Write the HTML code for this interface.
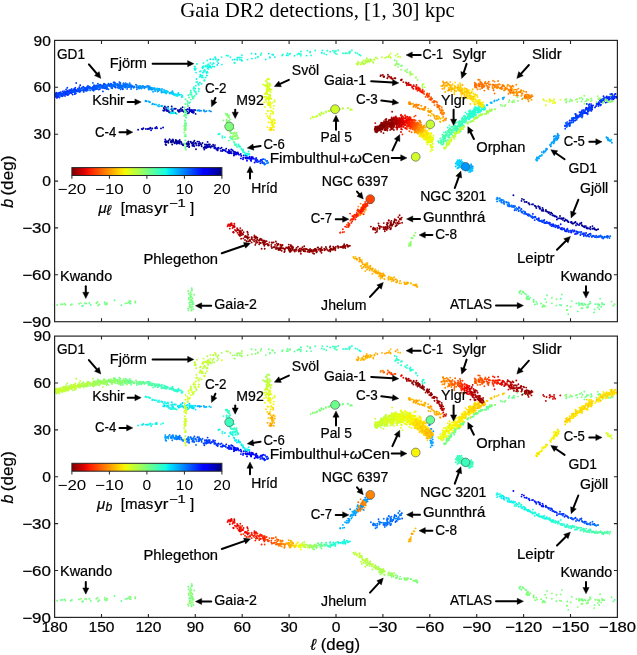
<!DOCTYPE html><html><head><meta charset="utf-8"><style>html,body{margin:0;padding:0;background:#fff}svg{display:block;will-change:transform}</style></head><body><svg width="637" height="655" viewBox="0 0 637 655">
<rect width="637" height="655" fill="#fff"/>
<g fill="none" stroke-linecap="round">
<path stroke="#000080" stroke-width="1.90" d="M172.2 110.9h0M177.8 110.3h0M166.8 141.6h0M196.0 143.5h0M180.8 141.8h0M209.3 144.8h0M193.6 144.7h0M188.5 141.6h0M172.2 144.5h0M173.1 141.0h0M174.6 143.2h0M174.1 142.4h0M190.8 142.1h0M170.8 141.8h0M188.7 145.0h0M168.7 140.6h0M172.9 139.5h0M166.1 145.0h0M165.7 141.3h0M187.0 143.8h0M205.0 146.4h0M524.6 201.9h0M526.7 202.0h0M529.6 204.5h0M532.0 204.4h0M535.3 206.3h0M535.9 206.5h0M542.5 207.9h0M546.1 211.2h0M545.8 211.1h0M551.1 212.8h0M552.1 213.6h0M554.9 216.2h0M556.0 216.4h0M560.0 216.0h0M561.1 218.2h0M568.4 222.1h0M573.0 223.8h0M574.2 222.9h0M575.1 222.5h0M581.9 225.3h0M583.8 226.7h0M585.8 226.1h0"/>
<path stroke="#00008c" stroke-width="1.90" d="M168.0 106.8h0M167.1 110.2h0M182.6 107.3h0M163.2 110.4h0M163.8 108.1h0M178.3 111.0h0M174.6 108.8h0M181.1 110.9h0M150.7 128.2h0M178.7 142.2h0M212.2 146.4h0M166.2 142.3h0M188.5 144.6h0M189.1 147.1h0M188.4 141.6h0M198.4 145.5h0M166.5 141.4h0M179.6 142.0h0M202.5 143.0h0M168.4 142.8h0M208.3 144.4h0M179.3 141.3h0M183.2 145.2h0M197.4 141.6h0M201.0 144.4h0M188.4 143.2h0M172.0 142.0h0M171.8 142.0h0M176.5 141.7h0M173.4 141.0h0M522.0 198.9h0M523.9 199.8h0M528.5 203.4h0M538.8 206.8h0M543.5 210.9h0M545.9 209.9h0M547.3 211.7h0M549.7 212.5h0M550.3 214.4h0M553.1 215.5h0M561.3 218.9h0M562.9 218.3h0M564.5 221.0h0M565.5 219.5h0M576.0 225.3h0M579.1 225.0h0M592.5 226.1h0M593.2 228.5h0M595.5 229.6h0M596.3 230.0h0M597.7 229.4h0M598.1 229.3h0"/>
<path stroke="#000098" stroke-width="1.90" d="M179.9 109.7h0M182.3 110.4h0M184.0 111.7h0M167.9 110.8h0M172.8 111.0h0M189.8 111.3h0M171.7 106.5h0M166.1 107.9h0M172.9 109.1h0M182.1 109.7h0M164.9 106.4h0M179.7 111.6h0M156.5 126.9h0M176.1 140.1h0M192.1 143.0h0M205.0 147.7h0M176.7 143.5h0M189.2 146.7h0M192.8 144.9h0M188.8 144.2h0M186.3 143.7h0M171.6 141.8h0M193.2 143.1h0M203.6 147.8h0M169.6 139.2h0M193.5 142.2h0M201.4 144.6h0M213.4 145.9h0M171.2 142.4h0M176.2 142.6h0M194.4 140.8h0M188.1 144.4h0M171.2 140.4h0M187.1 146.2h0M206.3 147.7h0M175.7 141.5h0M201.7 146.2h0M177.2 141.1h0M181.4 142.4h0M179.7 139.9h0M175.8 139.9h0M183.1 144.1h0M187.1 143.2h0M206.6 144.8h0M215.0 148.0h0M167.4 141.5h0M168.0 141.7h0M526.2 202.0h0M528.9 203.1h0M534.7 205.6h0M539.9 207.1h0M540.2 208.8h0M542.1 210.7h0M543.1 209.5h0M548.6 213.0h0M548.5 212.3h0M554.8 216.3h0M566.0 220.2h0M571.5 222.0h0M572.0 223.3h0M575.5 221.9h0M581.0 223.8h0M581.4 222.7h0M582.5 226.0h0M586.6 228.3h0M587.8 228.5h0M590.4 227.0h0M592.4 228.7h0M594.4 228.2h0"/>
<path stroke="#0000a4" stroke-width="1.90" d="M166.6 110.7h0M189.0 112.7h0M178.8 111.8h0M185.0 111.3h0M184.4 112.0h0M192.6 112.2h0M168.5 110.4h0M189.4 107.9h0M185.0 110.8h0M173.4 112.4h0M193.0 112.7h0M195.6 113.9h0M149.1 128.9h0M152.3 128.5h0M199.3 145.2h0M209.5 146.5h0M206.3 144.6h0M199.0 145.1h0M204.9 144.5h0M191.6 143.6h0M182.6 144.8h0M218.1 148.0h0M215.0 145.1h0M196.0 149.2h0M208.1 146.7h0M178.2 142.4h0M177.5 143.3h0M172.8 140.1h0M165.5 144.2h0M205.7 146.9h0M213.1 144.6h0M174.7 142.6h0M176.8 142.7h0M206.5 147.6h0M165.3 139.4h0M205.5 147.3h0M229.3 153.1h0M211.3 146.3h0M206.9 147.0h0M207.5 147.2h0M199.9 143.1h0M198.5 143.5h0M187.9 144.2h0M207.8 146.8h0M179.3 143.5h0M177.5 141.6h0M181.3 143.9h0M513.4 195.3h0M521.5 200.9h0M533.0 204.3h0M556.9 219.5h0M558.2 218.4h0M559.7 218.2h0M562.9 219.9h0M567.8 221.3h0M568.4 221.8h0M570.7 222.4h0M580.0 223.4h0M586.9 227.4h0M589.0 228.3h0M590.4 229.2h0M594.6 229.2h0"/>
<path stroke="#0000b0" stroke-width="1.90" d="M175.4 113.1h0M186.1 110.1h0M191.5 110.6h0M166.2 109.9h0M171.3 109.2h0M184.6 109.8h0M169.9 112.3h0M169.1 112.2h0M180.9 108.5h0M193.6 111.8h0M192.6 110.3h0M190.9 110.8h0M187.4 109.2h0M195.3 110.1h0M191.5 111.3h0M187.9 113.4h0M184.5 111.2h0M167.5 110.7h0M164.0 110.7h0M164.0 108.3h0M155.4 128.3h0M161.0 128.4h0M143.4 128.3h0M138.1 129.7h0M176.4 143.5h0M193.4 145.9h0M222.6 149.9h0M196.4 145.3h0M209.8 144.4h0M195.5 143.0h0M214.5 146.9h0M192.4 145.8h0M178.5 141.1h0M210.7 147.6h0M208.8 146.5h0M223.0 149.6h0M221.6 147.7h0M194.2 146.3h0M234.8 151.9h0M223.3 150.2h0M229.6 152.8h0M199.9 143.2h0M188.9 143.6h0M190.7 141.6h0M217.5 150.4h0M231.0 151.8h0M165.0 141.4h0M207.3 145.5h0M536.3 208.0h0M538.2 206.3h0M539.6 208.6h0M541.7 210.2h0M552.3 215.2h0M553.9 215.5h0M556.8 217.0h0M563.7 218.2h0M567.1 220.5h0M571.5 222.3h0M577.0 223.4h0M584.4 226.1h0M584.8 227.3h0"/>
<path stroke="#0000bc" stroke-width="1.90" d="M164.8 109.8h0M175.8 108.8h0M179.0 110.2h0M189.2 109.8h0M190.1 110.9h0M189.8 110.0h0M191.3 111.1h0M186.3 112.1h0M167.7 110.5h0M187.4 111.8h0M151.1 130.3h0M163.1 127.5h0M150.2 127.7h0M142.5 129.2h0M148.1 128.7h0M155.4 128.0h0M145.8 128.9h0M228.8 150.0h0M215.6 147.7h0M216.4 149.4h0M222.3 151.1h0M229.5 150.8h0M235.6 152.4h0M227.4 152.2h0M209.5 146.5h0M207.6 141.9h0M195.1 143.4h0M225.0 150.3h0M199.0 141.6h0M165.4 142.2h0M204.3 149.5h0M220.9 150.9h0"/>
<path stroke="#0000c8" stroke-width="1.90" d="M193.7 112.6h0M182.9 111.1h0M193.8 112.2h0M189.5 109.4h0M194.0 110.0h0M192.4 111.9h0M191.7 112.1h0M185.2 112.1h0M189.6 110.8h0M141.8 128.9h0M157.0 128.3h0M147.3 129.1h0M214.4 148.2h0M220.2 148.6h0M226.2 148.7h0M233.9 155.5h0M234.1 151.8h0M229.6 153.2h0M230.6 152.9h0M217.8 149.8h0M233.4 151.5h0M217.1 148.8h0M232.5 150.1h0M246.9 155.8h0M236.1 152.6h0M228.8 152.0h0M577.8 224.5h0"/>
<path stroke="#0000d4" stroke-width="1.90" d="M191.2 110.0h0M190.9 110.1h0M231.5 153.3h0M237.0 152.9h0M231.2 149.5h0M218.5 147.8h0M228.4 151.6h0M228.6 152.9h0M241.2 155.6h0M236.1 154.5h0M206.9 146.2h0M241.3 155.9h0M234.6 153.7h0M214.6 147.2h0"/>
<path stroke="#0000e0" stroke-width="1.90" d="M234.2 154.8h0M233.6 153.3h0M247.5 157.8h0M236.6 153.4h0M239.0 154.8h0M225.9 151.2h0M237.7 152.5h0M243.7 155.4h0M238.2 153.3h0M249.5 157.8h0M246.2 158.6h0M237.0 154.1h0M235.0 154.3h0M229.1 151.7h0M224.8 150.4h0"/>
<path stroke="#0000ec" stroke-width="1.90" d="M247.9 157.8h0M245.2 155.4h0M244.9 154.7h0M255.6 160.1h0M247.2 158.6h0M245.5 157.8h0M243.2 157.7h0M247.0 157.9h0M252.8 157.2h0M247.1 158.5h0M240.7 154.0h0M243.0 159.2h0M236.8 153.6h0M251.7 157.8h0"/>
<path stroke="#0000f8" stroke-width="1.90" d="M253.9 158.8h0"/>
<path stroke="#0000ff" stroke-width="1.90" d="M251.7 159.0h0M247.0 160.7h0M256.3 158.1h0M240.9 158.4h0M249.9 158.8h0M245.4 157.8h0M251.6 156.9h0M251.3 158.0h0M256.2 161.7h0M251.1 158.9h0"/>
<path stroke="#0000ff" stroke-width="1.90" d="M60.3 93.9h0M252.4 158.4h0M251.2 160.9h0M249.6 156.6h0M249.0 158.6h0M592.1 105.7h0M553.7 225.3h0M562.0 227.9h0M575.0 234.1h0"/>
<path stroke="#000bff" stroke-width="1.90" d="M60.7 94.5h0M58.2 95.6h0M55.4 93.5h0M55.9 94.7h0M250.8 160.2h0M254.6 162.5h0M589.5 104.1h0M584.5 113.1h0M616.1 96.8h0M605.8 102.6h0M606.8 96.4h0M591.1 107.1h0M596.7 104.0h0M611.9 94.0h0M613.4 98.6h0M616.3 97.8h0M609.0 96.9h0M614.3 96.8h0M602.2 101.6h0M561.2 228.6h0M571.2 232.5h0M574.0 231.6h0"/>
<path stroke="#0015ff" stroke-width="1.90" d="M69.9 90.8h0M61.8 94.1h0M57.5 96.9h0M58.0 94.0h0M56.8 96.1h0M56.0 96.8h0M257.1 160.1h0M261.4 159.9h0M255.9 160.3h0M604.5 99.0h0M586.7 113.3h0M612.5 98.6h0M613.0 96.8h0M591.3 108.8h0M610.1 98.6h0M609.4 99.6h0M592.1 109.5h0M611.7 96.5h0M614.6 96.8h0M608.2 97.8h0M603.5 96.3h0M586.3 107.7h0M571.2 120.8h0M582.7 113.7h0M588.2 110.3h0M588.5 110.1h0M582.5 115.9h0M576.0 115.7h0M612.4 96.4h0M616.4 96.6h0M601.6 100.6h0M610.9 96.1h0M600.9 104.8h0M538.8 218.2h0M538.2 220.2h0M549.5 222.6h0M551.8 224.5h0M552.4 225.5h0M558.0 228.1h0M560.7 224.2h0M559.1 227.2h0M561.6 229.2h0M566.9 231.4h0M571.4 231.9h0M576.3 231.4h0M586.1 232.9h0M587.6 235.0h0"/>
<path stroke="#0020ff" stroke-width="1.90" d="M68.7 91.9h0M57.3 94.3h0M65.0 95.9h0M66.1 93.2h0M65.4 94.1h0M60.4 94.9h0M69.3 90.4h0M66.0 93.3h0M55.6 96.6h0M55.6 95.9h0M61.3 95.9h0M77.3 90.0h0M59.3 92.8h0M56.5 94.0h0M71.6 93.3h0M59.7 93.9h0M79.5 91.7h0M58.3 96.7h0M71.9 90.4h0M75.6 90.5h0M80.2 85.2h0M256.9 160.5h0M260.7 160.2h0M258.8 161.5h0M257.4 160.1h0M613.7 96.4h0M613.6 99.1h0M591.5 105.7h0M575.9 117.3h0M576.1 117.5h0M582.6 112.5h0M595.0 107.4h0M606.0 97.5h0M576.8 115.8h0M592.0 107.8h0M614.5 97.8h0M579.7 114.7h0M601.0 100.6h0M599.9 100.4h0M601.8 100.6h0M615.6 94.0h0M588.1 111.2h0M585.3 113.0h0M601.3 101.9h0M580.8 114.8h0M602.5 100.8h0M577.9 117.5h0M609.5 97.4h0M606.4 100.2h0M586.8 103.9h0M608.3 99.7h0M612.8 97.1h0M604.5 98.8h0M591.1 104.1h0M613.4 99.2h0M598.9 103.0h0M597.5 104.3h0M596.1 106.0h0M607.3 98.7h0M602.7 101.0h0M611.9 94.4h0M588.2 107.9h0M584.9 112.7h0M591.3 110.9h0M589.5 107.3h0M613.1 96.6h0M575.6 114.0h0M570.0 123.5h0M591.1 105.6h0M598.7 104.2h0M581.2 114.2h0M537.0 219.1h0M539.2 220.8h0M543.8 220.6h0M545.4 222.8h0M547.9 223.0h0M549.8 222.9h0M550.2 224.9h0M553.1 224.3h0M557.7 227.0h0M560.5 228.5h0M564.0 228.9h0M564.8 230.4h0M565.3 231.3h0M566.6 229.7h0M571.1 230.8h0M574.5 230.5h0M575.9 233.5h0M580.0 232.1h0M580.4 235.0h0M585.1 235.0h0M585.7 235.5h0"/>
<path stroke="#002aff" stroke-width="1.90" d="M65.3 91.7h0M56.9 97.9h0M87.5 86.4h0M67.2 90.7h0M63.0 94.8h0M65.0 91.8h0M70.8 91.1h0M80.1 90.1h0M66.2 94.5h0M75.6 91.4h0M79.6 90.3h0M64.2 92.3h0M71.1 92.6h0M76.9 90.9h0M72.7 94.6h0M87.3 89.7h0M60.9 95.4h0M63.9 94.1h0M58.9 95.9h0M61.3 94.9h0M55.9 95.5h0M74.2 90.4h0M61.4 94.8h0M67.3 92.7h0M58.9 94.7h0M73.4 91.9h0M57.8 95.5h0M59.8 93.5h0M88.9 87.2h0M105.0 88.4h0M67.9 95.0h0M70.9 92.2h0M74.1 89.9h0M61.0 93.5h0M61.0 93.7h0M58.9 93.3h0M70.2 91.1h0M63.2 93.1h0M87.3 88.5h0M66.4 92.8h0M72.0 91.5h0M64.5 93.3h0M68.9 93.2h0M69.6 92.9h0M79.3 87.3h0M74.3 90.0h0M74.9 93.7h0M75.6 90.3h0M255.5 159.8h0M256.6 160.9h0M260.0 161.3h0M255.8 160.3h0M260.4 163.2h0M262.2 161.4h0M256.0 158.5h0M260.8 160.0h0M586.6 113.0h0M592.0 106.1h0M607.2 102.1h0M575.9 116.1h0M589.1 107.9h0M611.9 99.1h0M587.4 108.7h0M588.6 109.3h0M578.7 116.4h0M600.8 99.3h0M614.3 97.9h0M567.6 124.5h0M599.4 103.5h0M585.5 109.8h0M602.0 100.8h0M580.0 116.2h0M586.0 108.4h0M581.5 112.9h0M598.7 102.1h0M607.3 97.5h0M579.5 112.1h0M591.1 108.7h0M603.1 98.8h0M596.8 104.3h0M602.4 100.4h0M612.3 96.7h0M615.0 94.3h0M592.3 107.5h0M603.7 98.4h0M584.9 111.4h0M597.0 103.4h0M575.2 120.5h0M611.7 100.7h0M588.9 107.1h0M571.8 122.6h0M569.7 120.5h0M587.6 113.5h0M614.2 95.1h0M591.0 109.4h0M599.8 104.5h0M574.9 120.6h0M600.3 105.4h0M575.6 117.7h0M583.6 111.8h0M565.2 125.5h0M611.6 97.0h0M532.9 213.9h0M532.3 216.5h0M542.3 222.1h0M545.6 222.8h0M548.8 222.7h0M553.2 226.3h0M555.4 227.3h0M556.6 225.8h0M558.4 225.8h0M560.7 228.8h0M563.9 228.4h0M564.0 229.0h0M567.4 228.8h0M566.9 230.1h0M570.4 230.6h0M572.7 230.1h0M573.4 231.3h0M573.3 231.5h0M577.1 231.8h0M576.8 233.8h0M577.2 233.6h0M578.5 232.6h0M582.3 233.9h0M582.6 234.1h0M583.6 234.0h0M583.8 236.0h0M588.6 234.7h0M600.0 236.5h0"/>
<path stroke="#0035ff" stroke-width="1.90" d="M58.9 94.4h0M63.5 94.7h0M79.6 91.5h0M62.7 93.9h0M69.4 93.0h0M75.0 92.1h0M56.4 94.8h0M57.1 95.5h0M98.2 86.6h0M65.3 92.5h0M71.0 91.5h0M87.2 88.4h0M56.4 92.8h0M93.6 89.1h0M62.6 91.5h0M115.0 86.4h0M106.0 87.8h0M90.0 88.3h0M67.9 94.6h0M77.4 91.2h0M58.7 94.4h0M85.7 88.2h0M75.0 88.4h0M57.5 94.3h0M68.1 92.5h0M62.6 96.3h0M70.7 91.2h0M60.6 93.0h0M84.0 89.3h0M78.0 90.0h0M58.0 93.4h0M94.0 85.4h0M56.4 93.8h0M78.8 91.3h0M86.7 90.0h0M70.0 92.3h0M96.2 87.9h0M103.1 86.7h0M100.6 86.6h0M56.1 95.2h0M73.8 89.1h0M94.5 87.2h0M68.6 92.5h0M60.1 94.3h0M72.4 91.7h0M66.6 94.3h0M92.4 88.1h0M57.4 94.8h0M100.0 85.0h0M64.0 93.8h0M69.3 90.3h0M100.8 86.0h0M56.8 93.3h0M68.8 94.1h0M71.0 89.7h0M56.2 96.1h0M57.0 93.9h0M75.3 87.7h0M74.8 94.0h0M115.5 87.5h0M65.0 93.2h0M66.9 91.7h0M75.5 90.1h0M102.9 91.4h0M76.0 90.4h0M55.4 94.4h0M78.0 88.8h0M83.4 89.4h0M263.4 159.1h0M262.6 162.2h0M567.0 125.0h0M569.4 122.5h0M582.0 110.5h0M580.5 114.2h0M583.9 110.3h0M581.5 112.6h0M593.1 105.4h0M578.8 116.6h0M612.3 96.1h0M567.6 124.9h0M584.4 112.5h0M608.7 98.3h0M575.9 117.8h0M577.0 115.4h0M588.8 109.5h0M580.7 112.3h0M598.4 106.0h0M604.9 99.0h0M573.4 121.5h0M601.0 101.9h0M581.7 113.3h0M581.5 111.6h0M603.6 100.2h0M577.6 116.4h0M588.4 109.7h0M575.4 113.9h0M577.4 117.8h0M611.8 97.9h0M603.9 101.5h0M586.9 109.5h0M567.1 122.1h0M582.4 113.4h0M580.6 113.5h0M604.6 97.8h0M572.7 119.0h0M565.0 126.1h0M581.7 112.1h0M587.8 111.8h0M588.0 110.3h0M519.5 207.8h0M526.9 214.1h0M529.9 215.6h0M534.0 217.5h0M535.5 217.2h0M534.7 220.1h0M539.9 220.6h0M541.4 221.4h0M542.4 221.3h0M544.3 219.9h0M544.3 223.0h0M546.8 223.1h0M549.2 223.7h0M551.5 226.1h0M554.0 226.3h0M556.6 226.4h0M562.3 229.6h0M568.9 232.0h0M568.6 230.6h0M584.7 233.4h0M589.6 234.0h0M589.3 236.6h0M590.5 233.8h0M591.7 236.7h0M592.5 236.1h0M593.9 235.9h0M597.6 236.9h0"/>
<path stroke="#0040ff" stroke-width="1.90" d="M83.1 90.0h0M73.3 90.2h0M69.8 92.7h0M69.7 91.9h0M93.9 86.7h0M102.6 87.1h0M87.4 89.1h0M84.6 88.0h0M68.7 93.1h0M103.1 85.7h0M111.0 84.0h0M102.4 86.8h0M81.4 88.3h0M62.9 95.3h0M83.7 90.5h0M68.6 93.6h0M83.7 91.9h0M64.0 94.8h0M74.5 90.1h0M69.0 92.1h0M79.4 91.0h0M89.5 88.3h0M87.1 88.4h0M100.1 84.7h0M83.6 90.1h0M103.7 86.4h0M73.1 92.1h0M114.5 82.4h0M63.4 94.1h0M58.9 93.8h0M71.7 90.0h0M57.8 93.7h0M87.7 87.0h0M100.5 86.7h0M83.5 86.7h0M77.7 89.8h0M57.9 95.3h0M87.6 86.6h0M73.0 91.4h0M91.3 88.0h0M122.8 89.2h0M60.9 93.3h0M99.8 89.1h0M59.5 97.6h0M117.3 85.7h0M92.7 87.7h0M104.4 84.0h0M60.6 92.3h0M85.7 90.3h0M59.5 94.6h0M61.2 94.2h0M85.4 88.5h0M103.4 84.9h0M95.4 88.8h0M83.2 86.9h0M79.7 89.7h0M69.8 91.3h0M58.4 93.8h0M66.1 89.4h0M84.1 90.4h0M76.2 83.0h0M95.2 86.3h0M123.5 83.9h0M71.1 90.3h0M74.7 91.0h0M98.9 89.5h0M67.3 87.7h0M257.8 162.1h0M262.2 162.8h0M263.4 163.3h0M566.6 126.9h0M573.7 118.7h0M573.4 120.6h0M574.9 118.2h0M612.4 97.1h0M576.4 117.1h0M581.0 116.0h0M569.1 123.7h0M572.8 119.1h0M606.7 100.2h0M583.6 112.5h0M590.8 110.0h0M581.8 115.8h0M589.6 108.7h0M589.0 110.7h0M589.6 106.5h0M575.8 118.6h0M569.2 124.0h0M588.7 105.0h0M583.1 112.6h0M583.4 113.3h0M568.5 123.9h0M578.2 115.8h0M583.1 110.2h0M569.7 126.0h0M590.7 107.6h0M573.6 117.8h0M581.1 114.6h0M600.4 101.0h0M613.3 96.9h0M565.7 125.6h0M582.1 114.4h0M571.9 119.9h0M513.9 207.1h0M517.3 208.9h0M521.9 211.5h0M525.3 212.1h0M526.0 213.8h0M527.3 214.6h0M527.8 215.2h0M530.9 216.4h0M532.6 218.0h0M534.3 216.9h0M535.2 216.7h0M536.7 219.0h0M537.3 219.2h0M539.0 219.9h0M540.1 221.0h0M544.0 222.0h0M546.8 221.6h0M550.1 224.1h0M555.2 225.3h0M568.6 230.8h0M580.7 234.2h0M581.3 232.0h0M588.2 236.2h0M595.4 237.1h0M596.1 235.6h0M598.6 237.0h0M599.4 236.5h0"/>
<path stroke="#004aff" stroke-width="1.90" d="M84.7 88.7h0M67.6 92.4h0M87.3 87.4h0M82.3 87.4h0M97.7 87.7h0M108.5 83.8h0M115.8 85.1h0M106.0 86.2h0M105.2 85.9h0M71.3 91.7h0M113.6 82.4h0M64.1 91.1h0M68.4 93.1h0M85.3 90.5h0M93.3 87.8h0M81.8 90.6h0M100.4 87.4h0M72.9 91.8h0M77.4 90.3h0M64.2 94.2h0M68.5 93.5h0M64.4 91.5h0M78.0 91.1h0M96.3 87.9h0M67.6 93.0h0M119.4 82.1h0M120.0 85.5h0M94.3 86.8h0M81.8 90.3h0M94.9 89.6h0M118.3 84.5h0M84.6 89.7h0M68.1 92.9h0M107.2 85.1h0M115.7 85.1h0M90.2 87.8h0M94.8 89.4h0M73.9 91.0h0M93.8 87.2h0M97.6 85.9h0M119.9 84.2h0M111.4 84.2h0M126.2 85.0h0M96.2 85.4h0M86.8 87.8h0M97.0 87.2h0M112.9 86.1h0M79.7 90.4h0M59.4 94.5h0M111.5 87.9h0M114.8 85.3h0M95.4 88.7h0M92.4 89.8h0M118.8 86.6h0M61.3 94.0h0M110.4 86.2h0M96.7 89.1h0M89.1 88.0h0M262.3 159.5h0M610.3 94.3h0M587.6 114.2h0M575.2 117.7h0M573.1 118.0h0M575.8 115.4h0M566.6 123.4h0M579.8 116.5h0M576.7 119.7h0M568.6 124.2h0M570.0 125.0h0M571.8 118.2h0M582.0 117.5h0M518.8 207.3h0M518.6 211.0h0M521.3 208.9h0M521.9 212.0h0M524.8 212.2h0M524.1 213.8h0M528.6 214.3h0M528.7 215.7h0M578.6 232.3h0M583.3 233.1h0M592.1 236.5h0M593.2 235.8h0M593.2 236.3h0M602.1 237.7h0M601.8 237.4h0M604.7 236.6h0M607.3 236.1h0M608.7 236.4h0"/>
<path stroke="#0055ff" stroke-width="1.90" d="M106.9 86.7h0M123.4 85.7h0M108.4 85.6h0M93.6 90.8h0M103.0 86.0h0M111.6 85.4h0M84.1 89.1h0M88.0 90.1h0M79.0 89.4h0M90.1 87.6h0M120.2 86.8h0M91.9 88.8h0M86.9 87.7h0M92.6 90.0h0M94.0 85.5h0M110.5 85.6h0M121.0 87.4h0M101.2 86.0h0M63.4 95.1h0M90.0 88.8h0M113.9 85.6h0M103.0 87.4h0M104.0 83.6h0M97.9 83.8h0M96.8 88.5h0M97.5 87.7h0M103.0 88.2h0M115.8 84.6h0M79.7 88.7h0M120.4 83.0h0M109.4 85.6h0M97.3 88.8h0M115.4 83.3h0M105.2 84.8h0M110.6 83.8h0M80.2 91.6h0M74.7 91.9h0M99.9 86.9h0M82.1 88.1h0M93.2 86.7h0M94.2 89.5h0M96.5 87.4h0M101.1 85.2h0M71.7 88.9h0M88.0 85.9h0M78.1 89.5h0M92.7 86.9h0M104.0 87.2h0M109.7 85.1h0M126.8 86.3h0M98.3 85.1h0M108.8 84.7h0M94.3 86.0h0M122.2 85.8h0M76.0 93.2h0M91.2 88.4h0M130.2 86.0h0M105.6 84.8h0M106.8 88.4h0M114.6 86.8h0M100.2 88.0h0M96.4 86.8h0M86.7 90.9h0M89.7 86.8h0M267.2 160.9h0M263.9 163.3h0M602.4 102.5h0M581.6 115.4h0M565.2 128.8h0M570.5 122.6h0M573.2 120.0h0M509.1 205.8h0M513.1 205.7h0M514.8 206.2h0M514.6 210.2h0M518.1 208.9h0M521.4 209.4h0M522.4 212.7h0M525.2 213.5h0M526.6 214.1h0M529.6 214.9h0M530.8 216.3h0M532.0 217.3h0M541.9 220.5h0M586.6 236.2h0M594.8 237.1h0M596.7 237.2h0M598.5 236.2h0M603.2 238.5h0M604.6 237.4h0M607.2 236.1h0"/>
<path stroke="#0060ff" stroke-width="1.90" d="M96.7 87.0h0M131.5 86.4h0M94.5 88.2h0M120.6 86.2h0M99.8 85.5h0M131.2 86.5h0M106.7 89.1h0M80.5 88.9h0M113.5 84.4h0M105.3 85.4h0M112.2 88.2h0M117.4 87.5h0M127.6 84.3h0M119.9 84.2h0M122.8 88.2h0M130.4 85.7h0M117.3 84.4h0M107.2 87.9h0M119.0 85.3h0M110.3 85.5h0M111.6 85.8h0M125.9 85.2h0M121.3 85.4h0M111.0 85.8h0M126.3 84.5h0M109.4 86.1h0M107.0 85.7h0M99.1 85.8h0M131.1 87.7h0M139.0 86.5h0M104.1 87.3h0M127.4 87.1h0M121.0 86.3h0M122.1 85.8h0M60.1 95.7h0M118.4 86.0h0M128.4 85.9h0M119.0 88.3h0M123.7 83.5h0M92.9 82.9h0M120.7 89.3h0M121.3 86.8h0M124.4 87.0h0M108.4 89.2h0M267.0 163.2h0M265.1 164.3h0M566.9 126.3h0M573.2 122.4h0M566.8 124.8h0M504.0 201.3h0M509.1 206.4h0M510.0 206.1h0M515.2 208.9h0M521.4 212.0h0M590.7 235.0h0M597.1 237.1h0M600.6 235.4h0M601.6 236.8h0M602.7 236.7h0M602.9 237.5h0M606.2 237.1h0M606.1 236.7h0M607.5 237.7h0M610.3 236.1h0"/>
<path stroke="#006aff" stroke-width="1.90" d="M125.6 84.9h0M126.0 86.2h0M132.4 86.2h0M132.5 86.7h0M129.5 85.8h0M128.6 87.1h0M110.5 86.4h0M123.9 85.7h0M110.6 84.1h0M118.7 85.3h0M123.6 83.5h0M118.5 84.7h0M123.6 84.5h0M125.8 83.1h0M122.0 87.1h0M124.8 86.6h0M140.2 87.0h0M113.3 86.3h0M125.8 86.9h0M124.9 86.1h0M131.5 85.5h0M124.9 84.9h0M98.1 87.3h0M125.5 86.7h0M112.5 84.9h0M101.4 87.7h0M114.3 85.1h0M112.2 87.0h0M119.7 87.5h0M122.7 85.9h0M131.1 89.1h0M136.0 84.7h0M134.0 86.5h0M105.1 86.3h0M264.6 163.9h0M264.2 163.0h0M264.5 164.5h0M567.6 125.9h0M565.8 122.9h0M503.8 202.3h0M506.1 201.9h0M506.3 202.5h0M506.8 202.3h0M508.7 203.0h0M507.8 205.8h0M509.2 204.2h0M511.4 205.4h0M511.2 206.6h0M512.8 206.9h0M514.9 206.3h0M520.2 210.5h0M523.8 211.1h0"/>
<path stroke="#0075ff" stroke-width="1.90" d="M138.9 87.1h0M117.1 84.0h0M120.6 85.9h0M137.0 87.5h0M139.3 88.2h0M145.0 86.8h0M134.7 87.0h0M129.0 86.7h0M125.5 87.6h0M114.5 83.9h0M147.1 86.0h0M136.9 89.3h0M148.6 86.1h0M121.8 88.0h0M133.7 87.7h0M100.5 86.9h0M129.7 83.2h0M127.2 88.9h0M138.8 88.0h0M118.5 87.2h0M90.1 90.4h0M266.2 161.0h0M265.0 159.5h0M554.2 141.2h0M501.3 199.6h0M501.4 202.5h0M503.3 202.8h0M504.2 204.0h0M511.8 206.5h0M516.4 207.9h0M516.3 210.3h0M609.5 238.0h0"/>
<path stroke="#0080ff" stroke-width="1.90" d="M141.3 86.4h0M150.5 88.1h0M115.8 85.3h0M123.9 85.4h0M127.2 86.9h0M150.2 88.6h0M128.9 86.4h0M126.8 86.3h0M150.2 88.7h0M129.0 84.7h0M137.0 85.7h0M136.7 86.9h0M144.3 87.2h0M141.2 88.6h0M139.1 87.2h0M143.0 86.2h0M129.5 87.3h0M210.9 111.4h0M556.5 140.1h0M556.4 137.7h0M557.5 139.0h0M550.2 145.0h0M553.8 136.5h0M497.2 197.6h0M497.7 198.2h0M497.1 201.4h0M501.6 200.6h0M501.3 201.5h0M502.9 200.0h0M507.5 204.5h0"/>
<path stroke="#008aff" stroke-width="1.90" d="M139.6 86.0h0M151.7 89.1h0M145.2 87.0h0M142.7 87.3h0M142.6 87.7h0M150.6 88.9h0M156.1 89.6h0M150.0 88.3h0M140.1 86.3h0M142.8 86.6h0M130.5 84.6h0M151.0 87.8h0M201.0 110.7h0M199.5 110.5h0M198.7 110.3h0M203.9 110.3h0M197.4 110.5h0M268.2 162.5h0M540.2 156.1h0M555.0 136.0h0M556.4 138.4h0M546.1 148.7h0M557.9 134.8h0M541.9 152.1h0M554.4 138.6h0M553.2 142.1h0M544.2 151.7h0M609.7 140.7h0M496.6 199.2h0M497.9 198.7h0M499.9 198.2h0M500.2 200.3h0M499.4 200.9h0M508.3 202.4h0"/>
<path stroke="#0095ff" stroke-width="1.90" d="M154.8 88.3h0M149.1 87.1h0M148.4 88.3h0M150.5 87.7h0M146.0 87.2h0M151.9 89.8h0M152.8 89.4h0M158.8 88.7h0M144.4 88.3h0M159.5 89.0h0M151.6 88.6h0M139.0 88.6h0M149.7 86.4h0M149.6 88.2h0M148.1 87.5h0M152.9 103.8h0M205.1 111.6h0M204.3 111.2h0M267.6 163.1h0M469.3 170.3h0M472.8 166.6h0M464.8 169.8h0M470.5 168.4h0M469.3 167.1h0M550.9 146.4h0M551.8 142.4h0M554.2 139.8h0M546.8 149.5h0M538.9 158.6h0M547.2 149.1h0M543.8 151.2h0M556.0 139.5h0M553.7 141.0h0M550.7 144.9h0M557.1 135.9h0M558.5 137.7h0M558.2 136.3h0M558.2 137.5h0M607.3 138.0h0"/>
<path stroke="#009fff" stroke-width="1.90" d="M157.6 88.7h0M157.2 89.7h0M155.1 91.0h0M158.4 91.0h0M165.8 91.5h0M169.6 93.4h0M151.3 88.6h0M142.8 86.0h0M172.0 92.8h0M150.0 89.4h0M154.0 88.5h0M148.7 89.5h0M141.2 88.1h0M161.4 90.9h0M172.2 109.4h0M146.0 101.2h0M145.7 100.7h0M145.4 101.1h0M146.7 101.3h0M206.5 111.0h0M209.3 110.7h0M504.0 97.5h0M503.0 98.9h0M498.6 99.4h0M460.3 161.6h0M470.4 171.8h0M464.5 165.0h0M461.9 164.0h0M464.0 164.0h0M467.4 164.5h0M471.3 168.5h0M463.4 166.9h0M553.7 143.4h0M556.2 137.3h0M536.4 160.1h0M543.6 152.9h0M538.4 157.1h0M541.4 155.5h0M558.9 135.6h0M556.1 139.7h0M536.1 159.4h0M536.6 160.5h0M537.0 158.5h0M556.1 137.2h0M554.1 139.8h0M545.8 150.5h0M554.4 141.8h0M557.6 133.8h0M611.9 142.7h0M607.9 139.5h0M608.1 140.4h0M607.6 138.4h0M606.4 137.3h0M608.4 139.2h0"/>
<path stroke="#00aaff" stroke-width="1.90" d="M157.8 89.2h0M140.0 86.0h0M162.0 88.9h0M165.6 90.6h0M159.7 90.1h0M161.5 92.5h0M172.3 91.8h0M172.5 93.6h0M162.6 92.1h0M159.5 89.0h0M157.5 91.6h0M152.8 87.9h0M153.1 91.7h0M159.0 106.4h0M172.7 108.5h0M168.0 107.9h0M167.4 107.2h0M149.7 102.0h0M161.9 105.7h0M154.2 104.4h0M199.6 111.1h0M486.9 105.1h0M496.9 100.4h0M494.6 100.5h0M502.7 98.0h0M465.2 164.3h0M465.4 167.6h0M467.8 170.5h0M471.7 165.8h0M466.9 165.6h0M471.3 167.0h0M465.6 165.5h0M466.9 168.8h0M461.6 162.5h0M469.8 166.9h0M463.9 165.2h0M463.3 163.5h0M469.1 169.1h0M468.1 164.7h0M466.9 164.8h0M466.8 165.1h0M471.2 167.7h0M464.2 163.3h0M470.2 170.2h0M465.9 168.8h0M550.5 144.7h0M538.0 157.7h0M551.4 143.4h0M539.8 156.1h0M537.3 160.2h0M536.9 157.4h0M554.8 139.1h0M538.8 157.9h0M609.5 140.3h0"/>
<path stroke="#00b5ff" stroke-width="1.90" d="M167.7 91.5h0M161.9 90.9h0M154.8 89.8h0M159.0 89.5h0M164.9 92.4h0M173.5 93.6h0M172.0 92.7h0M165.6 91.8h0M170.6 92.8h0M161.2 89.9h0M158.0 90.1h0M164.3 91.3h0M158.8 89.9h0M149.9 102.3h0M161.1 106.0h0M148.6 101.5h0M156.0 104.5h0M162.5 106.3h0M152.2 104.3h0M502.9 98.5h0M494.3 101.4h0M491.5 102.5h0M461.9 168.4h0M462.8 163.7h0M462.3 166.1h0M463.3 168.3h0M457.0 162.1h0M465.5 170.5h0M462.7 165.0h0M470.3 170.5h0M460.6 167.0h0M472.8 168.2h0M472.2 168.3h0M466.9 166.5h0M460.1 164.2h0M457.0 163.4h0M461.1 163.8h0M457.7 164.0h0M469.8 167.8h0M469.1 168.6h0M471.1 168.8h0M536.6 159.9h0M536.7 160.3h0M552.7 142.3h0M545.4 151.5h0M611.3 139.6h0M610.7 141.0h0M608.1 138.3h0"/>
<path stroke="#00bfff" stroke-width="1.90" d="M170.0 92.6h0M157.2 88.8h0M172.8 92.8h0M166.1 93.4h0M164.0 89.7h0M161.7 91.8h0M172.5 91.1h0M166.3 91.2h0M165.5 92.2h0M159.0 104.8h0M490.7 102.6h0M490.6 102.7h0M491.7 103.1h0M459.7 163.1h0M466.0 168.4h0M465.8 168.2h0M467.5 165.4h0M459.3 161.1h0M467.6 167.2h0M470.4 165.6h0M459.2 165.2h0M462.7 163.0h0M468.2 168.7h0M455.7 163.6h0M469.1 166.6h0M466.6 169.4h0M465.8 168.8h0M459.5 166.7h0M459.0 165.6h0M468.2 166.1h0M462.0 166.6h0M471.9 168.7h0M463.4 166.2h0M465.7 167.3h0M467.0 170.3h0M464.1 165.0h0M471.4 170.7h0M471.2 164.3h0M541.8 155.4h0M556.5 140.1h0"/>
<path stroke="#00caff" stroke-width="1.90" d="M172.4 92.7h0M171.9 93.0h0M163.9 92.4h0M176.9 94.6h0M173.5 93.4h0M167.8 92.0h0M487.4 105.3h0M458.5 164.0h0M457.4 161.9h0M459.2 162.6h0M458.5 164.5h0M472.2 169.0h0M468.6 167.1h0M467.4 167.7h0M457.2 165.0h0M461.1 164.0h0M458.7 167.7h0M457.8 163.8h0M462.3 162.0h0M469.4 170.0h0M468.5 165.7h0M455.7 166.5h0M458.2 167.2h0M459.7 160.2h0M462.8 169.6h0M470.4 170.4h0M461.8 165.5h0M460.7 165.1h0M472.5 170.8h0M465.5 168.1h0M457.4 168.2h0M541.8 154.6h0"/>
<path stroke="#00d4ff" stroke-width="1.90" d="M166.6 92.4h0M174.1 95.0h0M165.0 90.9h0M175.5 94.2h0M171.5 93.6h0M172.6 93.9h0M167.0 91.5h0M156.5 88.7h0M178.7 94.8h0M179.0 94.9h0M218.3 63.1h0M157.6 105.8h0M168.5 109.4h0M458.0 165.1h0M460.8 164.3h0M460.2 167.1h0M459.1 164.3h0M457.2 163.1h0M458.9 160.5h0M458.9 160.7h0M468.0 169.2h0M459.1 161.7h0M460.6 166.0h0M457.8 163.1h0"/>
<path stroke="#00dffc" stroke-width="1.90" d="M177.4 95.7h0M181.0 94.8h0M179.1 94.4h0M178.4 92.9h0M176.9 95.2h0M176.2 95.2h0M268.7 53.6h0M217.3 64.9h0M210.3 59.2h0M173.5 112.0h0M171.9 113.2h0M483.6 109.3h0M470.6 115.7h0M481.9 106.9h0M475.0 112.6h0M461.4 160.1h0M457.4 162.4h0M461.3 164.6h0M456.4 162.8h0M457.6 160.3h0M458.7 163.6h0M469.0 172.1h0M464.4 165.0h0"/>
<path stroke="#03eaf3" stroke-width="1.90" d="M177.7 94.3h0M181.6 97.1h0M182.4 96.9h0M269.9 57.1h0M234.8 59.4h0M274.8 57.1h0M238.0 57.5h0M234.4 62.7h0M237.2 59.9h0M255.6 54.0h0M207.3 66.0h0M218.4 59.8h0M202.9 66.7h0M208.8 66.7h0M210.1 66.2h0M213.7 63.1h0M194.6 68.4h0M206.9 75.5h0M198.2 84.0h0M204.9 71.0h0M206.4 72.7h0M207.6 72.6h0M170.5 113.4h0M176.6 113.7h0M478.8 108.2h0M478.3 111.8h0M480.6 105.9h0M474.1 112.5h0M482.5 108.8h0M482.8 107.2h0M483.8 109.4h0M469.4 113.5h0"/>
<path stroke="#0cf4eb" stroke-width="1.90" d="M175.6 95.5h0M177.3 95.9h0M182.4 95.8h0M272.2 54.5h0M251.9 58.6h0M286.7 55.3h0M209.5 65.4h0M321.8 52.8h0M294.5 55.8h0M300.9 54.1h0M241.4 60.0h0M306.6 55.6h0M242.0 60.7h0M273.2 54.9h0M265.7 59.4h0M208.2 69.1h0M215.1 57.3h0M215.9 59.4h0M200.3 74.6h0M201.3 75.8h0M199.9 82.8h0M200.0 71.6h0M200.3 76.2h0M195.1 69.9h0M195.1 88.8h0M194.9 69.3h0M203.0 72.7h0M196.5 79.0h0M174.7 113.1h0M171.1 112.6h0M172.9 113.3h0M242.9 149.5h0M247.5 155.4h0M249.4 154.3h0M218.4 134.3h0M480.0 111.8h0M482.6 107.7h0M483.6 105.0h0M471.3 113.9h0M473.7 114.5h0M473.1 110.7h0M479.1 110.9h0M477.3 112.5h0M482.0 107.7h0M478.4 108.8h0M485.2 108.8h0M478.7 110.1h0"/>
<path stroke="#15ffe2" stroke-width="1.90" d="M239.9 59.5h0M209.8 67.3h0M300.9 51.5h0M239.9 57.5h0M258.0 56.8h0M215.6 58.2h0M207.3 60.5h0M206.0 66.7h0M212.6 66.4h0M247.6 59.6h0M211.4 67.7h0M322.4 50.4h0M226.4 55.6h0M287.9 55.4h0M241.9 55.2h0M214.3 66.7h0M203.0 67.8h0M212.4 64.3h0M207.6 65.1h0M203.5 62.9h0M208.2 66.7h0M196.1 72.6h0M208.2 64.2h0M197.0 64.0h0M207.7 68.1h0M203.8 66.6h0M203.7 66.3h0M221.9 64.6h0M195.7 92.0h0M200.7 71.1h0M202.6 75.8h0M202.8 68.2h0M204.4 80.1h0M195.9 68.8h0M194.0 87.2h0M201.6 77.3h0M205.6 77.6h0M174.2 112.9h0M248.6 151.5h0M247.5 153.7h0M242.9 150.4h0M244.6 152.4h0M219.7 133.7h0M460.1 125.2h0M483.7 106.8h0M481.7 106.5h0M479.8 106.9h0M478.7 111.2h0M468.5 113.9h0M472.2 115.2h0M469.6 115.1h0M480.6 106.8h0M475.1 107.1h0M482.9 108.9h0M480.8 110.9h0M484.0 107.0h0M477.9 109.9h0M475.6 112.5h0M472.2 113.1h0M474.2 108.9h0M481.6 107.8h0M484.0 109.8h0M478.2 112.6h0M468.5 117.9h0M473.5 115.1h0M473.5 111.4h0M471.5 113.1h0M472.4 112.4h0M480.4 110.4h0"/>
<path stroke="#1dffda" stroke-width="1.90" d="M287.5 53.2h0M349.4 51.6h0M217.3 61.0h0M228.0 55.8h0M205.8 65.7h0M282.1 55.5h0M260.7 55.0h0M357.5 53.4h0M343.1 53.3h0M232.6 59.7h0M210.3 62.9h0M299.3 54.0h0M290.2 53.6h0M315.2 50.5h0M326.3 54.6h0M324.1 53.5h0M298.7 53.4h0M255.6 58.1h0M307.4 50.6h0M270.0 57.8h0M230.4 57.3h0M338.1 50.2h0M204.5 69.9h0M195.0 66.8h0M202.3 67.8h0M213.2 59.5h0M207.2 71.7h0M204.4 71.5h0M201.7 83.9h0M196.3 93.5h0M198.8 85.1h0M203.9 70.9h0M246.8 153.8h0M240.2 146.6h0M248.7 154.3h0M243.3 151.7h0M244.8 154.7h0M245.8 153.7h0M473.7 112.7h0M477.3 110.5h0M468.8 119.4h0M472.1 112.2h0M459.6 126.9h0M474.7 112.0h0M481.2 110.7h0M470.8 113.3h0M456.9 127.0h0M474.9 112.4h0M478.7 108.7h0M456.8 130.9h0M465.8 119.1h0M475.7 108.8h0M456.7 132.8h0M474.1 110.0h0M479.6 112.2h0M471.0 121.4h0M479.8 110.1h0M466.8 113.9h0M474.5 114.4h0M483.6 106.3h0M473.6 111.9h0M471.5 112.0h0M459.7 121.0h0M473.7 110.5h0M455.8 127.6h0M468.7 115.2h0M473.8 112.0h0M484.7 107.2h0M475.8 110.1h0M469.0 111.8h0M472.6 111.5h0M464.7 120.2h0M474.3 111.2h0M482.0 108.8h0M481.8 106.3h0M477.2 108.6h0M473.6 117.0h0M483.4 107.9h0M455.8 126.4h0M457.6 129.0h0M473.3 113.1h0"/>
<path stroke="#26ffd1" stroke-width="1.90" d="M282.9 54.4h0M327.2 50.7h0M359.3 54.8h0M345.3 53.2h0M310.1 51.6h0M289.4 54.2h0M221.6 57.1h0M330.2 51.7h0M257.8 57.0h0M335.5 53.5h0M251.5 53.5h0M349.3 52.8h0M241.7 57.6h0M311.1 55.4h0M213.4 59.2h0M196.5 94.3h0M204.4 80.6h0M202.9 77.6h0M199.6 76.8h0M195.1 91.4h0M193.4 88.7h0M196.2 82.1h0M195.8 85.8h0M197.4 81.9h0M239.3 146.2h0M248.0 153.9h0M238.4 145.8h0M236.0 144.2h0M224.9 137.2h0M222.5 137.7h0M222.4 136.1h0M469.3 115.0h0M471.6 117.3h0M465.8 118.4h0M472.4 114.0h0M478.1 107.9h0M464.3 122.1h0M474.3 108.1h0M461.9 123.9h0M478.9 111.6h0M478.6 111.6h0M475.7 107.1h0M473.3 114.5h0M477.3 108.0h0M478.4 106.1h0M461.8 122.7h0M481.7 109.3h0M466.6 118.0h0M473.9 113.5h0M467.7 116.2h0M471.1 112.9h0M484.6 106.4h0M449.3 132.1h0M476.1 114.8h0M454.6 122.8h0M462.4 122.4h0M471.9 113.4h0M475.2 108.8h0M464.0 119.1h0M451.7 134.2h0M456.7 126.9h0M461.6 121.3h0M467.6 117.5h0M457.3 128.6h0M469.7 118.8h0M462.1 122.2h0M465.9 119.2h0M461.9 122.1h0M460.9 124.3h0M467.3 118.2h0M460.3 122.4h0M462.4 119.9h0M462.9 121.6h0M454.8 125.4h0M474.9 111.8h0M460.7 125.5h0M470.6 116.4h0M457.4 126.7h0M462.1 126.0h0M475.0 115.5h0M470.1 110.3h0M471.9 112.8h0M451.5 126.9h0M465.0 116.9h0M473.1 116.2h0M469.6 115.8h0M470.5 114.6h0M471.8 114.3h0"/>
<path stroke="#2effc9" stroke-width="1.90" d="M350.2 51.8h0M297.4 54.5h0M360.6 55.5h0M336.0 51.1h0M310.1 52.5h0M300.7 55.7h0M261.3 53.2h0M351.9 50.3h0M333.0 50.8h0M334.3 52.4h0M335.0 51.1h0M237.0 58.1h0M192.2 96.5h0M193.1 97.1h0M198.6 88.7h0M194.2 90.7h0M199.0 89.0h0M204.4 80.5h0M241.6 149.5h0M238.5 144.5h0M241.3 148.5h0M236.9 146.9h0M243.1 152.0h0M447.8 127.5h0M462.4 117.8h0M474.8 113.3h0M466.1 120.7h0M444.8 136.7h0M444.0 140.1h0M470.0 117.7h0M463.5 121.3h0M458.4 130.3h0M446.8 133.4h0M469.0 116.4h0M461.9 124.0h0M458.7 126.2h0M462.2 119.2h0M458.4 129.3h0M463.3 125.2h0M463.1 118.5h0M459.6 124.3h0M468.6 114.9h0M470.4 112.6h0M455.8 128.5h0M478.8 109.9h0M460.0 125.1h0M465.8 122.0h0M445.6 132.0h0M463.6 119.1h0M463.9 116.3h0M471.4 111.4h0M475.5 109.8h0M478.4 111.1h0M470.7 111.1h0M457.0 127.4h0M460.3 122.8h0M468.5 114.1h0M465.5 116.4h0M463.1 122.6h0M460.3 123.6h0M453.9 129.3h0M445.5 135.3h0M457.5 126.4h0M464.9 118.3h0M448.6 137.2h0M456.2 130.4h0M449.8 128.4h0M456.1 122.4h0M468.8 116.2h0M468.9 111.1h0M461.8 118.6h0M452.7 129.5h0M462.0 122.0h0M459.7 126.7h0"/>
<path stroke="#37ffc0" stroke-width="1.90" d="M347.0 53.3h0M234.8 62.9h0M355.5 52.8h0M198.7 91.3h0M189.2 103.0h0M191.5 92.9h0M194.7 95.9h0M192.9 98.5h0M190.7 92.3h0M191.4 94.9h0M188.3 95.3h0M239.5 146.8h0M231.4 138.7h0M235.9 145.3h0M448.3 137.0h0M473.2 116.5h0M452.6 126.4h0M455.5 126.0h0M464.9 122.5h0M474.5 113.1h0M457.2 129.4h0M450.0 133.7h0M451.6 132.2h0M460.1 122.7h0M461.5 123.5h0M460.7 131.2h0M465.5 120.0h0M456.1 130.5h0M465.5 112.4h0M443.2 142.0h0M443.8 138.8h0M444.5 137.6h0M468.4 115.3h0M441.6 140.1h0M453.7 132.4h0M458.1 129.0h0M451.4 130.0h0M467.8 118.2h0M452.4 130.5h0M467.7 117.8h0M452.8 129.8h0M456.9 131.4h0M458.9 131.1h0M462.1 120.7h0M464.5 115.7h0"/>
<path stroke="#3fffb7" stroke-width="1.90" d="M349.5 53.4h0M336.9 54.1h0M194.4 66.4h0M190.8 90.8h0M190.1 94.3h0M193.5 98.0h0M230.3 137.7h0M234.0 141.9h0M234.9 144.7h0M449.1 131.8h0M454.7 129.3h0M451.3 133.1h0M448.7 135.9h0M453.2 135.6h0M451.9 132.3h0M448.3 132.0h0M450.3 128.7h0M464.5 119.8h0M459.5 123.2h0M442.5 134.7h0M443.8 140.1h0M459.4 125.9h0M440.9 143.0h0M442.5 138.1h0M451.8 132.3h0M449.5 131.1h0M445.3 141.1h0M455.1 127.4h0M448.3 136.5h0M446.2 135.2h0M456.8 127.2h0M443.8 137.2h0M444.3 137.9h0M462.4 119.2h0M451.2 133.1h0M469.2 114.1h0M458.9 123.7h0M438.1 141.2h0M455.4 123.2h0M443.1 138.8h0M443.0 138.9h0M455.8 128.5h0M439.0 142.6h0"/>
<path stroke="#48ffaf" stroke-width="1.90" d="M190.1 102.2h0M185.5 99.3h0M187.5 104.0h0M185.1 136.0h0M234.3 142.8h0M448.0 139.9h0M445.6 137.7h0M449.1 134.8h0M460.4 129.7h0M443.8 135.4h0M460.3 122.8h0M440.2 140.7h0M449.7 137.6h0M459.5 121.1h0M443.6 143.7h0M445.0 135.6h0M450.6 129.4h0M458.3 125.3h0M445.5 136.0h0M443.9 132.6h0M458.2 121.9h0M441.1 143.7h0M447.3 130.9h0M449.3 137.5h0M453.1 129.5h0M441.3 142.2h0M444.9 136.8h0M455.3 130.4h0M451.3 133.7h0M454.7 128.7h0M443.5 141.6h0M455.0 126.4h0M461.4 124.6h0M458.3 130.4h0M458.5 123.7h0M449.8 135.1h0M448.7 130.4h0M449.3 132.7h0M446.9 135.5h0M453.1 126.9h0M442.9 136.4h0M443.6 142.2h0M442.5 144.8h0M441.0 142.7h0M448.2 134.9h0"/>
<path stroke="#51ffa6" stroke-width="1.90" d="M186.0 117.3h0M188.0 105.8h0M188.1 102.2h0M187.3 100.9h0M190.9 99.6h0M193.1 96.7h0M189.0 97.5h0M230.3 136.8h0M232.3 138.4h0M453.5 132.1h0M445.3 138.8h0M446.9 134.5h0M446.7 133.0h0M445.9 134.3h0M440.3 138.5h0M450.4 132.7h0M441.0 142.7h0M454.2 128.7h0M454.4 128.4h0M446.6 140.6h0M463.0 121.3h0M438.8 142.6h0M449.5 125.5h0M446.4 141.1h0M452.1 132.6h0M560.7 298.7h0M595.2 304.1h0M582.5 303.5h0"/>
<path stroke="#59ff9e" stroke-width="1.90" d="M184.5 143.5h0M184.8 114.9h0M185.0 123.2h0M185.3 140.5h0M184.7 112.6h0M457.9 125.7h0M442.3 141.6h0M444.8 140.8h0M446.5 141.5h0M450.2 130.3h0M454.9 130.3h0M448.9 129.6h0M114.6 300.3h0M82.2 306.0h0M561.2 305.3h0M599.3 305.6h0"/>
<path stroke="#62ff95" stroke-width="1.90" d="M185.0 126.9h0M186.5 112.5h0M184.2 116.0h0M185.1 125.5h0M185.3 111.2h0M185.6 124.3h0M186.2 123.2h0M185.3 147.0h0M184.4 125.9h0M184.4 110.0h0M185.1 111.6h0M185.1 123.8h0M186.5 115.1h0M185.4 104.0h0M187.8 106.3h0M186.2 117.6h0M186.0 113.6h0M185.9 117.6h0M185.0 120.5h0M184.8 107.5h0M237.0 135.4h0M228.9 140.6h0M441.7 144.1h0M105.7 303.9h0M129.8 303.3h0M90.7 305.0h0M85.0 303.2h0M83.0 305.6h0M104.7 302.1h0M191.6 290.6h0M534.9 304.5h0M528.3 296.2h0M527.6 296.5h0M527.2 296.8h0M523.0 292.2h0M519.7 293.0h0M530.3 297.6h0M526.8 299.1h0M597.9 307.4h0M559.9 304.9h0M594.1 312.4h0M578.8 302.9h0M613.3 305.7h0M590.5 303.1h0M577.7 311.4h0M601.3 306.9h0M545.1 299.1h0M583.1 305.1h0M579.6 304.3h0M579.0 305.1h0M597.4 304.2h0M603.3 304.2h0M587.9 306.8h0M599.1 304.5h0"/>
<path stroke="#6aff8d" stroke-width="1.90" d="M185.9 136.2h0M185.0 120.8h0M185.3 148.1h0M185.1 114.9h0M185.5 134.5h0M184.6 144.1h0M230.8 125.8h0M130.6 303.6h0M130.5 301.3h0M128.5 302.4h0M121.3 305.3h0M189.2 302.7h0M191.7 309.3h0M192.7 306.8h0M191.1 302.3h0M189.8 306.3h0M192.4 304.2h0M188.8 293.8h0M193.6 304.1h0M192.9 302.7h0M529.0 298.7h0M536.4 301.9h0M526.4 294.6h0M544.1 305.8h0M527.5 296.9h0M542.9 306.3h0M533.7 299.8h0M526.4 298.2h0M537.1 303.9h0M523.7 292.4h0M561.8 294.4h0M600.1 298.6h0M576.4 303.4h0M594.6 309.4h0M586.9 307.5h0M604.2 304.6h0M568.3 314.2h0M567.2 305.7h0M602.3 304.5h0M581.9 304.6h0M581.2 303.5h0M585.5 304.9h0M589.3 304.0h0"/>
<path stroke="#73ff84" stroke-width="1.90" d="M186.0 149.8h0M186.4 125.6h0M184.7 111.1h0M185.8 128.0h0M185.2 136.6h0M184.3 129.0h0M230.4 131.7h0M233.1 133.1h0M229.0 120.6h0M235.0 136.0h0M233.7 133.8h0M238.4 137.8h0M227.8 130.2h0M401.9 65.5h0M582.6 99.2h0M411.6 237.7h0M86.3 303.5h0M71.8 304.3h0M99.3 304.5h0M65.5 304.8h0M98.2 305.5h0M125.4 303.4h0M79.0 303.7h0M105.0 304.0h0M106.7 303.1h0M61.0 304.3h0M106.9 303.0h0M89.4 303.0h0M188.7 299.1h0M191.0 299.4h0M190.2 295.8h0M192.5 301.7h0M189.4 306.6h0M192.1 300.7h0M188.5 310.2h0M188.1 308.6h0M191.7 288.3h0M193.4 309.3h0M192.2 289.9h0M189.0 297.7h0M191.3 297.0h0M533.7 301.2h0M541.2 303.5h0M520.5 291.0h0M529.2 299.3h0M525.1 293.7h0M528.3 298.7h0M547.0 295.2h0M602.0 303.0h0M582.6 308.1h0M581.4 308.2h0M587.6 307.5h0M590.0 301.6h0M588.1 304.7h0M599.3 309.3h0M546.3 302.1h0M556.4 305.6h0M551.9 303.1h0M584.8 304.0h0M598.6 304.7h0"/>
<path stroke="#7bff7b" stroke-width="1.90" d="M184.7 130.4h0M185.8 129.8h0M184.1 132.6h0M184.4 125.9h0M223.4 120.4h0M227.1 114.0h0M230.2 119.6h0M233.0 137.3h0M230.8 132.8h0M226.1 114.6h0M231.8 127.3h0M230.3 124.1h0M225.8 114.0h0M227.1 114.4h0M229.4 122.1h0M236.6 132.6h0M227.1 122.4h0M228.0 115.4h0M229.1 115.4h0M232.9 139.8h0M235.5 139.2h0M396.7 61.1h0M398.8 64.3h0M502.5 105.9h0M518.0 100.9h0M500.7 105.0h0M512.7 101.5h0M576.0 99.6h0M570.6 99.4h0M569.6 101.4h0M591.7 100.3h0M608.3 102.0h0M412.7 238.1h0M57.1 305.0h0M135.2 301.5h0M97.5 302.0h0M106.8 304.5h0M96.3 303.0h0M190.5 292.4h0M189.9 302.3h0M190.7 304.5h0M191.5 300.6h0M191.6 306.7h0M190.6 297.3h0M192.5 298.3h0M194.3 294.8h0M190.2 307.5h0M522.6 291.5h0M521.4 294.1h0M533.7 301.9h0M542.5 306.9h0M519.3 291.5h0M566.8 310.0h0M611.5 301.6h0M570.7 306.8h0M571.7 301.1h0M551.9 297.7h0"/>
<path stroke="#84ff73" stroke-width="1.90" d="M184.9 127.9h0M231.2 123.8h0M231.4 133.2h0M235.3 138.4h0M229.6 124.1h0M227.4 115.9h0M226.6 114.5h0M238.1 137.8h0M235.3 135.7h0M228.5 117.1h0M235.2 133.4h0M230.4 131.0h0M237.6 138.8h0M228.6 115.6h0M229.3 117.8h0M232.2 128.2h0M226.8 121.6h0M401.0 66.0h0M394.7 60.2h0M397.4 64.1h0M395.1 65.2h0M407.0 72.2h0M487.3 111.6h0M517.4 97.2h0M523.2 98.3h0M566.2 102.6h0M571.2 100.5h0M586.7 100.7h0M585.3 101.4h0M565.2 99.8h0M581.6 101.4h0M612.9 101.4h0M581.5 97.6h0M410.8 244.1h0M410.6 245.7h0M409.0 245.6h0M410.9 241.6h0M409.6 245.2h0M409.3 243.7h0M70.7 305.1h0M62.7 304.2h0M81.0 303.1h0M135.3 302.6h0M64.6 303.7h0M127.1 303.1h0M129.3 300.9h0M191.4 310.5h0M191.5 294.2h0M189.8 304.7h0M190.5 294.8h0M190.2 299.9h0M527.3 299.0h0M556.5 299.3h0M614.6 304.2h0M567.1 309.9h0M545.2 306.5h0M543.3 305.1h0M582.1 304.8h0"/>
<path stroke="#8dff6a" stroke-width="1.90" d="M185.0 144.8h0M237.3 137.3h0M237.9 138.3h0M230.8 136.5h0M229.0 126.4h0M226.5 121.7h0M229.4 126.4h0M236.4 135.5h0M230.6 127.4h0M228.0 116.8h0M229.8 130.7h0M226.7 120.5h0M226.2 113.9h0M233.9 128.6h0M232.7 133.6h0M229.5 126.6h0M230.8 127.0h0M396.2 63.8h0M405.2 70.7h0M410.9 73.6h0M405.5 71.0h0M407.1 69.5h0M401.1 69.6h0M485.9 114.0h0M491.8 109.5h0M486.7 112.8h0M489.9 110.4h0M481.0 115.4h0M509.4 100.3h0M514.1 102.1h0M504.5 106.2h0M508.7 102.0h0M512.2 102.3h0M577.3 101.9h0M596.5 101.9h0M597.8 96.1h0M591.2 98.5h0M600.2 98.5h0M602.8 103.1h0M610.9 95.6h0M603.3 101.9h0M599.0 98.2h0M598.2 98.9h0M605.4 99.1h0M609.0 101.7h0M607.2 101.1h0M587.0 99.2h0M414.4 235.7h0M411.8 238.4h0M415.5 232.7h0M410.6 243.0h0M188.2 291.0h0"/>
<path stroke="#95ff62" stroke-width="1.90" d="M228.1 123.0h0M236.3 134.1h0M229.8 129.6h0M235.8 136.1h0M232.0 129.6h0M232.8 136.2h0M226.6 119.7h0M234.1 136.3h0M228.5 124.9h0M234.5 132.5h0M363.5 64.0h0M370.3 59.3h0M416.0 77.8h0M398.1 67.1h0M417.5 79.9h0M396.9 63.3h0M491.7 109.6h0M491.7 110.5h0M477.1 117.2h0M489.3 111.0h0M486.8 112.5h0M484.4 114.1h0M495.0 109.4h0M527.2 96.7h0M531.1 96.5h0M505.4 105.0h0M528.1 97.9h0M588.5 99.7h0M572.2 100.7h0M584.5 103.7h0M610.7 102.0h0M566.3 99.0h0M611.6 100.6h0M566.6 101.2h0M607.1 99.9h0M584.3 95.8h0M598.7 98.7h0M605.8 100.4h0M579.8 98.2h0M410.0 243.3h0M408.7 245.8h0"/>
<path stroke="#9eff59" stroke-width="1.90" d="M228.7 123.8h0M343.1 108.2h0M373.2 61.9h0M358.3 63.4h0M411.1 74.8h0M410.4 71.7h0M412.9 74.1h0M470.3 121.8h0M472.3 121.0h0M480.4 114.9h0M477.2 117.7h0M488.2 113.0h0M475.5 117.4h0M489.8 110.1h0M480.5 114.8h0M481.9 114.7h0M459.2 129.4h0M476.0 117.5h0M490.2 111.0h0M489.8 109.4h0M476.6 117.4h0M513.9 100.1h0M591.0 101.2h0M413.6 235.4h0"/>
<path stroke="#a6ff51" stroke-width="1.90" d="M233.2 124.9h0M317.3 115.7h0M366.7 58.3h0M365.3 61.3h0M366.5 61.9h0M363.3 63.3h0M422.5 84.5h0M395.9 64.7h0M422.2 86.1h0M409.7 73.1h0M424.6 87.1h0M463.0 127.6h0M445.8 147.3h0M467.3 123.2h0M474.6 118.4h0M488.0 111.5h0M478.9 116.1h0M477.8 117.6h0M476.3 118.6h0M495.2 109.2h0M486.5 111.0h0M481.1 114.1h0M468.3 122.3h0M576.9 99.3h0"/>
<path stroke="#afff48" stroke-width="1.90" d="M336.9 108.8h0M319.6 114.9h0M325.8 111.4h0M323.6 113.4h0M321.4 112.5h0M333.9 108.3h0M347.7 108.1h0M329.5 111.2h0M358.7 62.8h0M389.3 55.3h0M375.8 57.4h0M368.0 59.7h0M386.9 57.0h0M369.3 61.8h0M361.4 62.9h0M365.4 63.2h0M366.1 60.1h0M373.4 62.8h0M356.6 63.7h0M377.4 58.4h0M362.4 63.5h0M362.2 61.9h0M371.7 59.9h0M368.2 60.4h0M397.4 54.0h0M367.8 61.3h0M410.2 75.1h0M422.6 87.8h0M455.4 134.5h0M474.4 118.2h0M474.0 119.4h0M456.3 133.3h0M467.7 123.8h0M463.3 126.4h0M448.4 143.6h0M479.2 115.2h0M470.6 122.0h0M455.1 136.5h0M489.1 111.4h0M453.7 136.4h0M460.5 127.8h0M476.4 117.6h0M482.4 114.3h0M453.6 137.5h0"/>
<path stroke="#b7ff3f" stroke-width="1.90" d="M269.1 94.7h0M317.0 116.1h0M319.3 114.0h0M339.5 108.9h0M358.0 64.0h0M363.9 64.2h0M367.1 62.1h0M365.7 60.8h0M395.6 55.6h0M400.2 57.0h0M370.6 61.2h0M416.0 77.1h0M459.5 132.0h0M446.6 144.6h0M457.4 132.7h0M449.4 143.4h0M459.2 132.7h0M446.6 144.3h0M453.8 136.2h0M474.7 118.6h0M456.0 132.9h0M454.5 133.3h0M461.5 129.0h0M444.2 147.8h0M480.9 115.0h0M447.5 143.8h0M460.1 129.7h0M463.5 126.9h0M446.7 142.3h0M461.1 128.3h0M458.4 131.2h0M485.9 113.9h0M455.0 135.9h0"/>
<path stroke="#c0ff37" stroke-width="1.90" d="M268.5 86.8h0M267.5 94.1h0M269.8 83.4h0M266.6 93.4h0M267.7 83.7h0M269.4 84.9h0M264.3 85.3h0M266.9 85.1h0M268.2 78.7h0M320.4 115.2h0M348.2 108.2h0M342.6 108.8h0M313.0 117.4h0M350.7 109.3h0M351.9 109.8h0M328.4 111.0h0M340.0 109.1h0M326.1 112.2h0M310.7 118.5h0M329.9 110.4h0M350.4 110.1h0M390.4 56.9h0M363.6 60.5h0M374.5 59.1h0M363.8 63.4h0M390.7 57.9h0M367.3 61.3h0M385.1 57.8h0M423.7 84.1h0M449.1 141.6h0M446.7 145.2h0M460.6 129.7h0M444.1 147.6h0M447.0 145.7h0M449.0 140.7h0M464.2 126.8h0M461.6 128.7h0M444.2 148.0h0M444.5 148.7h0M464.3 126.2h0M452.0 137.2h0M463.2 129.1h0M453.7 136.5h0M447.3 144.1h0M455.7 133.7h0M473.5 121.0h0M461.6 128.2h0M448.8 144.5h0M431.3 138.3h0"/>
<path stroke="#c9ff2e" stroke-width="1.90" d="M266.6 86.2h0M268.7 100.0h0M269.8 88.8h0M266.7 81.6h0M267.3 97.9h0M265.8 93.0h0M274.8 101.6h0M270.3 95.3h0M267.5 85.8h0M312.5 116.8h0M315.1 117.0h0M321.4 113.6h0M323.4 113.4h0M335.5 108.7h0M357.2 64.6h0M382.0 57.2h0M388.7 57.0h0M360.8 64.4h0M358.1 61.6h0M390.7 53.4h0M374.4 59.8h0M370.2 60.7h0M357.8 64.7h0M454.6 132.6h0M451.4 139.5h0M449.8 141.0h0M448.6 144.5h0M454.6 135.1h0M451.4 140.5h0M455.5 135.9h0M427.2 142.4h0M430.6 145.1h0"/>
<path stroke="#d1ff26" stroke-width="1.90" d="M267.7 91.2h0M270.7 92.3h0M265.8 85.4h0M265.8 81.0h0M266.2 101.5h0M270.1 96.5h0M269.4 89.8h0M271.6 89.6h0M267.5 89.6h0M269.9 94.7h0M271.3 98.7h0M267.7 90.7h0M267.5 83.0h0M270.0 98.6h0M268.3 88.1h0M267.4 84.3h0M264.7 96.9h0M269.4 102.5h0M269.8 89.1h0M266.5 89.1h0M330.7 109.8h0M398.1 56.8h0M459.1 131.7h0M445.6 147.9h0M450.4 139.0h0M450.6 141.6h0M454.3 139.0h0M445.8 147.8h0M543.2 99.2h0M554.1 99.2h0M551.0 100.8h0M429.6 137.4h0M425.4 139.5h0M433.1 139.4h0M429.9 138.6h0M431.6 149.5h0M432.7 143.8h0M430.3 138.0h0"/>
<path stroke="#daff1d" stroke-width="1.90" d="M269.3 104.7h0M272.7 102.4h0M268.1 102.9h0M267.1 90.5h0M267.1 79.5h0M274.4 100.1h0M267.6 110.7h0M269.4 79.3h0M269.2 90.4h0M268.6 96.2h0M268.5 104.4h0M269.7 90.5h0M266.7 98.5h0M267.0 92.5h0M270.6 107.0h0M264.9 94.0h0M273.2 112.3h0M265.5 99.5h0M272.4 111.8h0M316.4 116.4h0M482.6 104.3h0M449.2 142.6h0M427.5 144.4h0M429.4 139.7h0M430.9 136.2h0M428.1 137.0h0M430.7 140.8h0M431.3 139.2h0M432.7 139.6h0M430.0 138.8h0M432.8 137.4h0M428.1 139.8h0M430.9 141.7h0M429.0 141.8h0M430.5 133.4h0M431.3 140.6h0M431.4 138.4h0M432.4 141.2h0M429.7 129.1h0M429.6 137.0h0M432.9 146.6h0M430.9 147.2h0M429.7 138.8h0M431.4 142.2h0M430.5 144.7h0M433.3 135.6h0M431.5 139.4h0M432.8 147.2h0"/>
<path stroke="#e2ff15" stroke-width="1.90" d="M271.1 128.1h0M269.2 86.8h0M273.8 119.5h0M271.8 120.7h0M273.2 113.8h0M273.9 105.9h0M271.4 110.6h0M263.9 97.1h0M270.0 97.5h0M272.0 123.3h0M270.4 104.0h0M268.4 111.2h0M269.7 90.3h0M267.3 87.5h0M270.7 103.3h0M267.3 97.8h0M266.6 93.7h0M267.5 98.7h0M272.0 123.3h0M274.5 122.9h0M270.8 85.4h0M262.7 84.4h0M266.0 96.4h0M458.4 131.7h0M545.8 105.2h0M553.0 103.2h0M546.5 101.3h0M549.6 99.9h0M560.3 99.7h0M544.1 100.5h0M424.2 139.5h0M427.1 139.4h0M428.1 136.6h0M426.3 138.9h0M428.6 138.2h0M431.6 139.3h0M428.4 140.7h0M430.2 138.0h0M431.2 136.6h0M429.9 138.1h0M426.7 136.7h0M432.0 138.3h0M428.4 141.2h0M426.4 142.4h0M428.9 141.2h0M430.4 134.8h0M426.2 137.3h0M430.0 135.7h0M430.2 138.7h0M432.5 149.7h0M431.2 147.1h0M429.1 142.2h0M431.1 147.3h0M429.9 135.8h0"/>
<path stroke="#ebff0c" stroke-width="1.90" d="M269.2 99.2h0M268.6 102.3h0M266.1 113.6h0M273.6 108.6h0M264.9 107.1h0M270.7 113.8h0M274.9 120.4h0M269.8 102.3h0M265.8 86.4h0M272.0 124.3h0M267.3 91.2h0M270.5 119.3h0M268.5 118.2h0M267.9 104.9h0M270.2 130.3h0M268.2 102.9h0M269.3 104.3h0M270.3 103.4h0M270.5 105.0h0M266.5 91.4h0M270.3 107.6h0M270.2 122.6h0M271.2 110.8h0M477.9 101.0h0M474.3 103.4h0M481.6 103.3h0M479.9 105.3h0M554.2 101.6h0M549.6 101.9h0M431.2 139.2h0M432.3 137.5h0M427.9 137.9h0M428.9 134.5h0M427.6 139.8h0M426.2 136.3h0M429.5 142.2h0M427.6 139.7h0M427.1 140.7h0M428.5 132.6h0M424.5 137.4h0M427.1 135.6h0M430.2 138.7h0M428.0 140.5h0M427.6 137.3h0M423.3 137.1h0M432.9 138.8h0M429.9 141.2h0M427.7 138.6h0M426.6 138.3h0M430.7 142.1h0M431.6 145.5h0M431.4 133.3h0"/>
<path stroke="#f3f903" stroke-width="1.90" d="M270.0 116.0h0M272.7 123.8h0M268.7 98.2h0M269.8 118.0h0M272.1 125.3h0M271.4 129.9h0M272.9 126.4h0M268.4 122.3h0M273.5 124.8h0M271.2 122.1h0M274.9 122.7h0M272.1 127.7h0M269.1 105.3h0M271.4 129.7h0M267.3 116.2h0M269.5 117.2h0M273.2 119.7h0M479.1 102.4h0M480.4 103.5h0M481.5 106.6h0M483.2 104.8h0M480.8 106.0h0M552.8 100.9h0M555.1 103.0h0M549.8 99.3h0M425.9 133.6h0M427.5 136.0h0M427.7 135.7h0M427.0 139.8h0M424.5 133.8h0M430.6 139.6h0M423.7 138.7h0M430.0 140.5h0M427.6 136.6h0M425.9 135.2h0M425.5 138.6h0M425.1 136.0h0M426.8 137.9h0M426.3 135.9h0M428.0 136.3h0M427.0 134.1h0M428.5 133.5h0M426.5 135.5h0M429.2 129.6h0M430.6 151.4h0"/>
<path stroke="#fcf000" stroke-width="1.90" d="M264.2 102.4h0M274.2 127.1h0M267.5 127.1h0M478.6 104.4h0M475.2 100.0h0M480.2 104.4h0M479.9 102.9h0M474.7 96.5h0M474.8 96.4h0M482.3 107.2h0M474.6 96.8h0M473.5 99.4h0M475.4 94.5h0M469.0 98.6h0M481.4 105.5h0M477.0 100.3h0M478.0 103.6h0M469.5 90.3h0M480.9 102.7h0M471.8 97.9h0M471.0 96.1h0M471.7 96.8h0M478.9 100.0h0M479.9 100.2h0M479.5 100.7h0M479.6 104.3h0M425.4 135.6h0M423.8 134.2h0M428.5 142.5h0M430.5 134.5h0M426.8 132.5h0M427.0 134.6h0M422.6 136.8h0M427.8 133.6h0M426.3 139.4h0M428.5 136.4h0M425.2 135.8h0M425.5 138.8h0"/>
<path stroke="#ffe600" stroke-width="1.90" d="M272.7 121.8h0M270.8 129.2h0M270.2 127.6h0M269.4 129.8h0M479.9 102.7h0M455.2 82.5h0M465.9 92.3h0M475.6 104.3h0M462.3 89.5h0M470.2 92.9h0M473.5 93.2h0M472.2 98.9h0M471.9 91.3h0M471.5 96.1h0M474.0 101.9h0M455.2 88.0h0M483.6 106.3h0M476.1 101.8h0M472.7 101.1h0M470.5 93.4h0M472.5 100.8h0M467.9 95.8h0M480.2 106.0h0M477.6 97.0h0M476.2 101.1h0M479.7 104.9h0M470.8 96.0h0M460.7 89.5h0M483.1 102.3h0M475.3 98.7h0M454.7 87.4h0M424.6 135.2h0M423.5 134.1h0M419.5 136.3h0M427.4 135.4h0M425.7 132.1h0M423.3 133.0h0M423.7 130.9h0M426.7 133.5h0M428.2 137.9h0M422.4 135.5h0M420.2 135.9h0M424.9 131.5h0M429.2 137.5h0M426.2 137.2h0M426.0 138.4h0M428.1 132.9h0M427.1 134.3h0M422.7 132.8h0M421.7 137.3h0M427.2 133.8h0M422.3 135.9h0"/>
<path stroke="#ffdc00" stroke-width="1.90" d="M273.7 130.0h0M454.3 92.3h0M462.4 90.4h0M460.0 83.3h0M464.5 96.2h0M464.7 94.1h0M463.9 93.5h0M480.6 102.8h0M473.3 98.7h0M471.2 99.4h0M457.9 86.7h0M462.8 92.7h0M460.5 87.2h0M477.5 103.4h0M476.9 95.2h0M467.0 93.2h0M471.0 96.7h0M471.2 96.8h0M478.0 102.5h0M468.4 91.9h0M472.7 97.0h0M479.2 103.4h0M464.5 90.8h0M474.1 94.6h0M481.4 104.2h0M469.5 92.7h0M467.3 94.0h0M479.4 101.7h0M475.6 94.8h0M472.1 96.7h0M467.2 90.7h0M417.9 132.3h0M425.0 131.5h0M424.5 135.6h0M427.1 130.7h0M423.2 130.2h0M426.4 132.5h0M423.8 131.7h0M420.1 135.2h0M420.4 132.5h0M421.6 134.9h0M422.0 133.1h0M422.0 134.0h0"/>
<path stroke="#ffd200" stroke-width="1.90" d="M271.5 129.5h0M442.1 117.9h0M469.4 93.7h0M474.6 104.5h0M464.9 96.9h0M466.7 97.5h0M458.0 89.6h0M466.9 90.6h0M449.2 89.0h0M464.6 92.6h0M466.3 89.5h0M464.5 91.9h0M461.8 88.3h0M447.8 90.8h0M459.9 91.3h0M461.2 88.3h0M466.9 97.0h0M461.1 91.0h0M457.5 88.5h0M461.9 93.4h0M460.0 90.1h0M450.4 88.9h0M469.4 97.4h0M467.7 93.1h0M472.4 99.1h0M469.0 95.9h0M461.5 94.9h0M467.6 91.2h0M467.5 98.4h0M461.1 87.5h0M459.7 89.7h0M469.9 94.9h0M464.8 88.7h0M425.2 130.3h0M418.2 134.0h0M420.2 132.0h0M425.2 126.9h0M422.1 131.9h0M426.7 133.6h0M423.3 136.0h0M378.3 270.9h0M382.5 274.8h0M367.7 265.3h0"/>
<path stroke="#ffc800" stroke-width="1.90" d="M439.1 117.0h0M462.2 93.6h0M472.7 89.2h0M447.3 85.7h0M463.0 92.9h0M460.6 90.8h0M451.0 85.4h0M462.8 89.1h0M443.6 85.1h0M466.4 95.1h0M454.5 85.7h0M470.4 103.9h0M461.3 97.2h0M452.9 88.5h0M449.3 84.8h0M461.0 93.0h0M467.0 91.5h0M464.6 88.1h0M457.9 89.6h0M454.1 88.7h0M460.3 86.0h0M470.8 98.3h0M458.1 84.9h0M453.8 89.3h0M451.8 86.0h0M458.3 86.6h0M454.7 88.7h0M460.5 84.9h0M471.5 92.6h0M445.0 86.0h0M468.0 90.1h0M447.7 83.7h0M419.8 132.2h0M420.7 131.6h0M420.2 133.8h0M419.7 131.8h0M417.8 133.0h0M422.4 129.1h0M423.0 131.4h0M422.1 131.6h0M422.2 127.9h0M355.5 256.8h0M391.6 281.3h0M372.2 270.8h0M366.1 263.2h0M382.1 277.0h0M413.1 284.7h0M390.5 277.8h0M416.6 284.5h0M401.2 283.4h0M406.6 282.5h0M379.0 272.6h0M397.1 280.3h0M411.1 283.4h0"/>
<path stroke="#ffbe00" stroke-width="1.90" d="M440.5 122.1h0M428.2 108.6h0M438.3 118.9h0M442.9 120.6h0M428.7 111.9h0M430.5 115.7h0M454.3 94.3h0M456.2 91.1h0M441.3 86.0h0M452.5 89.4h0M450.4 86.6h0M473.7 96.6h0M462.3 93.6h0M448.5 87.9h0M446.4 85.6h0M452.1 88.0h0M443.0 81.8h0M460.9 90.7h0M462.0 91.6h0M452.5 84.3h0M458.7 90.3h0M449.5 85.1h0M451.4 91.2h0M450.2 81.9h0M444.2 88.7h0M464.4 94.9h0M466.7 88.9h0M459.2 88.2h0M461.7 90.5h0M466.0 92.0h0M458.8 87.6h0M422.9 126.6h0M418.6 129.9h0M420.6 132.6h0M423.4 129.7h0M425.9 127.8h0M421.9 129.3h0M422.1 129.3h0M419.7 130.7h0M421.4 131.2h0M422.3 132.4h0M421.8 131.8h0M421.6 126.7h0M363.6 266.6h0M379.5 274.4h0M369.0 268.4h0M390.7 278.4h0M382.1 277.9h0M410.8 283.2h0M408.0 282.7h0M388.5 278.0h0M375.4 269.5h0M356.5 258.5h0M368.5 267.4h0M354.8 258.8h0M391.3 277.4h0M406.5 284.0h0M389.0 276.4h0M366.0 264.1h0M396.4 282.6h0M362.5 264.1h0M366.9 264.6h0M399.5 283.3h0M417.2 286.9h0"/>
<path stroke="#ffb500" stroke-width="1.90" d="M431.8 113.6h0M440.4 118.7h0M431.5 111.1h0M440.0 121.5h0M410.1 104.2h0M436.1 119.4h0M429.1 112.0h0M439.5 117.7h0M444.1 85.1h0M450.0 85.3h0M443.1 81.5h0M451.1 89.4h0M455.3 86.9h0M454.8 90.7h0M445.2 92.0h0M451.8 88.7h0M450.3 87.3h0M513.8 89.8h0M421.1 129.5h0M420.2 130.0h0M422.2 130.2h0M417.0 132.9h0M419.1 128.5h0M421.9 129.5h0M423.7 129.7h0M423.5 128.1h0M418.1 131.4h0M420.2 129.9h0M416.7 131.6h0M371.9 269.2h0M380.4 278.6h0M365.3 271.1h0M395.9 282.1h0M404.6 282.7h0M384.9 275.9h0M360.0 261.1h0M407.2 283.6h0M404.7 284.0h0M384.5 279.2h0M363.6 267.2h0M415.8 284.6h0M379.0 276.3h0M416.5 285.6h0M417.5 286.6h0M369.8 266.4h0M359.8 260.1h0M353.4 256.9h0M361.6 261.7h0M380.3 273.3h0M392.3 279.2h0M384.3 278.9h0M372.4 273.8h0M361.8 260.3h0M376.4 271.2h0M404.2 282.4h0M376.0 273.2h0M379.8 274.9h0M383.8 274.7h0M417.1 286.4h0M415.4 284.7h0M366.9 264.9h0M378.1 273.4h0M394.1 277.2h0M374.6 270.5h0M364.6 264.8h0M388.4 279.7h0M361.0 266.0h0M383.1 273.8h0M366.9 269.6h0M390.3 279.3h0M396.5 282.1h0M353.9 257.9h0M367.4 269.3h0M367.2 266.9h0M392.8 278.1h0M365.2 265.5h0M372.3 268.7h0M391.6 279.4h0"/>
<path stroke="#ffab00" stroke-width="1.90" d="M437.2 118.5h0M411.5 103.7h0M433.3 114.8h0M434.8 118.3h0M428.2 111.3h0M430.2 112.2h0M436.8 118.0h0M434.2 115.4h0M436.7 115.9h0M430.6 110.5h0M434.4 116.8h0M436.2 116.0h0M424.5 110.0h0M437.8 116.1h0M457.2 87.7h0M446.1 85.2h0M448.7 90.2h0M443.5 84.6h0M442.4 88.7h0M444.5 87.5h0M462.5 85.0h0M513.9 95.1h0M418.2 132.3h0M418.5 129.5h0M418.8 131.5h0M421.6 127.6h0M420.6 130.3h0M419.9 131.4h0M420.3 130.5h0M371.6 269.1h0M382.6 276.4h0M360.7 261.2h0M377.1 273.4h0M378.6 272.7h0M372.8 268.5h0M370.1 268.7h0M374.2 271.4h0M368.1 267.3h0M370.5 268.0h0M380.2 273.6h0M364.9 265.7h0M384.0 275.0h0M359.6 257.6h0M365.3 264.9h0M365.0 264.8h0M381.7 275.7h0M405.5 283.8h0M378.6 272.9h0M357.0 259.8h0M365.8 267.5h0M383.3 273.5h0M381.0 275.2h0M360.1 259.7h0M367.5 263.1h0M382.6 276.5h0M363.0 264.3h0M388.4 277.7h0M380.4 276.7h0M376.4 271.6h0"/>
<path stroke="#ffa100" stroke-width="1.90" d="M442.1 113.0h0M421.4 108.8h0M413.0 103.7h0M413.9 105.7h0M430.2 111.3h0M428.5 115.2h0M428.2 111.0h0M415.6 107.3h0M409.1 103.9h0M442.5 86.0h0M449.2 89.6h0M448.3 83.8h0M513.8 91.5h0M531.5 99.7h0M498.4 87.3h0M501.8 87.1h0M508.7 85.4h0M507.7 84.6h0M521.1 90.7h0M527.8 95.0h0M528.8 96.0h0M529.4 97.0h0M493.5 88.4h0M512.1 92.6h0M524.1 91.6h0M510.1 91.7h0M507.3 86.1h0M523.2 90.9h0M504.7 89.9h0M521.3 95.9h0M518.5 92.6h0M515.9 92.4h0M527.7 98.4h0M418.4 128.8h0M418.5 130.7h0M424.3 125.5h0M419.5 127.5h0M419.4 125.2h0M417.5 127.8h0M415.9 128.0h0M419.4 126.8h0M424.0 127.5h0M420.7 127.6h0M420.8 130.4h0M365.6 208.3h0M359.5 213.4h0M364.1 208.0h0M362.9 205.9h0M377.8 272.7h0M395.8 279.3h0M372.3 269.6h0M382.0 276.5h0M359.3 257.9h0M375.3 272.1h0M415.7 285.6h0M397.2 281.4h0M374.2 271.7h0M370.4 265.8h0M381.1 273.7h0M400.1 280.9h0M359.7 259.5h0M362.2 262.6h0M414.4 285.3h0M369.6 270.4h0M407.8 282.7h0M393.9 280.0h0M375.6 272.0h0M359.2 261.6h0M356.7 258.7h0"/>
<path stroke="#ff9700" stroke-width="1.90" d="M445.7 120.0h0M443.7 120.8h0M444.0 113.0h0M444.3 119.1h0M440.1 110.6h0M442.0 109.2h0M443.1 110.7h0M429.9 111.7h0M408.7 102.5h0M423.2 108.6h0M424.5 108.7h0M424.7 107.1h0M419.8 109.0h0M423.1 109.7h0M419.0 104.6h0M422.6 109.3h0M421.3 105.7h0M445.3 82.9h0M446.8 82.2h0M449.2 90.3h0M517.1 94.2h0M502.5 88.6h0M517.4 92.5h0M501.1 88.7h0M516.5 91.4h0M509.5 90.3h0M520.6 92.0h0M512.0 88.8h0M498.2 84.6h0M509.1 90.8h0M526.3 96.1h0M482.4 84.4h0M503.8 85.7h0M511.9 90.8h0M521.9 95.1h0M492.5 86.6h0M530.6 96.1h0M485.4 81.7h0M518.8 92.0h0M513.6 92.7h0M531.6 95.0h0M498.1 86.5h0M494.8 86.6h0M513.4 86.6h0M514.8 92.8h0M502.5 84.9h0M528.6 101.2h0M497.1 88.0h0M423.4 126.3h0M416.7 129.6h0M420.7 126.4h0M416.1 132.1h0M419.0 126.3h0M416.8 127.6h0M420.5 126.4h0M415.3 130.8h0M422.5 127.9h0M418.4 127.2h0M416.2 127.8h0M418.2 126.2h0M419.1 127.4h0M417.9 130.5h0M417.2 128.9h0M361.5 207.9h0M362.0 213.7h0M362.7 205.3h0M359.4 212.0h0M363.2 208.4h0M365.8 209.9h0M361.1 207.8h0M364.8 209.0h0M359.0 214.4h0M382.7 276.2h0M393.3 280.8h0M361.9 268.2h0"/>
<path stroke="#ff8d00" stroke-width="1.90" d="M441.0 110.6h0M441.6 111.5h0M443.3 116.8h0M441.5 109.6h0M442.2 113.8h0M410.2 103.8h0M425.4 107.8h0M417.1 104.9h0M409.5 103.9h0M414.3 105.1h0M409.9 102.3h0M413.4 106.7h0M416.8 105.3h0M443.8 82.9h0M525.8 98.4h0M518.4 88.6h0M501.7 89.0h0M524.9 96.6h0M493.0 80.7h0M522.2 99.0h0M530.0 96.2h0M526.4 97.2h0M528.4 95.9h0M530.6 96.9h0M507.3 88.4h0M505.6 88.5h0M505.0 88.2h0M509.9 85.9h0M483.6 86.4h0M528.5 97.4h0M509.1 89.8h0M521.7 93.4h0M528.8 97.6h0M521.1 90.2h0M516.3 84.8h0M516.8 94.0h0M499.9 84.6h0M487.6 86.4h0M510.8 89.0h0M499.9 88.3h0M516.8 89.7h0M499.1 84.2h0M495.6 84.8h0M490.2 84.5h0M481.1 86.5h0M515.1 89.6h0M520.0 92.1h0M480.1 89.1h0M477.6 89.2h0M511.2 92.0h0M417.0 128.2h0M419.8 124.0h0M417.8 127.2h0M415.3 128.9h0M418.6 127.6h0M419.5 127.9h0M418.4 129.0h0M414.6 131.7h0M420.8 126.1h0M414.9 132.6h0M415.1 129.2h0M415.2 129.4h0M416.1 131.6h0M414.5 128.3h0M421.4 124.7h0M419.7 129.6h0M416.1 127.3h0M420.8 127.4h0M415.7 127.4h0M358.3 206.6h0M363.3 205.2h0M363.9 207.0h0M358.4 214.9h0M360.3 215.0h0M363.6 208.6h0M361.6 208.5h0M364.5 211.9h0M359.4 213.2h0M358.5 215.4h0M364.7 206.6h0"/>
<path stroke="#ff8300" stroke-width="1.90" d="M443.4 114.2h0M434.0 102.4h0M441.7 107.2h0M416.6 106.3h0M425.3 106.9h0M415.1 104.8h0M416.4 104.4h0M418.7 108.1h0M418.2 105.2h0M528.0 99.5h0M511.3 90.0h0M478.5 83.6h0M501.3 88.0h0M496.5 87.5h0M522.4 93.4h0M532.5 96.2h0M492.6 88.0h0M508.2 89.7h0M516.2 95.6h0M487.6 83.3h0M497.0 85.0h0M525.2 95.0h0M488.4 89.3h0M508.4 93.9h0M478.9 85.3h0M497.2 84.8h0M520.4 91.4h0M505.9 87.6h0M497.1 86.4h0M530.0 96.5h0M504.1 90.4h0M531.3 96.8h0M510.6 87.2h0M488.9 84.3h0M494.7 87.0h0M518.0 95.6h0M525.9 94.9h0M526.9 94.4h0M479.7 79.9h0M512.5 92.5h0M497.9 87.6h0M524.7 97.7h0M483.1 86.7h0M500.6 88.3h0M505.8 89.2h0M418.1 123.1h0M420.2 121.7h0M417.4 128.7h0M416.6 125.0h0M417.0 126.5h0M416.9 129.5h0M415.0 127.5h0M416.1 126.2h0M416.5 125.6h0M420.9 122.5h0M420.3 125.2h0M416.7 127.4h0M418.6 124.9h0M414.6 128.0h0M418.2 127.7h0M418.8 124.3h0M418.4 124.5h0M360.6 203.6h0M365.5 206.6h0M361.9 212.5h0M364.3 209.4h0M359.1 210.1h0M361.7 208.5h0M358.3 215.6h0M356.4 214.5h0"/>
<path stroke="#ff7a00" stroke-width="1.90" d="M438.0 106.3h0M442.2 114.5h0M444.0 112.9h0M441.7 110.7h0M437.3 107.2h0M439.6 109.1h0M431.7 98.6h0M446.1 118.4h0M410.2 103.8h0M414.8 105.8h0M417.6 108.0h0M488.2 87.9h0M486.1 83.8h0M510.8 89.5h0M481.9 83.7h0M480.4 82.1h0M504.1 86.4h0M481.8 82.9h0M475.5 85.7h0M493.8 85.0h0M526.2 91.9h0M487.5 88.1h0M483.9 86.9h0M489.3 84.8h0M479.2 86.5h0M494.5 81.6h0M500.7 87.7h0M481.9 86.8h0M475.1 87.4h0M509.6 91.9h0M512.5 85.8h0M530.0 98.2h0M484.7 83.4h0M475.2 87.0h0M494.6 93.5h0M476.2 87.6h0M513.0 92.9h0M511.4 86.9h0M474.7 82.7h0M510.5 93.2h0M528.8 95.0h0M487.6 86.6h0M498.1 81.0h0M481.5 85.1h0M415.9 128.4h0M415.1 126.6h0M413.5 127.7h0M417.3 123.1h0M416.5 125.7h0M417.4 125.8h0M416.7 125.2h0M416.6 127.0h0M413.3 129.0h0M413.9 129.6h0M363.2 209.2h0M362.4 206.6h0M359.3 211.0h0"/>
<path stroke="#ff7000" stroke-width="1.90" d="M438.5 107.1h0M439.4 108.5h0M439.8 106.0h0M432.3 102.1h0M434.5 105.1h0M480.2 84.0h0M492.4 84.8h0M478.3 85.4h0M480.4 82.0h0M503.1 85.4h0M478.8 85.6h0M486.5 85.4h0M482.1 88.2h0M488.8 81.7h0M478.3 79.7h0M526.7 97.2h0M475.3 86.2h0M502.2 86.4h0M494.8 86.2h0M493.6 84.8h0M483.9 85.5h0M485.2 82.9h0M484.4 90.6h0M476.6 84.8h0M482.7 84.4h0M475.7 86.4h0M482.5 85.8h0M474.9 85.7h0M475.6 83.5h0M484.3 85.9h0M413.2 128.0h0M417.0 125.9h0M419.1 120.6h0M415.1 123.9h0M414.5 127.1h0M419.9 121.7h0M416.2 125.2h0M415.0 124.2h0M415.7 124.6h0M415.5 128.9h0M417.4 123.2h0M416.4 127.4h0M416.4 123.3h0M416.0 124.6h0M415.4 123.2h0M415.5 125.6h0M419.8 120.8h0M411.6 132.2h0M414.5 129.9h0M417.7 124.9h0"/>
<path stroke="#ff6600" stroke-width="1.90" d="M437.4 106.2h0M430.6 98.0h0M438.1 106.8h0M434.0 101.3h0M440.7 112.7h0M437.1 104.5h0M433.5 101.4h0M489.0 87.1h0M479.5 85.8h0M476.5 87.3h0M511.1 90.0h0M479.5 84.1h0M482.4 87.1h0M416.9 124.0h0M414.5 123.2h0M414.7 122.5h0M414.3 129.3h0M414.7 122.8h0M414.1 127.2h0M411.8 124.3h0M417.8 123.4h0M415.8 126.8h0M414.8 129.3h0M413.1 128.6h0M414.8 125.6h0M415.4 125.1h0M366.3 206.3h0"/>
<path stroke="#ff5c00" stroke-width="1.90" d="M427.9 94.6h0M438.7 105.4h0M435.8 101.4h0M431.1 97.2h0M437.0 102.2h0M430.9 99.5h0M434.0 102.4h0M475.0 84.4h0M493.6 90.2h0M417.5 122.8h0M414.6 125.3h0M413.0 127.4h0M413.2 123.6h0M409.3 128.1h0M413.8 127.7h0M414.0 123.8h0M413.5 123.6h0M412.6 128.6h0M412.1 124.4h0M414.2 126.2h0M412.2 125.7h0M417.2 122.4h0M412.2 127.3h0M416.7 124.2h0M412.4 129.2h0"/>
<path stroke="#ff5200" stroke-width="1.90" d="M434.2 101.0h0M431.3 99.5h0M429.3 99.2h0M524.7 96.1h0M415.2 125.5h0M415.6 120.4h0M411.7 123.0h0M414.2 116.6h0M411.5 126.5h0M412.9 125.6h0M414.4 120.0h0M415.5 124.3h0M413.3 119.7h0M414.5 123.4h0M410.4 125.8h0M362.1 208.2h0M346.8 224.9h0"/>
<path stroke="#ff4800" stroke-width="1.90" d="M428.7 95.5h0M423.6 92.4h0M432.0 98.8h0M424.1 94.0h0M426.5 95.3h0M424.0 91.2h0M429.2 93.7h0M430.5 99.7h0M428.9 96.3h0M413.4 123.7h0M415.6 123.9h0M412.0 123.8h0M412.1 120.9h0M409.1 125.9h0M409.0 117.6h0M411.7 121.1h0M409.4 131.2h0M410.8 127.5h0M411.6 127.9h0M414.9 123.5h0M410.9 123.6h0M410.3 128.7h0M412.4 126.8h0M344.2 231.9h0M371.1 199.6h0M349.3 223.6h0"/>
<path stroke="#ff3f00" stroke-width="1.90" d="M425.6 96.9h0M418.8 89.5h0M427.6 95.9h0M428.8 96.3h0M426.9 94.5h0M408.4 121.9h0M408.8 123.6h0M411.9 121.1h0M411.3 120.3h0M414.4 121.0h0M408.5 120.4h0M415.1 120.6h0M410.8 117.9h0M411.3 123.4h0M413.2 120.3h0M412.1 123.3h0M410.8 125.5h0M409.7 124.3h0M411.2 124.2h0M412.2 123.1h0M410.4 127.6h0M408.9 122.5h0M412.8 123.6h0M413.3 122.7h0M412.8 126.0h0M410.9 123.6h0M412.6 124.8h0M355.1 215.7h0M350.3 220.6h0M360.7 209.5h0M353.4 215.9h0M369.6 199.6h0M362.4 211.3h0M358.4 211.4h0M362.9 209.5h0M350.9 219.6h0M365.8 204.5h0M368.5 201.2h0M363.7 205.7h0M348.9 226.4h0"/>
<path stroke="#ff3500" stroke-width="1.90" d="M422.8 92.6h0M422.9 93.0h0M427.2 93.4h0M427.8 97.1h0M410.0 124.0h0M410.4 124.9h0M410.4 126.5h0M415.6 115.6h0M409.5 123.8h0M413.1 122.2h0M409.9 120.2h0M408.3 125.2h0M409.1 121.8h0M409.4 124.9h0M412.3 123.2h0M405.4 117.1h0M411.9 119.8h0M407.2 119.1h0M409.1 125.0h0M412.0 120.0h0M360.0 210.7h0M365.2 201.9h0M340.3 232.7h0M364.0 205.5h0M357.7 214.0h0M366.2 205.6h0M357.8 209.5h0M369.1 200.6h0M359.4 211.0h0M363.3 207.9h0M369.6 200.6h0M355.0 217.7h0M369.5 203.3h0M363.2 210.8h0M358.4 210.6h0M349.0 224.3h0M346.6 227.1h0M363.5 205.4h0M363.5 204.6h0M365.1 205.9h0M363.8 206.9h0M364.6 203.9h0M369.8 199.1h0M355.0 218.0h0M365.3 204.9h0M352.9 218.4h0M365.2 204.7h0M354.3 217.4h0M358.7 210.4h0M354.4 214.8h0M365.7 205.5h0M359.3 212.5h0M367.0 204.4h0M363.8 205.2h0"/>
<path stroke="#ff2b00" stroke-width="1.90" d="M422.6 89.8h0M419.0 88.7h0M417.5 90.8h0M420.0 89.2h0M407.8 124.1h0M407.0 118.5h0M411.0 126.6h0M408.6 120.2h0M408.1 124.6h0M409.3 124.2h0M411.5 121.1h0M408.5 118.7h0M409.8 123.9h0M411.2 120.3h0M408.7 121.5h0M408.7 123.5h0M410.4 119.2h0M410.2 123.1h0M409.4 117.8h0M410.8 122.2h0M408.6 122.6h0M405.8 116.6h0M407.6 119.9h0M365.2 204.5h0M360.6 212.2h0M357.3 210.8h0M367.6 205.7h0M362.3 209.6h0M356.1 215.8h0M356.0 215.3h0M363.2 208.3h0M363.0 205.6h0M365.2 205.6h0M363.7 214.2h0M370.8 199.0h0M357.6 216.1h0M354.1 217.6h0M356.6 215.0h0M362.2 208.1h0M355.5 219.6h0M340.2 232.4h0M369.2 201.5h0M368.9 200.8h0M361.9 210.0h0M365.4 207.4h0M353.6 216.1h0M369.5 201.4h0M356.4 214.5h0M364.1 205.6h0M352.5 219.3h0M351.5 219.1h0M351.3 222.9h0"/>
<path stroke="#ff2100" stroke-width="1.90" d="M420.2 91.5h0M418.3 89.2h0M416.2 87.7h0M416.1 89.2h0M408.9 121.2h0M402.4 134.4h0M408.1 120.0h0M406.7 126.9h0M405.0 121.2h0M405.2 118.3h0M407.0 125.2h0M405.1 122.9h0M407.1 116.7h0M407.7 126.8h0M408.3 121.8h0M400.8 122.6h0M409.8 120.7h0M407.6 119.4h0M407.4 126.4h0M409.9 123.1h0M406.7 123.1h0M408.3 122.5h0M406.8 123.3h0M408.6 123.2h0M406.9 126.5h0M410.2 118.7h0M409.1 126.1h0M408.7 121.6h0M406.1 120.3h0M352.2 219.6h0M352.1 221.4h0M368.8 201.0h0M363.4 206.7h0M358.6 210.8h0M367.7 203.5h0M348.2 222.9h0M357.6 215.3h0M349.6 224.9h0M362.3 207.7h0M350.1 213.6h0M370.3 202.0h0M365.9 206.3h0M348.1 227.0h0M361.8 207.6h0M366.8 200.3h0M364.2 207.4h0M356.8 212.9h0M356.4 217.0h0M366.0 203.4h0M360.8 213.2h0"/>
<path stroke="#ff1700" stroke-width="1.90" d="M418.0 87.1h0M415.9 86.8h0M407.1 121.3h0M411.9 120.1h0M403.8 120.7h0M402.7 119.1h0M408.1 121.1h0M409.4 120.4h0M402.5 122.8h0M409.5 122.1h0M401.1 114.6h0M404.5 122.5h0M404.1 124.0h0M406.3 122.2h0M404.1 121.9h0M409.8 116.9h0M407.4 121.1h0M408.2 117.4h0M407.7 120.7h0M406.9 129.0h0M408.8 119.2h0M406.6 121.5h0M360.7 211.5h0M342.7 232.3h0M361.6 211.6h0M342.9 229.2h0M348.2 225.2h0M353.7 216.9h0M361.7 208.9h0M352.3 216.1h0M370.3 200.6h0M371.4 203.0h0M353.6 219.4h0M367.6 200.8h0"/>
<path stroke="#f80d00" stroke-width="1.90" d="M417.1 88.1h0M422.0 90.9h0M418.0 88.1h0M419.5 88.2h0M421.6 92.3h0M418.5 90.0h0M419.9 90.4h0M422.2 91.4h0M410.2 119.2h0M403.0 124.6h0M406.9 122.4h0M403.9 120.1h0M403.4 123.1h0M407.0 116.8h0M403.9 123.3h0M400.7 121.1h0M406.5 122.8h0M399.9 123.1h0M403.6 124.4h0M407.3 123.4h0M405.0 115.2h0M404.2 123.5h0M408.4 119.9h0M404.0 123.3h0M403.2 126.9h0M406.9 120.4h0M402.6 124.3h0M409.0 125.2h0M403.7 120.5h0M405.1 128.0h0M231.6 224.0h0M228.4 224.9h0M345.1 226.6h0M369.0 202.1h0M356.2 214.9h0M361.4 210.9h0M363.7 209.4h0"/>
<path stroke="#ec0400" stroke-width="1.90" d="M412.1 86.4h0M416.5 85.0h0M413.7 85.1h0M407.0 120.4h0M402.6 121.0h0M403.6 126.4h0M400.3 125.7h0M409.1 119.2h0M401.2 118.4h0M403.2 117.1h0M402.5 118.5h0M400.9 115.6h0M400.1 118.8h0M402.4 121.8h0M406.4 119.9h0M405.7 128.4h0M401.2 126.4h0M401.6 123.2h0M402.5 116.3h0M405.1 125.0h0M401.3 120.5h0M401.5 120.8h0M403.9 122.0h0M401.6 124.9h0M401.4 125.4h0M401.0 121.5h0M405.7 122.0h0M405.4 121.4h0M401.7 120.7h0M404.1 122.9h0M402.8 122.2h0M403.1 123.3h0M403.4 123.6h0M403.1 120.2h0M398.9 123.1h0M403.8 118.4h0M228.4 224.5h0M230.3 225.9h0M234.3 223.6h0M231.5 223.2h0M230.4 223.9h0M227.6 226.2h0M230.5 225.5h0M229.4 225.7h0"/>
<path stroke="#e00000" stroke-width="1.90" d="M408.6 84.7h0M416.5 88.6h0M413.4 88.8h0M410.8 85.1h0M412.2 87.6h0M406.7 83.7h0M396.1 118.1h0M402.8 124.5h0M397.6 122.7h0M396.4 125.6h0M398.6 119.9h0M400.6 120.2h0M401.9 129.4h0M401.9 126.6h0M399.9 121.3h0M403.1 121.4h0M400.7 126.9h0M401.4 123.2h0M405.1 125.0h0M399.4 126.2h0M395.6 119.9h0M401.5 124.5h0M401.3 122.1h0M399.5 121.2h0M398.8 119.5h0M402.4 120.4h0M396.8 117.8h0M399.6 118.5h0M399.0 123.6h0M232.6 228.0h0M234.6 226.6h0M234.4 225.1h0M233.2 226.9h0M229.8 225.6h0M231.0 224.4h0"/>
<path stroke="#d40000" stroke-width="1.90" d="M410.5 84.8h0M409.3 85.1h0M413.9 86.2h0M402.2 121.8h0M401.1 129.0h0M399.2 122.8h0M399.7 124.7h0M398.2 122.3h0M403.0 124.3h0M399.9 124.9h0M397.7 119.0h0M401.9 119.1h0M405.3 118.3h0M402.6 120.7h0M398.5 118.5h0M403.7 122.0h0M398.1 120.4h0M395.0 122.2h0M396.3 123.7h0M399.3 124.1h0M399.3 119.8h0M395.2 123.3h0M402.9 123.0h0M400.0 119.9h0M397.1 121.1h0M231.7 225.0h0M233.2 225.7h0M242.5 234.2h0M229.8 228.6h0M230.4 224.5h0M230.2 224.6h0"/>
<path stroke="#c80000" stroke-width="1.90" d="M391.4 78.6h0M406.9 85.3h0M408.8 84.7h0M395.6 117.8h0M399.8 121.5h0M400.2 120.2h0M401.3 125.2h0M398.2 121.4h0M394.4 125.9h0M396.7 119.2h0M399.0 122.9h0M399.4 118.3h0M400.2 120.9h0M396.0 123.3h0M395.4 120.0h0M395.6 123.3h0M396.0 122.5h0M398.5 122.3h0M395.3 120.9h0M397.1 129.6h0M397.2 128.2h0M393.8 120.1h0M398.7 123.4h0M399.1 122.0h0M398.8 120.9h0M401.0 132.0h0M400.9 122.5h0M394.3 121.0h0M395.1 120.6h0M395.8 116.4h0M398.5 126.0h0M396.1 124.1h0M396.7 121.2h0M400.0 125.2h0M233.3 232.3h0M236.1 231.0h0M237.2 228.2h0M237.5 232.8h0M235.0 230.0h0M239.6 235.5h0M234.4 227.2h0M269.4 242.4h0M239.9 232.6h0"/>
<path stroke="#bc0000" stroke-width="1.90" d="M390.3 77.7h0M406.1 83.0h0M408.7 83.0h0M406.0 82.4h0M407.1 83.5h0M394.5 123.0h0M392.9 118.8h0M396.9 126.5h0M377.3 128.6h0M395.9 119.2h0M394.0 125.2h0M384.4 123.3h0M393.4 120.0h0M394.4 123.7h0M375.3 123.1h0M393.5 121.0h0M396.1 127.5h0M396.8 122.7h0M395.1 123.5h0M391.7 120.3h0M395.5 119.5h0M387.9 126.2h0M392.0 126.3h0M400.0 123.1h0M401.5 117.2h0M393.9 124.7h0M391.9 118.2h0M384.4 129.5h0M387.3 123.5h0M399.5 122.9h0M391.0 120.4h0M397.8 123.3h0M394.3 124.0h0M391.7 117.5h0M394.5 117.8h0M399.5 121.2h0M399.0 127.2h0M269.0 245.1h0M241.8 233.4h0M301.0 248.5h0M333.1 249.7h0M240.3 228.1h0M280.2 247.8h0M237.2 230.2h0M311.2 251.5h0M397.5 222.6h0"/>
<path stroke="#b00000" stroke-width="1.90" d="M403.3 82.1h0M392.2 125.8h0M395.5 120.3h0M393.9 122.1h0M390.7 127.3h0M393.3 119.4h0M380.3 128.7h0M399.1 123.6h0M393.7 119.2h0M389.7 125.5h0M393.0 124.4h0M394.5 121.5h0M393.9 121.9h0M395.2 123.7h0M397.0 122.3h0M389.0 126.2h0M394.0 119.2h0M397.7 120.7h0M397.2 127.2h0M377.5 128.9h0M396.4 120.7h0M392.1 111.8h0M386.1 125.9h0M396.4 119.0h0M384.6 124.2h0M394.8 120.7h0M390.1 122.8h0M382.9 124.6h0M392.7 126.5h0M395.5 121.6h0M384.2 126.7h0M385.7 129.6h0M396.9 121.6h0M389.9 126.0h0M391.9 129.2h0M376.7 128.9h0M396.9 122.6h0M398.6 120.2h0M392.8 128.6h0M393.3 125.1h0M389.7 123.4h0M390.6 119.4h0M385.3 119.8h0M393.1 127.0h0M392.6 120.9h0M390.9 125.5h0M384.6 124.2h0M392.3 124.2h0M280.2 250.1h0M276.7 243.5h0M316.9 251.6h0M256.0 240.7h0M233.4 231.9h0M257.2 242.5h0M289.3 247.3h0M242.7 234.3h0M246.8 237.1h0M245.3 235.9h0M244.9 236.9h0M240.0 234.4h0M237.4 229.7h0M254.3 237.5h0M303.7 250.9h0M258.7 240.5h0M271.9 242.4h0M303.4 249.3h0M252.0 239.0h0M314.7 249.4h0M290.7 245.4h0M300.9 253.8h0M318.4 249.7h0M281.0 248.3h0M237.8 229.5h0M274.8 247.1h0M251.6 237.1h0M289.6 251.6h0M373.5 228.4h0M390.7 224.0h0M398.3 217.3h0M399.9 223.3h0M383.8 223.1h0M387.2 222.6h0M391.0 228.0h0M373.2 229.5h0M394.4 222.4h0M375.5 232.6h0"/>
<path stroke="#a40000" stroke-width="1.90" d="M394.3 78.2h0M401.0 80.3h0M384.0 76.5h0M391.4 77.3h0M391.3 125.4h0M390.3 124.6h0M384.2 126.6h0M391.6 124.4h0M386.0 129.6h0M393.9 117.5h0M386.6 122.1h0M390.8 123.4h0M381.9 126.0h0M390.7 125.3h0M390.8 123.9h0M379.3 129.5h0M378.3 126.4h0M394.1 125.6h0M380.5 128.2h0M392.9 123.5h0M377.5 129.3h0M388.1 121.5h0M395.9 121.2h0M392.4 122.6h0M377.9 127.3h0M393.8 127.2h0M380.8 125.1h0M396.8 120.6h0M387.0 123.1h0M395.6 122.9h0M393.8 119.4h0M386.1 123.4h0M376.2 127.1h0M380.0 127.5h0M377.4 130.2h0M393.6 125.0h0M396.1 123.9h0M392.4 125.7h0M387.8 125.9h0M390.3 126.5h0M385.0 125.6h0M384.8 124.1h0M384.6 125.4h0M389.6 122.8h0M392.0 119.8h0M390.3 123.5h0M384.3 127.0h0M394.6 119.5h0M385.4 121.6h0M394.3 122.9h0M376.6 131.7h0M395.9 121.9h0M391.2 125.9h0M390.5 127.6h0M387.4 127.2h0M392.0 120.3h0M384.2 124.9h0M388.7 123.9h0M387.4 130.5h0M394.6 119.8h0M386.3 122.6h0M389.9 123.2h0M387.6 128.4h0M380.6 125.9h0M382.8 128.1h0M395.8 122.8h0M297.9 246.7h0M307.6 251.8h0M264.7 240.6h0M298.8 251.6h0M279.2 249.6h0M284.3 252.1h0M321.4 250.6h0M300.6 251.6h0M260.3 243.1h0M315.1 249.9h0M263.9 242.5h0M349.9 245.8h0M291.8 247.8h0M239.3 231.9h0M277.8 244.6h0M309.7 250.2h0M246.3 237.2h0M263.6 241.1h0M335.4 248.8h0M321.5 252.8h0M238.6 234.5h0M253.1 240.1h0M238.5 230.1h0M310.1 248.9h0M241.1 232.0h0M290.6 248.8h0M251.7 242.4h0M243.6 232.3h0M313.0 251.2h0M342.8 247.6h0M285.6 248.6h0M328.5 250.9h0M290.5 250.2h0M347.4 245.3h0M293.1 247.5h0M280.4 244.7h0M294.0 250.6h0M296.0 250.9h0M263.0 240.4h0M345.5 246.4h0M282.2 244.9h0M240.3 231.4h0M320.3 251.2h0M344.4 246.9h0M310.2 250.3h0M343.8 246.2h0M309.4 251.9h0M324.4 250.3h0M280.5 245.9h0M299.0 251.1h0M342.1 246.8h0M315.3 249.0h0M239.6 234.1h0M243.0 234.4h0M335.0 248.4h0M254.6 236.7h0M264.9 242.5h0M267.7 244.3h0M241.4 235.1h0M242.2 230.2h0M338.2 246.5h0M233.6 232.5h0M254.6 239.6h0M321.1 250.5h0M275.1 244.9h0M329.8 247.2h0M378.5 223.5h0M396.4 220.6h0M398.8 221.3h0M394.2 221.6h0M391.6 225.4h0M377.2 228.0h0M384.4 227.5h0M381.7 226.9h0M387.3 225.5h0M388.7 220.6h0M374.4 228.6h0M394.7 219.3h0M387.0 228.4h0M373.1 228.7h0M402.1 222.8h0M401.8 217.6h0M396.0 219.9h0M375.3 229.9h0M399.9 219.0h0"/>
<path stroke="#980000" stroke-width="1.90" d="M389.5 76.4h0M382.9 75.0h0M388.3 76.7h0M392.6 78.9h0M387.9 74.8h0M383.4 76.7h0M401.7 79.5h0M377.5 129.3h0M381.3 124.6h0M391.6 121.5h0M389.7 124.6h0M381.5 126.2h0M382.4 122.9h0M385.4 128.2h0M387.7 127.6h0M379.1 128.8h0M375.9 130.9h0M388.0 123.9h0M379.1 126.7h0M393.9 130.0h0M375.5 127.9h0M386.1 125.2h0M378.3 127.4h0M389.8 126.5h0M390.2 129.9h0M381.7 127.3h0M392.4 119.1h0M386.4 122.0h0M387.2 123.3h0M393.3 124.8h0M382.4 125.9h0M381.2 128.6h0M375.3 129.5h0M388.5 124.2h0M388.7 124.1h0M381.4 127.7h0M390.0 119.9h0M377.1 127.8h0M374.7 129.7h0M393.6 124.6h0M397.8 124.7h0M392.9 123.5h0M381.2 122.6h0M384.6 130.1h0M382.2 125.9h0M392.6 123.5h0M374.9 129.2h0M382.9 126.2h0M383.4 124.4h0M391.3 122.8h0M393.1 119.5h0M386.8 122.9h0M392.4 122.3h0M391.5 125.5h0M386.7 127.1h0M385.0 124.6h0M383.6 126.6h0M381.7 124.8h0M389.1 120.9h0M390.9 125.2h0M391.6 121.4h0M386.3 119.0h0M381.9 124.1h0M387.4 122.0h0M380.8 125.4h0M384.5 125.1h0M384.8 124.5h0M383.3 126.6h0M386.4 125.3h0M376.2 128.3h0M383.2 122.9h0M380.3 128.9h0M389.0 123.9h0M387.6 124.0h0M383.4 126.7h0M382.3 129.6h0M392.7 125.6h0M240.7 233.2h0M282.1 248.4h0M278.8 249.1h0M288.2 247.3h0M315.1 251.0h0M263.2 242.6h0M331.1 248.6h0M333.3 246.8h0M322.2 250.1h0M288.8 244.6h0M316.2 250.8h0M313.9 250.3h0M246.7 236.5h0M311.8 250.0h0M267.8 244.8h0M324.5 249.2h0M335.8 247.0h0M241.1 238.8h0M309.3 252.1h0M331.5 249.8h0M305.1 249.4h0M321.7 247.1h0M296.3 249.6h0M247.8 237.2h0M302.6 249.8h0M275.8 248.9h0M263.5 243.4h0M294.7 249.9h0M281.7 250.7h0M314.6 250.8h0M245.0 240.0h0M254.9 237.3h0M256.6 241.6h0M294.7 251.5h0M292.1 247.5h0M335.3 250.3h0M298.4 250.1h0M268.2 245.5h0M254.4 235.4h0M310.9 250.5h0M246.6 241.3h0M266.9 243.9h0M324.2 248.8h0M304.2 246.3h0M265.1 241.7h0M248.1 234.7h0M281.6 247.7h0M251.8 237.4h0M263.9 240.8h0M259.3 242.5h0M261.5 240.4h0M284.5 248.7h0M261.6 248.8h0M255.7 237.6h0M343.2 247.8h0M301.8 249.1h0M333.6 247.7h0M347.9 246.7h0M349.0 245.9h0M281.8 245.9h0M260.3 238.7h0M327.9 250.1h0M250.0 240.9h0M247.7 237.9h0M333.9 248.8h0M341.1 247.2h0M320.6 248.7h0M330.2 249.7h0M277.5 248.3h0M274.5 247.2h0M256.2 237.6h0M342.4 246.9h0M265.1 244.3h0M321.9 249.5h0M277.3 245.6h0M290.2 251.8h0M264.9 244.3h0M305.0 248.6h0M314.1 253.7h0M327.5 249.9h0M345.4 246.6h0M276.7 248.7h0M247.7 232.7h0M312.4 251.6h0M247.1 237.8h0M342.4 246.7h0M255.9 243.0h0M306.6 249.0h0M299.5 250.2h0M345.1 246.0h0M249.0 237.4h0M384.7 229.3h0M390.4 229.3h0M387.3 227.0h0M387.9 228.4h0M399.7 219.2h0M380.1 226.5h0M390.5 224.3h0M395.9 223.1h0M385.4 227.3h0M386.7 229.9h0M373.5 227.8h0M370.9 226.6h0M385.5 228.8h0M386.7 227.3h0M399.6 215.3h0M401.0 219.5h0M379.5 228.3h0M400.7 218.5h0M391.8 224.8h0M384.8 231.2h0"/>
<path stroke="#8c0000" stroke-width="1.90" d="M384.2 76.7h0M401.4 79.9h0M395.4 78.3h0M391.5 128.5h0M388.6 123.3h0M381.1 131.8h0M383.1 125.0h0M384.3 122.7h0M376.4 128.4h0M382.4 125.3h0M392.7 123.4h0M376.7 128.5h0M380.6 126.9h0M379.4 126.8h0M380.5 127.7h0M392.1 124.3h0M379.3 128.2h0M379.0 129.1h0M379.4 130.0h0M386.8 129.3h0M377.5 128.5h0M377.7 128.9h0M385.6 123.4h0M392.5 122.7h0M386.1 120.9h0M384.2 124.4h0M384.7 127.6h0M385.4 128.8h0M375.3 128.5h0M376.7 129.3h0M379.9 126.5h0M377.1 126.5h0M388.6 120.1h0M385.5 123.3h0M386.3 123.7h0M380.8 129.3h0M385.5 128.2h0M391.7 124.6h0M387.7 124.7h0M389.1 123.3h0M385.2 130.1h0M385.4 125.9h0M384.1 126.9h0M384.0 121.3h0M383.5 133.1h0M377.5 131.3h0M392.2 124.1h0M264.0 244.6h0M292.5 246.5h0M249.9 239.9h0M254.2 241.4h0M320.3 250.3h0M290.9 245.1h0M291.6 250.6h0M250.1 240.7h0M288.6 247.2h0M302.5 247.3h0M290.9 246.4h0M247.3 231.6h0M245.1 236.8h0M240.0 230.4h0M275.8 241.5h0M320.6 249.6h0M284.0 248.6h0M287.5 248.1h0M271.4 246.7h0M314.3 249.5h0M300.4 251.2h0M340.1 247.0h0M343.2 246.5h0M255.3 244.9h0M263.6 244.0h0M318.2 247.7h0M282.6 245.1h0M273.6 242.4h0M243.3 238.4h0M288.7 249.4h0M247.8 238.8h0M247.0 236.6h0M290.6 251.4h0M330.3 246.3h0M320.9 248.7h0M316.5 252.4h0M309.4 250.0h0M346.9 244.9h0M277.8 244.7h0M325.6 249.6h0M333.9 247.6h0M259.2 244.3h0M283.2 248.1h0M267.8 244.4h0M344.2 244.2h0M259.7 240.2h0M280.3 248.8h0M260.8 243.0h0M295.6 249.4h0M299.6 248.7h0M256.0 236.6h0M344.1 245.5h0M259.7 239.8h0M289.2 248.2h0M316.6 249.9h0M338.3 247.9h0M292.8 249.5h0M313.2 250.5h0M329.9 250.1h0M280.6 248.2h0M313.8 250.1h0M246.8 241.4h0M277.6 248.4h0M343.9 247.3h0M284.7 249.8h0M337.5 246.2h0M304.7 251.3h0M345.3 248.1h0M305.4 251.3h0M387.9 226.5h0M386.8 224.3h0M395.5 226.3h0M373.4 229.1h0M383.5 227.2h0M396.4 225.2h0M392.1 225.7h0M398.3 223.8h0M383.5 229.1h0M387.4 223.9h0M390.2 222.1h0M379.8 227.0h0M375.1 228.5h0M391.0 222.8h0M385.7 227.2h0M388.8 220.2h0M388.0 223.2h0M397.9 223.2h0"/>
<path stroke="#800000" stroke-width="1.90" d="M380.5 76.0h0M387.3 78.3h0M381.0 75.3h0M385.2 125.2h0M377.4 128.4h0M382.5 126.1h0M375.1 128.3h0M377.1 129.7h0M375.2 128.9h0M377.8 127.9h0M378.3 129.7h0M381.6 125.9h0M379.4 130.4h0M380.1 126.5h0M378.7 127.0h0M378.4 130.5h0M375.4 126.6h0M379.7 125.4h0M381.6 128.0h0M377.0 128.3h0M379.2 127.9h0M379.3 128.9h0M388.8 123.6h0M390.2 125.3h0M381.1 126.8h0M379.9 128.2h0M375.2 129.7h0M389.7 124.1h0M375.1 128.7h0M379.0 126.9h0M391.9 127.6h0M380.7 124.1h0M378.1 129.5h0M382.9 125.6h0M375.4 129.4h0M381.4 124.9h0M388.9 123.4h0M383.2 127.7h0M390.7 120.9h0M382.3 129.0h0M375.3 131.8h0M376.8 132.3h0M381.1 127.0h0M390.2 120.1h0M384.4 126.3h0M381.8 124.2h0M377.6 128.9h0M376.6 129.9h0M380.3 128.0h0M392.0 123.5h0M380.8 124.8h0M380.8 129.9h0M376.3 130.1h0M377.5 127.8h0M377.2 130.1h0M276.3 247.1h0M330.9 249.3h0M262.8 242.2h0M255.7 238.1h0M310.9 251.2h0M326.5 248.5h0M278.6 250.0h0M264.4 245.7h0M303.3 249.5h0M280.1 248.9h0M296.6 247.9h0M278.9 248.2h0M248.5 241.2h0M332.6 249.3h0M271.9 248.1h0M240.1 235.8h0M290.8 249.6h0M284.7 251.3h0M301.1 249.9h0M325.9 247.0h0M330.2 251.5h0M286.2 247.4h0M319.7 248.9h0M266.6 241.3h0M334.5 248.5h0M315.7 249.0h0M308.5 250.4h0M257.4 237.7h0M343.4 246.0h0M317.6 247.4h0M273.4 247.3h0M307.8 249.7h0M261.6 239.3h0M313.1 253.2h0M330.1 249.5h0M261.4 239.7h0M289.2 250.2h0M264.7 248.8h0M303.8 251.1h0M292.6 248.6h0M251.4 239.1h0M298.6 250.5h0M271.3 244.9h0M257.2 239.8h0M272.0 242.8h0M348.1 246.2h0M278.4 244.0h0M391.4 220.9h0M393.8 222.2h0M393.4 224.0h0M377.1 230.0h0M390.8 223.7h0M376.9 231.7h0M390.1 225.4h0M389.5 227.3h0M394.6 220.5h0M390.6 229.0h0M390.9 224.0h0M393.0 224.3h0M397.7 223.2h0M379.5 228.7h0M396.7 225.3h0M390.9 225.6h0M378.9 225.8h0"/>
<path stroke="#0000d4" stroke-width="1.90" d="M247.0 456.4h0M246.2 454.3h0"/>
<path stroke="#0000e0" stroke-width="1.90" d="M243.7 451.1h0M249.5 453.5h0M249.0 454.3h0"/>
<path stroke="#0000ec" stroke-width="1.90" d="M253.9 454.5h0M255.5 455.5h0M255.6 455.8h0M245.5 453.5h0M252.8 452.9h0M255.9 456.0h0M251.7 453.5h0"/>
<path stroke="#0000f8" stroke-width="1.90" d="M251.7 454.7h0M245.2 451.1h0M247.2 454.3h0M250.8 455.9h0M249.9 454.5h0M240.7 449.7h0M236.1 450.2h0M260.0 457.0h0M246.9 451.5h0M256.2 457.4h0M260.8 455.7h0M254.6 458.2h0M528.9 498.8h0"/>
<path stroke="#0000ff" stroke-width="1.90" d="M247.5 453.5h0M252.4 454.1h0M244.9 450.4h0M239.0 450.5h0M262.3 455.2h0M256.6 456.6h0M247.0 453.6h0M247.1 454.2h0M251.2 456.6h0M249.6 452.3h0M251.6 452.6h0M241.3 451.6h0M251.3 453.7h0M236.8 449.3h0M264.6 459.6h0M257.4 455.8h0M251.1 454.6h0M524.6 497.6h0"/>
<path stroke="#0000ff" stroke-width="1.90" d="M234.2 450.5h0M233.6 449.0h0M256.3 453.8h0M231.5 449.0h0M247.9 453.5h0M256.9 456.2h0M234.1 447.5h0M243.2 453.4h0M229.5 446.5h0M267.0 458.9h0M237.7 448.2h0M241.2 451.3h0M235.6 448.1h0M257.8 457.8h0M245.4 453.5h0M243.0 454.9h0M237.0 449.8h0M234.6 449.4h0M513.4 491.0h0M526.7 497.7h0M529.6 500.2h0M532.0 500.1h0M535.9 502.2h0M540.2 504.5h0M543.5 506.6h0"/>
<path stroke="#000bff" stroke-width="1.90" d="M236.6 449.1h0M261.4 455.6h0M226.2 444.4h0M233.9 451.2h0M228.6 448.6h0M229.6 448.9h0M238.2 449.0h0M234.8 447.6h0M232.5 445.8h0M223.3 445.9h0M255.8 456.0h0M235.0 450.0h0M231.0 447.5h0M264.2 458.7h0M256.0 454.2h0M228.8 447.7h0M522.0 494.6h0M523.9 495.5h0M541.7 505.9h0"/>
<path stroke="#0015ff" stroke-width="1.90" d="M263.4 454.8h0M237.0 448.6h0M266.2 456.7h0M231.2 445.2h0M240.9 454.1h0M228.4 447.3h0M227.4 447.9h0M230.6 448.6h0M223.0 445.3h0M260.7 455.9h0M233.4 447.2h0M262.2 458.5h0M229.6 448.5h0M262.2 457.1h0M263.4 459.0h0M521.5 496.6h0M526.2 497.7h0M533.0 500.0h0M534.7 501.3h0M535.3 502.0h0M538.2 502.0h0M539.6 504.3h0M542.5 503.6h0M542.1 506.4h0M543.1 505.2h0M546.1 506.9h0M562.9 514.0h0"/>
<path stroke="#0020ff" stroke-width="1.90" d="M257.1 455.8h0M222.6 445.6h0M218.1 443.7h0M262.6 457.9h0M215.0 440.8h0M225.9 446.9h0M218.5 443.5h0M208.1 442.4h0M213.1 440.3h0M265.0 455.2h0M209.5 442.2h0M260.4 458.9h0M258.8 457.2h0M206.6 440.5h0M539.9 502.8h0M545.9 505.6h0M545.8 506.8h0M548.6 508.7h0M551.1 508.5h0M552.1 509.3h0M553.9 511.2h0M556.8 512.7h0"/>
<path stroke="#002aff" stroke-width="1.90" d="M268.2 458.2h0M209.5 442.2h0M214.4 443.9h0M228.8 445.7h0M222.3 446.8h0M214.5 442.6h0M210.7 443.3h0M208.3 440.1h0M213.4 441.6h0M206.5 443.3h0M217.8 445.5h0M208.8 442.2h0M206.9 442.7h0M225.0 446.0h0M263.9 459.0h0M236.1 448.3h0M265.1 460.0h0M220.9 446.6h0M229.1 447.4h0M264.5 460.2h0M215.0 443.7h0M536.3 503.7h0M538.8 502.5h0M547.3 507.4h0M548.5 508.0h0M553.1 511.2h0M554.9 511.9h0M556.0 512.1h0M556.9 515.2h0M559.7 513.9h0M566.0 515.9h0M567.1 516.2h0M570.7 518.1h0M577.0 519.1h0M582.5 521.7h0"/>
<path stroke="#0035ff" stroke-width="1.90" d="M209.3 440.5h0M212.2 442.1h0M206.3 440.3h0M267.6 458.8h0M204.9 440.2h0M220.2 444.3h0M205.0 443.4h0M215.6 443.4h0M216.4 445.1h0M267.2 456.6h0M206.3 443.4h0M229.3 448.8h0M207.6 437.6h0M221.6 443.4h0M217.1 444.5h0M204.3 445.2h0M217.5 446.1h0M207.3 441.2h0M214.6 442.9h0M550.3 510.1h0M558.2 514.1h0M560.0 511.7h0M563.7 513.9h0M564.5 516.7h0M567.8 517.0h0M568.4 517.8h0M573.0 519.5h0M579.1 520.7h0M581.4 518.4h0M584.4 521.8h0"/>
<path stroke="#0040ff" stroke-width="1.90" d="M209.8 440.1h0M205.7 442.6h0M206.9 441.9h0M211.3 442.0h0M197.4 437.3h0M199.9 438.8h0M224.8 446.1h0M205.0 442.1h0M207.8 442.5h0M549.7 508.2h0M552.3 510.9h0M554.8 512.0h0M561.1 513.9h0M572.0 519.0h0M575.1 518.2h0M575.5 517.6h0M580.0 519.1h0M393.0 520.0h0M401.8 513.3h0"/>
<path stroke="#004aff" stroke-width="1.90" d="M198.4 441.2h0M203.6 443.5h0M194.4 436.5h0M187.1 441.9h0M207.5 442.9h0M201.7 441.9h0M190.7 437.3h0M528.5 499.1h0M561.3 514.6h0M562.9 515.6h0M565.5 515.2h0M568.4 517.5h0M574.2 518.6h0M576.0 521.0h0M585.8 521.8h0M395.5 522.0h0"/>
<path stroke="#0055ff" stroke-width="1.90" d="M193.4 441.6h0M199.0 440.8h0M189.1 442.8h0M192.8 440.6h0M192.4 441.5h0M193.2 438.8h0M202.5 438.7h0M201.4 440.3h0M205.5 443.0h0M199.0 437.3h0M199.9 438.9h0M201.0 440.1h0M198.5 439.2h0M187.9 439.9h0M571.5 518.0h0M577.8 520.2h0M581.0 519.5h0M586.9 523.1h0M586.6 524.0h0M590.4 522.7h0M589.0 524.0h0M593.2 524.2h0M387.9 522.2h0M373.4 524.8h0M396.4 520.9h0M390.6 524.7h0M383.5 524.8h0M402.1 518.5h0M373.2 525.2h0"/>
<path stroke="#0060ff" stroke-width="1.90" d="M199.3 440.9h0M196.0 439.2h0M193.6 440.4h0M196.4 441.0h0M195.5 438.7h0M188.8 439.9h0M191.6 439.3h0M186.3 439.4h0M178.5 436.8h0M188.7 440.7h0M187.0 439.5h0M571.5 517.7h0M581.9 521.0h0M584.8 523.0h0M587.8 524.2h0M590.4 524.9h0M594.4 523.9h0M594.6 524.9h0M354.3 513.1h0M384.7 525.0h0M390.4 525.0h0M373.5 524.1h0M390.7 519.7h0M396.4 516.3h0M399.7 514.9h0M390.5 520.0h0M392.1 521.4h0M386.7 525.6h0M388.7 516.3h0M394.7 515.0h0M387.2 518.3h0M396.7 521.0h0M401.0 515.2h0M390.9 521.3h0"/>
<path stroke="#006aff" stroke-width="1.90" d="M180.8 437.5h0M189.2 442.4h0M188.4 437.3h0M196.0 444.9h0M179.6 437.7h0M177.5 439.0h0M170.8 437.5h0M179.3 437.0h0M195.1 439.1h0M194.2 442.0h0M183.1 439.8h0M177.5 437.3h0M181.3 439.6h0M583.8 522.4h0M592.4 524.4h0M595.5 525.3h0M597.7 525.1h0M378.5 519.2h0M391.4 516.6h0M393.4 519.7h0M387.3 522.7h0M377.1 525.7h0M387.9 524.1h0M377.2 523.7h0M380.1 522.2h0M390.8 519.4h0M390.1 521.1h0M389.5 523.0h0M394.6 516.2h0M390.9 519.7h0M385.4 523.0h0M398.3 513.0h0M374.4 524.3h0M387.4 519.6h0M399.9 519.0h0M390.2 517.8h0M370.9 522.3h0M387.0 524.1h0M391.0 518.5h0M397.5 518.3h0M375.3 525.6h0M384.8 526.9h0"/>
<path stroke="#0075ff" stroke-width="1.90" d="M176.4 439.2h0M178.7 437.9h0M192.1 438.7h0M188.5 440.3h0M176.7 439.2h0M173.1 436.7h0M174.6 438.9h0M178.2 438.1h0M190.8 437.8h0M174.7 438.3h0M188.1 440.1h0M171.2 436.1h0M172.9 435.2h0M188.9 439.3h0M179.7 435.6h0M171.8 437.7h0M176.5 437.4h0M179.3 439.2h0M187.1 438.9h0M173.4 436.7h0M429.6 432.7h0M592.5 521.8h0M363.5 500.3h0M386.8 520.0h0M383.5 522.9h0M394.2 517.3h0M381.7 522.6h0M387.3 521.2h0M398.3 519.5h0M373.5 523.5h0M379.5 524.4h0M373.1 524.4h0M379.8 522.7h0M385.5 524.5h0M386.7 523.0h0M388.8 515.9h0M394.4 518.1h0M396.0 515.6h0M388.0 518.9h0M391.8 520.5h0M399.9 514.7h0"/>
<path stroke="#0080ff" stroke-width="1.90" d="M176.1 435.8h0M188.5 437.3h0M193.5 437.9h0M171.2 438.1h0M183.2 440.9h0M175.7 437.2h0M166.1 440.7h0M181.4 438.1h0M188.4 438.9h0M596.3 525.7h0M365.2 497.6h0M362.1 503.9h0M362.3 505.3h0M362.4 507.0h0M367.7 499.2h0M365.2 501.3h0M357.6 511.0h0M361.4 506.6h0M361.7 504.6h0M355.5 515.3h0M369.2 497.2h0M365.4 503.1h0M365.2 500.4h0M365.7 501.2h0M351.5 514.8h0M398.8 517.0h0M391.6 521.1h0M376.9 527.4h0M395.9 518.8h0M384.4 523.2h0M397.7 518.9h0M383.8 518.8h0M391.0 523.7h0M375.1 524.2h0M399.6 511.0h0M375.5 528.3h0M378.9 521.5h0"/>
<path stroke="#008aff" stroke-width="1.90" d="M172.2 440.2h0M182.6 440.5h0M171.6 437.5h0M169.6 434.9h0M166.5 437.1h0M174.1 438.1h0M176.2 438.3h0M176.8 438.4h0M165.4 437.9h0M177.2 436.8h0M165.0 437.1h0M168.0 437.4h0M430.5 429.1h0M429.7 424.8h0M429.7 434.5h0M430.6 440.8h0M598.1 525.0h0M360.7 505.2h0M357.8 505.2h0M361.6 507.3h0M359.4 506.7h0M363.0 501.3h0M358.6 506.5h0M356.2 510.6h0M348.2 518.6h0M369.5 499.0h0M366.3 502.0h0M362.9 505.2h0M350.1 509.3h0M361.8 503.3h0M365.8 500.2h0M365.3 500.6h0M353.6 511.8h0M369.5 497.1h0M360.8 508.9h0M363.7 501.4h0M353.6 515.1h0M363.8 500.9h0M379.5 524.0h0M385.7 522.9h0M400.7 514.2h0M397.9 518.9h0"/>
<path stroke="#0095ff" stroke-width="1.90" d="M172.8 435.8h0M165.5 439.9h0M165.3 435.1h0M168.7 436.3h0M172.0 437.7h0M167.4 437.2h0M431.4 434.1h0M432.7 439.5h0M430.9 442.9h0M431.4 429.0h0M430.5 440.4h0M429.9 431.5h0M429.2 425.3h0M360.7 507.2h0M355.1 511.4h0M350.3 516.3h0M357.7 509.7h0M368.8 496.7h0M367.6 501.4h0M356.0 511.0h0M369.1 496.3h0M363.2 504.0h0M344.2 527.6h0M363.7 509.9h0M370.8 494.7h0M363.2 506.5h0M363.5 501.1h0M370.3 497.7h0M365.9 502.0h0M370.3 496.3h0M365.1 501.6h0M366.8 496.0h0M361.9 505.7h0M371.1 495.3h0M356.4 512.7h0M355.0 513.7h0M356.4 510.2h0M368.5 496.9h0M358.7 506.1h0M364.1 501.3h0M352.5 515.0h0M367.6 496.5h0M393.8 517.9h0"/>
<path stroke="#009fff" stroke-width="1.90" d="M201.0 406.4h0M199.5 406.2h0M199.6 406.8h0M166.8 437.3h0M430.7 437.8h0M431.3 434.0h0M431.6 445.2h0M431.6 441.2h0M432.5 445.4h0M431.2 442.8h0M431.4 437.9h0M433.3 431.3h0M432.8 442.9h0M430.3 433.7h0M430.6 447.1h0M365.2 500.2h0M360.0 506.4h0M340.3 528.4h0M366.2 501.3h0M369.6 495.3h0M363.4 502.4h0M369.6 496.3h0M355.0 513.4h0M349.6 520.6h0M354.1 513.3h0M349.0 520.0h0M362.3 503.4h0M346.6 522.8h0M356.6 510.7h0M363.7 505.1h0M353.7 512.6h0M368.9 496.5h0M364.2 503.1h0M371.4 498.7h0M356.8 508.6h0M366.0 499.1h0M348.9 522.1h0M359.3 508.2h0M349.3 519.3h0M367.0 500.1h0"/>
<path stroke="#00aaff" stroke-width="1.90" d="M203.9 406.0h0M166.2 438.0h0M168.4 438.5h0M175.8 435.6h0M432.9 442.3h0M360.6 507.9h0M345.1 522.3h0M364.0 501.2h0M352.1 517.1h0M357.3 506.5h0M369.0 497.8h0M358.4 507.1h0M348.2 520.9h0M362.2 503.8h0M352.3 511.8h0M340.2 528.1h0M350.9 515.3h0M348.1 522.7h0M364.6 499.6h0M354.4 510.5h0M351.3 518.6h0"/>
<path stroke="#00b5ff" stroke-width="1.90" d="M197.4 406.2h0M165.7 437.0h0M432.4 436.9h0M429.1 437.9h0M431.5 435.1h0M431.1 443.0h0M353.4 511.6h0M352.2 515.3h0M363.3 503.6h0M342.9 524.9h0M357.6 511.8h0M358.4 506.3h0M363.8 502.6h0M369.8 494.8h0M352.9 514.1h0M346.8 520.6h0"/>
<path stroke="#00bfff" stroke-width="1.90" d="M182.3 406.1h0M189.8 407.0h0M192.6 407.9h0M205.1 407.3h0M198.7 406.0h0M206.5 406.7h0M209.3 406.4h0M204.3 406.9h0M210.9 407.1h0M429.9 434.3h0M356.1 511.5h0"/>
<path stroke="#00caff" stroke-width="1.90" d="M193.7 408.3h0M193.8 407.9h0M182.6 403.0h0M190.9 405.8h0M190.1 406.6h0M184.6 405.5h0M172.8 406.7h0M190.9 406.5h0M191.3 406.8h0M172.9 404.8h0M186.3 407.8h0M189.4 403.6h0M247.5 451.1h0M238.4 441.5h0M431.3 436.3h0M503.8 498.0h0M342.7 528.0h0"/>
<path stroke="#00d4ff" stroke-width="1.90" d="M167.1 405.9h0M182.9 406.8h0M164.8 405.5h0M171.3 404.9h0M166.6 406.4h0M184.0 407.4h0M169.1 407.9h0M178.8 407.5h0M192.6 406.0h0M184.4 407.7h0M195.3 405.8h0M167.7 406.2h0M164.0 406.4h0M193.0 408.4h0M187.4 407.5h0M189.6 406.5h0M497.9 494.4h0M503.3 498.5h0"/>
<path stroke="#00dffc" stroke-width="1.90" d="M154.2 400.1h0M191.2 405.7h0M189.2 405.5h0M180.9 404.2h0M193.6 407.5h0M171.7 402.2h0M192.4 407.6h0M178.3 406.7h0M174.6 404.5h0M187.9 409.1h0M191.7 407.8h0M184.5 406.9h0M185.0 406.5h0M164.9 402.1h0M142.5 424.9h0M156.5 422.6h0M239.3 441.9h0M241.6 445.2h0M238.5 440.2h0M236.9 442.6h0M242.9 446.1h0M249.4 450.0h0M508.3 498.1h0M509.1 501.5h0M511.4 501.1h0M511.2 502.3h0M527.8 510.9h0M529.9 511.3h0M536.7 514.7h0M342.8 543.3h0"/>
<path stroke="#03eaf3" stroke-width="1.90" d="M162.5 402.0h0M152.2 400.0h0M172.2 406.6h0M175.4 408.8h0M191.5 406.3h0M179.9 405.4h0M179.0 405.9h0M163.2 406.1h0M189.8 405.7h0M194.0 405.7h0M185.0 407.0h0M187.4 404.9h0M168.5 406.1h0M191.5 407.0h0M177.8 406.0h0M167.5 406.4h0M181.1 406.6h0M173.4 408.1h0M185.2 407.8h0M195.6 409.6h0M179.7 407.3h0M143.4 424.0h0M145.8 424.6h0M147.3 424.8h0M230.3 433.4h0M240.2 442.3h0M234.0 437.6h0M248.7 450.0h0M234.3 438.5h0M247.5 449.4h0M243.3 447.4h0M248.0 449.6h0M244.8 450.4h0M232.3 434.1h0M243.1 447.7h0M236.0 439.9h0M224.9 432.9h0M497.2 493.3h0M497.1 497.1h0M502.9 495.7h0M504.0 497.0h0M510.0 501.8h0M512.8 502.6h0M514.8 501.9h0M524.8 507.9h0M538.2 515.9h0M545.4 518.5h0M545.6 518.5h0M546.8 517.3h0M549.2 519.4h0M558.4 521.5h0M340.1 542.7h0M344.2 539.9h0M348.1 541.9h0M345.3 543.8h0"/>
<path stroke="#0cf4eb" stroke-width="1.90" d="M166.6 388.1h0M172.4 388.4h0M172.0 388.5h0M359.3 350.5h0M159.0 402.1h0M149.9 398.0h0M167.4 402.9h0M156.0 400.2h0M161.9 401.4h0M173.5 407.7h0M171.9 408.9h0M174.2 408.6h0M170.5 409.1h0M186.1 405.8h0M175.8 404.5h0M189.0 408.4h0M189.5 405.1h0M169.9 408.0h0M167.9 406.5h0M166.1 403.6h0M182.1 405.4h0M155.4 424.0h0M151.1 426.0h0M150.2 423.4h0M148.1 424.4h0M155.4 423.7h0M157.0 424.0h0M138.1 425.4h0M239.5 442.5h0M248.6 447.2h0M231.4 434.4h0M241.3 444.2h0M228.9 436.3h0M235.9 441.0h0M234.9 440.4h0M244.6 448.1h0M245.8 449.4h0M219.7 429.4h0M218.4 430.0h0M401.9 361.2h0M499.4 496.6h0M501.6 496.3h0M501.3 497.2h0M501.4 498.2h0M504.2 499.7h0M506.1 497.6h0M506.3 498.2h0M506.8 498.0h0M508.7 498.7h0M507.8 501.5h0M509.2 499.9h0M513.1 501.4h0M513.9 502.8h0M516.4 503.6h0M519.5 503.5h0M518.6 506.7h0M521.9 507.2h0M523.8 506.8h0M524.1 509.5h0M525.2 509.2h0M526.6 509.8h0M528.6 510.0h0M530.9 512.1h0M530.8 512.0h0M534.0 513.2h0M535.5 512.9h0M537.3 514.9h0M540.1 516.7h0M541.9 516.2h0M331.5 545.5h0M334.5 544.2h0M346.9 540.6h0M345.5 542.1h0M344.4 542.6h0M343.8 541.9h0M342.4 542.6h0M344.1 541.2h0M338.2 542.2h0"/>
<path stroke="#15ffe2" stroke-width="1.90" d="M167.7 387.2h0M177.3 391.6h0M172.6 389.6h0M164.9 388.1h0M178.7 390.5h0M181.6 392.8h0M176.9 390.9h0M360.6 351.2h0M351.9 346.0h0M345.3 348.9h0M159.0 400.5h0M168.0 403.6h0M148.6 397.2h0M145.7 396.4h0M145.4 396.8h0M146.7 397.0h0M152.9 399.5h0M168.0 402.5h0M163.8 403.8h0M164.0 404.0h0M161.0 424.1h0M150.7 423.9h0M149.1 424.6h0M230.8 421.5h0M235.3 434.1h0M230.6 423.1h0M227.1 410.1h0M228.5 420.6h0M246.8 449.5h0M230.3 432.5h0M242.9 445.2h0M222.5 433.4h0M405.2 366.4h0M417.5 375.6h0M497.7 493.9h0M500.2 496.0h0M501.3 495.3h0M509.1 502.1h0M511.8 502.2h0M514.9 502.0h0M515.2 504.6h0M517.3 504.6h0M521.4 505.1h0M521.9 507.7h0M526.0 509.5h0M526.9 509.8h0M527.3 510.3h0M528.7 511.4h0M529.6 510.6h0M532.3 512.2h0M535.2 512.4h0M534.7 515.8h0M537.0 514.8h0M538.8 513.9h0M539.0 515.6h0M541.4 517.1h0M542.4 517.0h0M543.8 516.3h0M544.3 515.6h0M544.3 518.7h0M549.8 518.6h0M550.1 519.8h0M551.5 521.8h0M556.6 522.1h0M560.5 524.2h0M560.7 524.5h0M349.9 541.5h0M335.4 544.5h0M343.2 542.2h0M343.4 541.7h0M347.9 542.4h0M349.0 541.6h0M341.1 542.9h0M342.1 542.5h0M345.4 542.3h0M338.3 543.6h0M343.9 543.0h0M345.1 541.7h0"/>
<path stroke="#1dffda" stroke-width="1.90" d="M177.4 391.4h0M174.1 390.7h0M175.5 389.9h0M176.9 390.3h0M159.7 385.8h0M173.5 389.3h0M179.0 390.6h0M357.5 349.1h0M157.6 401.5h0M172.2 405.1h0M172.7 404.2h0M161.1 401.7h0M146.0 396.9h0M168.5 405.1h0M141.8 424.6h0M163.1 423.2h0M231.2 419.5h0M237.0 431.1h0M229.8 425.3h0M233.0 433.0h0M233.2 420.6h0M230.8 428.5h0M230.8 432.2h0M235.8 431.8h0M226.1 410.3h0M226.5 417.4h0M229.4 422.1h0M225.8 409.7h0M232.8 431.9h0M229.4 417.8h0M235.0 431.7h0M233.9 424.3h0M229.5 422.3h0M230.4 426.7h0M228.6 411.3h0M232.9 435.5h0M222.4 431.8h0M410.9 369.3h0M405.5 366.7h0M401.1 365.3h0M423.7 379.8h0M467.8 466.2h0M472.8 462.3h0M461.1 459.7h0M466.9 460.5h0M496.6 494.9h0M499.9 493.9h0M507.5 500.2h0M516.3 506.0h0M518.1 504.6h0M520.2 506.2h0M522.4 508.4h0M525.3 507.8h0M532.0 513.0h0M534.3 512.6h0M539.2 516.5h0M542.3 517.8h0M544.0 517.7h0M546.8 518.8h0M547.9 518.7h0M549.5 518.3h0M551.8 520.2h0M553.1 520.0h0M553.2 522.0h0M553.7 521.0h0M554.0 522.0h0M556.6 521.5h0M560.7 519.9h0M562.0 523.6h0M562.3 525.3h0M563.9 524.1h0M564.0 524.6h0M564.0 524.7h0M568.6 526.3h0M571.2 528.2h0M572.7 525.8h0M573.3 527.2h0M333.3 542.5h0M335.3 546.0h0M328.5 546.6h0M343.2 543.5h0M333.9 543.3h0"/>
<path stroke="#26ffd1" stroke-width="1.90" d="M171.9 388.7h0M165.8 387.2h0M169.6 389.1h0M177.7 390.0h0M165.6 386.3h0M181.0 390.5h0M167.0 387.2h0M179.1 390.1h0M182.4 391.5h0M170.6 388.5h0M182.4 392.6h0M178.4 388.6h0M172.5 386.8h0M350.2 347.5h0M347.0 349.0h0M355.5 348.5h0M333.0 346.5h0M149.7 397.7h0M171.1 408.3h0M176.6 409.4h0M172.9 409.0h0M166.2 405.6h0M152.3 424.2h0M230.4 427.4h0M227.1 409.7h0M228.1 418.7h0M237.3 433.0h0M229.6 419.8h0M237.9 434.0h0M236.4 431.2h0M238.1 433.5h0M235.3 431.4h0M226.7 416.2h0M234.1 432.0h0M229.1 411.1h0M226.8 417.3h0M235.5 434.9h0M394.7 355.9h0M410.4 367.4h0M395.9 360.4h0M416.0 373.5h0M416.0 372.8h0M410.2 370.8h0M407.0 367.9h0M409.7 368.8h0M412.9 369.8h0M396.9 359.0h0M465.2 460.0h0M457.0 457.8h0M472.8 463.9h0M461.3 460.3h0M469.1 462.3h0M466.8 460.8h0M469.8 463.5h0M514.6 505.9h0M521.4 507.7h0M532.9 509.6h0M532.6 513.7h0M539.9 516.3h0M548.8 518.4h0M550.2 520.6h0M552.4 521.2h0M555.2 521.0h0M555.4 523.0h0M558.0 523.8h0M561.2 524.3h0M564.8 526.1h0M565.3 527.0h0M567.4 524.5h0M566.6 525.4h0M566.9 527.1h0M570.4 526.3h0M575.9 529.2h0M592.1 532.2h0M332.6 545.0h0M347.4 541.0h0M333.6 543.4h0M333.9 544.5h0M335.0 544.1h0M342.4 542.4h0"/>
<path stroke="#2effc9" stroke-width="1.90" d="M157.8 384.9h0M165.0 386.6h0M171.5 389.3h0M159.5 384.7h0M172.5 389.3h0M167.8 387.7h0M159.5 384.7h0M349.4 347.3h0M330.2 347.4h0M338.1 345.9h0M223.4 416.1h0M233.1 428.8h0M236.3 429.8h0M229.0 416.3h0M231.8 423.0h0M232.0 425.3h0M228.5 412.8h0M228.7 419.5h0M229.8 426.4h0M226.2 409.6h0M227.1 418.1h0M235.2 429.1h0M232.7 429.3h0M226.6 415.4h0M228.0 411.1h0M238.4 433.5h0M227.8 425.9h0M237.6 434.5h0M234.5 428.2h0M230.8 422.7h0M396.2 359.5h0M411.1 370.5h0M397.4 359.8h0M396.7 356.8h0M422.2 381.8h0M395.1 360.9h0M407.1 365.2h0M398.8 360.0h0M422.6 383.5h0M458.5 459.7h0M469.3 466.0h0M461.4 455.8h0M460.3 457.3h0M462.7 460.7h0M462.7 458.7h0M470.3 466.2h0M470.4 467.5h0M471.3 462.7h0M468.6 462.8h0M467.4 463.4h0M458.9 456.2h0M465.6 461.2h0M468.0 464.9h0M472.2 464.0h0M457.8 459.5h0M465.8 464.5h0M463.9 460.9h0M460.1 459.9h0M459.0 461.3h0M457.0 459.1h0M469.3 462.8h0M457.6 456.0h0M464.1 460.7h0M470.2 465.9h0M460.7 460.8h0M469.0 467.8h0M471.4 466.4h0M457.4 463.9h0M518.8 503.0h0M521.3 504.6h0M559.1 522.9h0M561.6 524.9h0M566.9 525.8h0M568.6 526.5h0M571.1 526.5h0M571.4 527.6h0M574.5 526.2h0M576.8 529.5h0M577.2 529.3h0M580.7 529.9h0M583.3 528.8h0M585.1 530.7h0M586.6 531.9h0M595.4 532.8h0M331.1 544.3h0M335.8 542.7h0M327.9 545.8h0M337.5 541.9h0"/>
<path stroke="#37ffc0" stroke-width="1.90" d="M155.1 386.7h0M170.0 388.3h0M148.4 384.0h0M161.9 386.6h0M154.8 385.5h0M159.0 385.2h0M172.8 388.5h0M172.0 388.4h0M165.6 387.5h0M161.2 385.6h0M172.3 387.5h0M176.2 390.9h0M173.5 389.1h0M162.6 387.8h0M164.3 387.0h0M161.4 386.6h0M166.3 386.9h0M152.8 383.6h0M300.9 347.2h0M336.0 346.8h0M321.8 348.5h0M327.2 346.4h0M343.1 349.0h0M349.5 349.1h0M334.3 348.1h0M174.7 408.8h0M231.4 428.9h0M230.2 415.3h0M226.6 410.2h0M233.7 429.5h0M229.3 413.5h0M232.2 423.9h0M401.0 361.7h0M422.5 380.2h0M424.6 382.8h0M398.1 362.8h0M457.4 457.6h0M458.0 460.8h0M460.8 460.0h0M465.8 463.9h0M459.3 456.8h0M472.2 464.7h0M463.3 464.0h0M465.4 463.3h0M460.2 462.8h0M467.6 462.9h0M470.4 461.3h0M468.2 464.4h0M464.5 460.7h0M466.9 461.3h0M457.2 460.7h0M464.8 465.5h0M458.9 456.4h0M456.4 458.5h0M461.6 458.2h0M466.6 465.1h0M461.1 459.5h0M457.7 459.7h0M458.2 462.9h0M462.8 465.3h0M471.2 463.4h0M462.0 462.3h0M470.4 466.1h0M467.0 466.0h0M469.1 464.3h0M472.5 466.5h0M464.4 460.7h0M465.5 463.8h0M465.9 464.5h0M557.7 522.7h0M568.9 527.7h0M573.4 527.0h0M575.0 529.8h0M576.3 527.1h0M577.1 527.5h0M578.5 528.3h0M581.3 527.7h0M582.3 529.6h0M589.6 529.7h0M590.5 529.5h0M593.9 531.6h0M597.1 532.8h0M602.7 532.4h0M330.9 545.0h0M325.9 542.7h0M330.2 547.2h0M333.1 545.4h0M330.3 542.0h0M330.2 545.4h0M327.5 545.6h0M329.9 545.8h0"/>
<path stroke="#3fffb7" stroke-width="1.90" d="M157.6 384.4h0M154.8 384.0h0M175.6 391.2h0M163.9 388.1h0M162.0 384.6h0M161.5 388.2h0M148.6 381.8h0M164.0 385.4h0M151.6 384.3h0M157.5 387.3h0M322.4 346.1h0M335.5 349.2h0M315.2 346.2h0M349.3 348.5h0M324.1 349.2h0M227.4 411.6h0M229.0 422.1h0M230.3 419.8h0M236.6 428.3h0M459.7 458.8h0M466.0 464.1h0M461.9 464.1h0M459.2 458.3h0M467.5 461.1h0M462.3 461.8h0M458.5 460.2h0M471.7 461.5h0M465.5 466.2h0M459.2 460.9h0M457.4 458.1h0M459.1 460.0h0M460.6 462.7h0M457.2 458.8h0M455.7 459.3h0M459.1 457.4h0M458.7 463.4h0M462.3 457.7h0M469.4 465.7h0M469.8 462.6h0M466.9 462.2h0M459.5 462.4h0M460.6 461.7h0M463.3 459.2h0M469.1 464.8h0M455.7 462.2h0M459.7 455.9h0M458.7 459.3h0M463.4 461.9h0M464.2 459.0h0M471.3 464.2h0M463.4 462.6h0M471.1 464.5h0M574.0 527.3h0M578.6 528.0h0M580.0 527.8h0M580.4 530.7h0M582.6 529.8h0M583.8 531.7h0M586.1 528.6h0M588.6 530.4h0M589.3 532.3h0M590.7 530.7h0M592.5 531.8h0M597.6 532.6h0M598.6 532.7h0M603.2 534.2h0M329.8 542.9h0"/>
<path stroke="#48ffaf" stroke-width="1.90" d="M157.2 385.4h0M151.3 384.3h0M150.2 384.3h0M150.5 383.4h0M146.0 382.9h0M151.9 385.5h0M158.8 384.4h0M150.6 384.6h0M156.1 385.3h0M166.1 389.1h0M142.8 382.3h0M161.7 387.5h0M139.0 384.3h0M149.7 382.1h0M158.0 385.8h0M149.6 383.9h0M165.5 387.9h0M158.8 385.6h0M310.1 347.3h0M326.3 350.3h0M228.0 412.5h0M485.9 409.7h0M488.0 407.2h0M462.8 459.4h0M466.9 464.5h0M468.2 461.8h0M468.1 460.4h0M468.5 461.4h0M467.4 460.2h0M465.7 463.0h0M471.2 460.0h0M583.6 529.7h0M584.7 529.1h0M588.2 531.9h0M591.7 532.4h0M593.2 531.5h0M593.2 532.0h0M594.8 532.8h0M601.8 533.1h0M602.9 533.2h0M604.7 532.3h0M606.1 532.4h0M607.2 531.8h0M607.3 531.8h0M608.7 532.1h0M326.5 544.2h0M324.2 544.5h0M325.6 545.3h0M330.1 545.2h0"/>
<path stroke="#51ffa6" stroke-width="1.90" d="M129.5 381.5h0M139.6 381.7h0M157.2 384.5h0M151.7 384.8h0M150.5 383.8h0M156.5 384.4h0M152.8 385.1h0M150.2 384.4h0M126.2 380.7h0M150.0 384.0h0M144.3 382.9h0M143.0 381.9h0M148.7 385.2h0M310.1 348.2h0M300.7 351.4h0M306.6 351.3h0M335.0 346.8h0M311.1 351.1h0M454.6 428.3h0M461.5 424.7h0M482.4 410.0h0M461.9 459.7h0M464.0 459.7h0M471.9 464.4h0M457.8 458.8h0M461.8 461.2h0M585.7 531.2h0M587.6 530.7h0M598.5 531.9h0M600.0 532.2h0M600.6 531.1h0M601.6 532.5h0M602.1 533.4h0M604.6 533.1h0M606.2 532.8h0M610.3 531.8h0M614.6 599.9h0"/>
<path stroke="#59ff9e" stroke-width="1.90" d="M158.4 386.7h0M149.1 382.8h0M137.0 383.2h0M115.8 381.0h0M142.7 383.0h0M130.4 381.4h0M121.3 381.1h0M147.1 381.7h0M136.9 385.0h0M140.2 382.7h0M131.5 381.2h0M139.0 382.2h0M141.2 384.3h0M139.1 382.9h0M151.0 383.5h0M141.2 383.8h0M153.1 387.4h0M287.5 348.9h0M294.5 351.5h0M300.9 349.8h0M299.3 349.7h0M336.9 349.8h0M321.4 408.2h0M459.5 427.7h0M474.4 413.9h0M472.3 416.7h0M459.1 427.4h0M480.4 410.6h0M474.6 414.1h0M488.2 408.7h0M451.4 435.2h0M475.5 413.1h0M470.6 417.7h0M447.5 439.5h0M446.7 438.0h0M459.2 425.1h0M523.2 394.0h0M508.7 397.7h0M470.5 464.1h0M596.1 531.3h0M596.7 532.9h0M607.5 533.4h0M609.5 533.7h0M321.4 546.3h0M322.2 545.8h0M324.5 544.9h0M320.6 544.4h0M321.1 546.2h0M189.9 598.0h0"/>
<path stroke="#62ff95" stroke-width="1.90" d="M132.4 381.9h0M141.3 382.1h0M145.2 382.7h0M145.0 382.5h0M120.0 381.2h0M129.0 382.4h0M142.8 381.7h0M125.5 383.3h0M118.3 380.2h0M150.0 385.1h0M125.9 380.9h0M140.1 382.0h0M144.4 384.0h0M124.9 380.6h0M154.0 384.2h0M130.5 380.3h0M114.3 380.8h0M128.4 381.6h0M130.2 381.7h0M124.4 382.7h0M148.1 383.2h0M136.0 380.4h0M129.5 383.0h0M297.4 350.2h0M282.9 350.1h0M261.3 348.9h0M298.7 349.1h0M449.1 437.3h0M463.0 423.3h0M446.6 440.3h0M487.3 407.3h0M461.6 424.4h0M467.7 419.5h0M449.8 436.7h0M448.6 440.2h0M477.8 413.3h0M476.3 414.3h0M454.6 430.8h0M486.5 406.7h0M451.4 436.2h0M450.6 437.3h0M486.8 408.2h0M476.4 413.3h0M453.6 433.2h0M489.8 405.1h0M476.6 413.1h0M481.0 411.1h0M445.8 443.5h0M527.2 392.4h0M514.1 397.8h0M585.3 397.1h0M321.7 542.8h0M321.5 548.5h0M319.7 544.6h0M320.9 544.4h0M324.4 546.0h0M521.4 589.8h0M527.6 592.2h0M542.9 602.0h0M529.2 595.0h0M581.2 599.2h0"/>
<path stroke="#6aff8d" stroke-width="1.90" d="M125.6 380.6h0M126.0 381.9h0M132.5 382.4h0M128.6 382.8h0M140.0 381.7h0M123.9 381.1h0M142.6 383.4h0M134.7 382.7h0M119.4 377.8h0M128.9 382.1h0M123.6 379.2h0M123.6 380.2h0M114.5 378.1h0M129.0 380.4h0M136.7 382.6h0M126.8 382.0h0M131.1 383.4h0M122.1 381.5h0M123.7 379.2h0M272.2 350.2h0M269.9 352.8h0M282.1 351.2h0M290.2 349.3h0M251.5 349.2h0M287.9 351.1h0M307.4 346.3h0M270.0 353.5h0M343.1 403.9h0M335.5 404.4h0M455.4 430.2h0M470.3 417.5h0M457.4 428.4h0M467.3 418.9h0M459.2 428.4h0M446.6 440.0h0M456.3 429.0h0M478.9 411.8h0M454.5 429.0h0M463.3 422.1h0M448.4 439.3h0M479.2 410.9h0M489.8 405.8h0M452.0 432.9h0M480.5 410.5h0M486.7 408.5h0M463.2 424.8h0M453.7 432.2h0M460.1 425.4h0M490.2 406.7h0M455.5 431.6h0M461.1 424.0h0M473.5 416.7h0M485.9 409.6h0M481.1 409.8h0M468.3 418.0h0M513.9 395.8h0M504.5 401.9h0M531.1 392.2h0M512.7 397.2h0M566.2 398.3h0M591.2 394.2h0M584.5 399.4h0M612.9 397.1h0M609.0 397.4h0M608.3 397.7h0M599.4 532.2h0M320.6 545.3h0M317.6 543.1h0M315.3 544.7h0M410.8 578.9h0M397.2 577.1h0M417.1 582.1h0M414.4 581.0h0M71.8 600.0h0M98.2 601.2h0M62.7 599.9h0M128.5 598.1h0M106.7 598.8h0M61.0 600.0h0M83.0 601.3h0M114.6 596.0h0M121.3 601.0h0M127.1 598.8h0M89.4 598.7h0M189.2 598.4h0M188.2 586.7h0M192.4 599.9h0M191.6 586.3h0M613.3 601.4h0M594.6 605.1h0M567.2 601.4h0M602.3 600.2h0M582.5 599.2h0M599.1 600.2h0"/>
<path stroke="#73ff84" stroke-width="1.90" d="M138.9 382.8h0M120.6 381.6h0M131.2 382.2h0M123.9 381.4h0M139.3 383.9h0M110.5 381.3h0M127.2 382.6h0M113.9 381.3h0M117.4 383.2h0M127.6 380.0h0M126.8 382.0h0M125.8 378.8h0M115.4 379.0h0M125.8 382.6h0M122.8 384.9h0M124.9 381.8h0M125.5 382.4h0M127.4 382.8h0M133.7 383.4h0M118.8 382.3h0M138.8 383.7h0M131.1 384.8h0M134.0 382.2h0M286.7 351.0h0M274.8 352.8h0M289.4 349.9h0M317.3 411.4h0M348.2 403.9h0M350.7 405.0h0M323.4 409.1h0M326.1 407.9h0M329.9 406.1h0M347.7 403.8h0M446.7 440.9h0M444.1 443.3h0M491.8 405.2h0M474.0 415.1h0M449.0 436.4h0M464.2 422.5h0M477.2 413.4h0M444.2 443.7h0M445.6 443.6h0M456.0 428.6h0M444.5 444.4h0M491.7 406.2h0M444.2 443.5h0M480.9 410.7h0M450.4 434.7h0M447.3 439.8h0M458.4 427.4h0M463.5 422.6h0M489.1 407.1h0M460.5 423.5h0M476.0 413.2h0M454.3 434.7h0M484.4 409.8h0M461.6 423.9h0M448.8 440.2h0M517.4 392.9h0M509.4 396.0h0M502.5 401.6h0M518.0 396.6h0M528.1 393.6h0M512.2 398.0h0M500.7 400.7h0M588.5 395.4h0M586.7 396.4h0M577.3 397.6h0M600.2 394.2h0M603.3 397.6h0M599.0 393.9h0M584.3 391.5h0M605.4 394.8h0M598.7 394.4h0M569.6 397.1h0M582.6 394.9h0M579.8 393.9h0M315.1 546.7h0M320.3 546.0h0M320.3 546.9h0M321.9 545.2h0M314.1 549.4h0M404.6 578.4h0M415.8 580.3h0M416.5 581.3h0M417.5 582.3h0M393.3 576.5h0M399.5 579.0h0M97.5 597.7h0M125.4 599.1h0M79.0 599.4h0M135.3 598.3h0M105.0 599.7h0M90.7 600.7h0M64.6 599.4h0M106.8 600.2h0M190.2 591.5h0M191.6 602.4h0M192.1 596.4h0M188.8 589.5h0M193.4 605.0h0M192.2 585.6h0M192.9 598.4h0M522.6 587.2h0M527.3 594.7h0M526.4 590.3h0M544.1 601.5h0M527.2 592.5h0M525.1 589.4h0M523.0 587.9h0M590.0 597.3h0M556.4 601.3h0M568.3 609.9h0M587.9 602.5h0M581.9 600.3h0M589.3 599.7h0"/>
<path stroke="#7bff7b" stroke-width="1.90" d="M131.5 382.1h0M108.4 381.3h0M108.5 379.5h0M120.6 381.9h0M120.2 382.5h0M115.0 382.1h0M106.7 384.8h0M118.7 381.0h0M100.1 380.4h0M119.0 381.0h0M120.4 378.7h0M110.3 381.2h0M114.5 379.6h0M99.9 382.6h0M111.0 381.5h0M126.3 380.2h0M117.3 381.4h0M109.7 380.8h0M122.2 381.5h0M112.5 380.6h0M100.5 382.6h0M129.7 378.9h0M110.4 381.9h0M105.6 380.5h0M120.7 385.0h0M114.6 382.5h0M268.7 349.3h0M255.6 353.8h0M265.7 355.1h0M336.9 404.5h0M342.6 404.5h0M313.0 413.1h0M351.9 405.5h0M317.0 411.8h0M319.6 410.6h0M340.0 404.8h0M325.8 407.1h0M321.4 409.3h0M319.3 409.7h0M350.4 405.8h0M333.9 404.0h0M329.5 406.9h0M460.6 425.4h0M449.2 438.3h0M449.4 439.1h0M445.8 443.0h0M447.0 441.4h0M453.8 431.9h0M491.7 405.3h0M464.3 421.9h0M477.1 412.9h0M481.9 410.4h0M495.2 404.9h0M455.1 432.2h0M453.7 432.1h0M489.3 406.7h0M489.9 406.1h0M505.4 400.7h0M571.2 396.2h0M576.0 395.3h0M596.5 397.6h0M566.3 394.7h0M598.2 394.6h0M581.6 397.1h0M607.2 396.8h0M576.9 395.0h0M587.0 394.9h0M316.9 547.3h0M315.1 545.6h0M318.2 543.4h0M318.4 545.4h0M404.7 579.7h0M408.0 578.4h0M404.2 578.1h0M401.2 579.1h0M400.1 576.6h0M406.5 579.7h0M396.5 577.8h0M397.1 576.0h0M411.1 579.1h0M417.2 582.6h0M99.3 600.2h0M65.5 600.5h0M70.7 600.8h0M57.1 600.7h0M130.5 597.0h0M85.0 598.9h0M82.2 601.7h0M104.7 597.8h0M106.9 598.7h0M190.5 588.1h0M191.4 606.2h0M188.1 604.3h0M191.1 598.0h0M190.2 595.6h0M192.5 594.0h0M190.2 603.2h0M533.7 596.9h0M534.9 600.2h0M519.3 587.2h0M520.5 586.7h0M526.4 593.9h0M528.3 594.4h0M519.7 588.7h0M523.7 588.1h0M561.8 590.1h0M547.0 590.9h0M578.8 598.6h0M601.3 602.6h0M587.6 603.2h0M571.7 596.8h0M567.1 605.6h0M588.1 600.4h0M545.2 602.2h0M561.2 601.0h0M604.2 600.3h0M579.6 600.0h0M543.3 600.8h0M595.2 599.8h0M585.5 600.6h0"/>
<path stroke="#84ff73" stroke-width="1.90" d="M106.9 382.4h0M94.5 383.9h0M103.0 381.7h0M117.1 379.7h0M111.6 381.1h0M102.6 382.8h0M113.6 378.1h0M111.0 379.7h0M121.0 383.1h0M113.5 380.1h0M119.9 379.9h0M110.6 379.8h0M122.8 383.9h0M117.3 380.1h0M109.4 381.3h0M122.0 382.8h0M107.2 380.8h0M115.7 380.8h0M137.0 381.4h0M97.6 381.6h0M119.9 379.9h0M112.9 381.8h0M109.4 381.8h0M101.1 380.9h0M104.4 379.7h0M99.1 381.5h0M104.0 382.9h0M98.1 383.0h0M121.8 383.7h0M103.4 380.6h0M112.2 382.7h0M119.7 383.2h0M95.2 382.0h0M118.5 382.9h0M122.7 381.6h0M121.3 382.5h0M258.0 352.5h0M273.2 350.6h0M255.6 349.7h0M320.4 410.9h0M312.5 412.5h0M315.1 412.7h0M310.7 414.2h0M316.4 412.1h0M330.7 405.5h0M339.5 404.6h0M474.7 414.3h0M455.7 429.4h0M458.4 426.9h0M455.0 431.6h0M495.0 405.1h0M572.2 396.4h0M610.7 397.7h0M610.9 391.3h0M566.6 396.9h0M565.2 395.5h0M591.0 396.9h0M581.5 393.3h0M591.7 396.0h0M316.2 546.5h0M313.9 546.0h0M311.8 545.7h0M314.3 545.2h0M316.6 545.6h0M395.8 575.0h0M391.6 577.0h0M395.9 577.8h0M407.2 579.3h0M415.7 581.3h0M416.6 580.2h0M406.6 578.2h0M86.3 599.2h0M135.2 597.2h0M130.6 599.3h0M129.8 599.0h0M96.3 598.7h0M188.7 594.8h0M191.5 589.9h0M190.7 600.2h0M192.5 597.4h0M191.7 605.0h0M191.5 596.3h0M189.8 600.4h0M188.5 605.9h0M189.8 602.0h0M191.7 584.0h0M194.3 590.5h0M191.3 592.7h0M529.0 594.4h0M533.7 597.6h0M536.4 597.6h0M528.3 591.9h0M541.2 599.2h0M527.5 592.6h0M533.7 595.5h0M530.3 593.3h0M526.8 594.8h0M597.9 603.1h0M594.1 608.1h0M566.8 605.7h0M602.0 598.7h0M556.5 595.0h0M600.1 594.3h0M611.5 597.3h0M590.5 598.8h0M581.4 603.9h0M545.1 594.8h0M583.1 600.8h0M576.4 599.1h0M560.7 594.4h0M599.3 605.0h0M546.3 597.8h0M586.9 603.2h0M551.9 598.8h0M579.0 600.8h0M603.3 599.9h0M582.1 600.5h0M599.3 601.3h0"/>
<path stroke="#8dff6a" stroke-width="1.90" d="M97.7 383.4h0M115.8 380.8h0M99.8 381.2h0M110.5 382.1h0M96.3 383.6h0M112.2 383.9h0M104.0 379.3h0M97.9 379.5h0M96.8 384.2h0M107.2 383.6h0M115.8 380.3h0M118.5 380.4h0M111.6 381.5h0M105.0 384.1h0M83.5 382.4h0M82.1 383.8h0M124.8 382.3h0M103.1 382.4h0M107.0 381.4h0M111.5 383.6h0M108.8 380.4h0M118.4 381.7h0M119.0 384.0h0M96.4 382.5h0M234.8 355.1h0M260.7 350.7h0M241.4 355.7h0M328.4 406.7h0M323.6 409.1h0M597.8 391.8h0M602.8 398.8h0M607.1 395.6h0M605.8 396.1h0M310.9 546.9h0M310.1 544.6h0M313.0 546.9h0M316.5 548.1h0M309.4 545.7h0M314.7 545.1h0M313.2 546.2h0M311.2 547.2h0M391.3 573.1h0M415.4 580.4h0M388.4 575.4h0M383.1 569.5h0M390.3 575.0h0M407.8 578.4h0M391.6 575.1h0M81.0 598.8h0M129.3 596.6h0M191.0 595.1h0M192.7 602.5h0M190.5 590.5h0M189.0 593.4h0M537.1 599.6h0M559.9 600.6h0M577.7 607.1h0M582.6 603.8h0M570.7 602.5h0M551.9 593.4h0M597.4 599.9h0M584.8 599.7h0"/>
<path stroke="#95ff62" stroke-width="1.90" d="M96.7 382.7h0M123.4 381.4h0M87.3 383.1h0M93.9 382.4h0M106.0 381.9h0M88.0 385.8h0M102.4 382.5h0M106.0 383.5h0M93.3 383.5h0M94.0 381.2h0M101.2 381.7h0M103.0 383.1h0M94.3 382.5h0M83.6 385.8h0M97.5 383.4h0M103.7 382.1h0M105.2 380.5h0M74.1 385.6h0M74.7 387.6h0M73.9 386.7h0M93.8 382.9h0M96.2 381.1h0M96.2 383.6h0M99.8 384.8h0M96.5 383.1h0M92.7 383.4h0M98.3 380.8h0M94.3 381.7h0M104.1 383.0h0M95.4 384.4h0M121.0 382.0h0M92.4 385.5h0M100.8 381.7h0M127.2 384.6h0M105.1 382.0h0M108.4 384.9h0M239.9 355.2h0M251.9 354.3h0M238.0 353.2h0M247.6 355.3h0M257.8 352.7h0M237.2 355.6h0M237.0 353.8h0M611.6 396.3h0M570.6 395.1h0M313.1 548.9h0M312.4 547.3h0M313.8 545.8h0M382.7 571.9h0M382.1 573.6h0M379.0 572.0h0M388.5 573.7h0M392.3 574.9h0M413.1 580.4h0M390.5 573.5h0M405.5 579.5h0M379.0 568.3h0M396.4 578.3h0M392.8 573.8h0M380.4 572.4h0M105.7 599.6h0M190.6 593.0h0M193.6 599.8h0M542.5 602.6h0M598.6 600.4h0"/>
<path stroke="#9eff59" stroke-width="1.90" d="M83.1 385.7h0M93.6 386.5h0M87.2 384.1h0M105.2 381.6h0M87.4 384.8h0M79.0 385.1h0M85.3 386.2h0M86.9 383.4h0M81.8 386.3h0M100.4 383.1h0M92.6 385.7h0M79.6 386.0h0M81.4 384.0h0M87.3 385.4h0M83.7 386.2h0M105.3 381.1h0M90.0 384.5h0M89.5 384.0h0M58.0 389.1h0M78.8 387.0h0M100.5 382.4h0M110.6 379.5h0M94.8 385.1h0M91.3 383.7h0M111.4 379.9h0M93.2 382.4h0M113.3 382.0h0M97.0 382.9h0M60.9 389.0h0M100.6 382.3h0M94.2 385.2h0M88.0 381.6h0M78.1 385.2h0M72.0 387.2h0M72.4 387.4h0M95.4 384.5h0M114.8 381.0h0M100.0 380.7h0M101.4 383.4h0M79.7 385.4h0M115.5 383.2h0M123.5 379.6h0M98.9 385.2h0M86.7 386.6h0M89.7 382.5h0M239.9 353.2h0M234.8 358.6h0M234.4 358.4h0M232.6 355.4h0M221.6 352.8h0M211.4 363.4h0M241.7 353.3h0M241.9 350.9h0M380.6 422.6h0M378.4 426.2h0M309.7 545.9h0M314.6 546.5h0M315.7 544.7h0M307.8 545.4h0M309.4 547.6h0M380.4 574.3h0M382.0 572.2h0M390.7 574.1h0M384.5 574.9h0M378.3 566.6h0M382.5 570.5h0M381.7 571.4h0M389.0 572.1h0M378.6 568.6h0M381.0 570.9h0M367.4 565.0h0M393.9 575.7h0"/>
<path stroke="#a6ff51" stroke-width="1.90" d="M87.5 382.1h0M82.3 383.1h0M98.2 382.3h0M66.1 388.9h0M65.0 387.5h0M93.6 384.8h0M103.1 381.4h0M62.6 387.2h0M91.9 384.5h0M69.3 386.1h0M71.1 388.3h0M90.0 384.0h0M60.9 391.1h0M85.7 383.9h0M55.6 392.3h0M57.5 390.0h0M74.5 385.8h0M61.3 391.6h0M69.9 386.5h0M94.9 385.3h0M84.0 385.0h0M103.0 383.9h0M78.0 385.7h0M84.6 385.4h0M97.3 384.5h0M94.0 381.1h0M71.7 385.7h0M87.7 382.7h0M80.2 387.3h0M71.6 389.0h0M86.7 385.7h0M86.8 383.5h0M79.7 386.1h0M61.0 389.4h0M92.7 382.6h0M66.4 388.5h0M85.7 386.0h0M59.5 390.3h0M94.5 382.9h0M68.9 388.9h0M64.0 389.5h0M83.2 382.6h0M69.3 386.0h0M71.9 386.1h0M91.2 384.1h0M66.1 385.1h0M106.8 384.1h0M92.9 378.6h0M100.2 383.7h0M96.7 384.8h0M90.1 386.1h0M89.1 383.7h0M217.3 356.7h0M228.0 351.5h0M242.0 356.4h0M214.3 362.4h0M217.3 360.6h0M196.5 390.0h0M269.2 382.5h0M267.1 375.2h0M265.8 376.7h0M269.4 375.0h0M267.5 378.7h0M264.3 381.0h0M262.7 380.1h0M268.2 374.4h0M378.3 425.4h0M379.1 424.5h0M377.5 425.0h0M379.2 423.6h0M386.4 421.0h0M310.9 546.2h0M310.2 546.0h0M377.8 568.4h0M363.6 562.3h0M379.5 570.1h0M369.0 564.1h0M384.9 571.6h0M359.3 553.6h0M372.8 564.2h0M375.3 567.8h0M374.2 567.1h0M370.5 563.7h0M375.4 565.2h0M384.0 570.7h0M380.3 569.0h0M384.3 574.6h0M365.3 560.6h0M376.4 566.9h0M376.0 568.9h0M374.2 567.4h0M381.1 569.4h0M378.1 569.1h0M394.1 572.9h0M360.1 555.4h0M369.6 566.1h0M353.9 553.6h0M382.6 572.2h0M363.0 560.0h0M189.4 602.3h0"/>
<path stroke="#afff48" stroke-width="1.90" d="M68.7 387.6h0M63.5 390.4h0M56.9 393.6h0M84.7 384.4h0M69.8 388.4h0M69.7 387.6h0M71.0 387.2h0M84.1 384.8h0M64.1 386.8h0M80.1 385.8h0M64.2 389.9h0M77.4 386.9h0M83.7 387.6h0M74.2 386.1h0M81.8 386.0h0M79.4 386.7h0M58.9 390.4h0M58.2 391.3h0M90.2 383.5h0M57.5 392.6h0M57.9 391.0h0M61.0 389.2h0M56.8 391.8h0M58.9 389.0h0M87.3 384.2h0M73.8 384.8h0M61.2 389.9h0M68.6 388.2h0M92.4 383.8h0M60.1 391.4h0M74.8 389.7h0M76.2 378.7h0M102.9 387.1h0M76.0 386.1h0M67.3 383.4h0M78.0 384.5h0M83.4 385.1h0M207.3 356.2h0M206.0 362.4h0M226.4 351.3h0M230.4 353.0h0M208.2 364.8h0M197.0 359.7h0M213.4 354.9h0M218.3 358.8h0M185.3 436.2h0M193.4 384.4h0M201.6 373.0h0M195.1 365.6h0M205.6 373.3h0M196.5 374.7h0M266.6 381.9h0M266.7 377.3h0M266.5 387.1h0M267.5 381.5h0M385.4 423.9h0M379.3 425.2h0M376.7 424.2h0M375.9 426.6h0M379.0 424.8h0M379.4 425.7h0M381.4 423.4h0M374.7 425.4h0M382.3 424.7h0M394.3 418.6h0M389.1 416.6h0M381.1 422.7h0M376.7 424.6h0M381.8 419.9h0M392.8 424.3h0M377.6 424.6h0M385.2 425.8h0M380.8 425.6h0M387.6 419.7h0M377.5 427.0h0M608.4 434.9h0M309.3 547.8h0M303.8 546.8h0M305.0 544.3h0M305.4 547.0h0M371.6 564.8h0M377.1 569.1h0M378.6 568.4h0M368.1 563.0h0M369.8 562.1h0M353.4 552.6h0M372.4 569.5h0M368.5 563.1h0M379.8 570.6h0M354.8 554.5h0M365.8 563.2h0M362.2 558.3h0M367.5 558.8h0M361.0 561.7h0M367.2 562.6h0M375.6 567.7h0M388.4 573.4h0M376.4 567.3h0"/>
<path stroke="#b7ff3f" stroke-width="1.90" d="M65.3 387.4h0M65.3 388.2h0M56.4 388.5h0M63.0 390.5h0M84.6 383.7h0M71.3 387.4h0M68.7 388.8h0M70.8 386.8h0M68.4 388.8h0M90.1 383.3h0M60.3 389.6h0M66.2 390.2h0M75.6 387.1h0M72.7 390.3h0M68.5 389.2h0M67.9 390.3h0M55.9 391.2h0M58.7 390.1h0M78.0 386.8h0M67.6 388.7h0M68.1 388.2h0M64.0 390.5h0M61.4 390.5h0M67.3 388.4h0M69.0 387.8h0M62.6 392.0h0M70.7 386.9h0M77.3 385.7h0M87.1 384.1h0M73.4 387.6h0M57.8 391.2h0M58.9 389.5h0M68.1 388.6h0M61.8 389.8h0M56.4 389.5h0M57.8 389.4h0M67.9 390.7h0M77.7 385.5h0M55.4 389.2h0M87.6 382.3h0M70.0 388.0h0M79.5 387.4h0M59.5 393.3h0M71.7 384.6h0M59.4 390.2h0M70.2 386.8h0M85.4 384.2h0M60.1 390.0h0M66.6 390.0h0M76.0 388.9h0M69.8 387.0h0M84.1 386.1h0M65.0 388.9h0M71.1 386.0h0M74.7 386.7h0M209.8 363.0h0M215.6 353.9h0M210.3 358.6h0M212.6 362.1h0M207.6 360.8h0M218.4 355.5h0M204.5 365.6h0M208.2 359.9h0M215.9 355.1h0M207.7 363.8h0M213.7 358.8h0M194.6 364.1h0M195.0 362.5h0M203.8 362.3h0M195.7 387.7h0M200.7 366.8h0M200.3 370.3h0M207.2 367.4h0M185.0 418.9h0M199.6 372.5h0M184.7 406.8h0M206.4 368.4h0M207.6 368.3h0M185.0 440.5h0M187.8 402.0h0M196.3 389.2h0M185.1 431.7h0M203.0 368.4h0M204.4 376.2h0M265.8 381.1h0M269.8 379.1h0M265.8 382.1h0M266.6 389.1h0M269.2 386.1h0M267.5 385.3h0M269.4 380.6h0M265.8 388.7h0M381.3 420.3h0M381.5 421.9h0M375.1 424.0h0M377.3 424.3h0M382.4 418.6h0M381.9 421.7h0M390.7 421.0h0M388.1 417.2h0M379.1 422.4h0M381.6 423.7h0M379.3 424.6h0M393.9 417.6h0M387.2 419.0h0M375.2 425.4h0M389.7 419.8h0M375.1 424.4h0M375.3 425.2h0M380.7 419.8h0M388.5 419.9h0M378.1 425.2h0M390.0 415.6h0M377.5 424.6h0M381.2 418.3h0M381.4 420.6h0M383.2 423.4h0M375.3 424.2h0M379.9 422.2h0M383.4 420.1h0M391.5 421.2h0M375.3 427.5h0M381.7 420.5h0M385.5 423.9h0M389.1 419.0h0M385.3 415.5h0M380.8 420.5h0M384.1 422.6h0M383.4 422.4h0M302.5 543.0h0M308.5 546.1h0M303.4 545.0h0M306.6 544.7h0M371.9 564.9h0M382.6 572.1h0M365.3 566.8h0M360.7 556.9h0M370.1 564.4h0M359.8 555.8h0M380.2 569.3h0M364.9 561.4h0M366.1 558.9h0M382.1 572.7h0M361.8 556.0h0M365.0 560.5h0M383.8 570.4h0M370.4 561.5h0M366.9 560.6h0M383.3 569.2h0M374.6 566.2h0M366.9 565.3h0M359.2 557.3h0M365.2 561.2h0M361.9 563.9h0"/>
<path stroke="#c0ff37" stroke-width="1.90" d="M58.9 390.1h0M79.6 387.2h0M57.3 390.0h0M62.7 389.6h0M65.0 391.6h0M69.4 388.7h0M75.0 387.8h0M67.2 386.4h0M67.6 388.1h0M57.1 391.2h0M65.4 389.8h0M72.9 387.5h0M76.9 386.6h0M62.9 391.0h0M61.3 390.6h0M64.4 387.2h0M68.6 389.3h0M66.0 389.0h0M75.0 384.1h0M55.6 391.6h0M59.3 388.5h0M56.5 389.7h0M73.1 387.8h0M63.4 389.8h0M59.8 389.2h0M88.9 382.9h0M58.0 389.7h0M56.1 390.9h0M64.5 389.0h0M57.4 390.5h0M55.9 390.4h0M56.8 389.0h0M58.4 389.5h0M71.0 385.4h0M69.6 388.6h0M75.3 383.4h0M79.3 383.0h0M74.9 389.4h0M75.6 386.2h0M75.6 386.0h0M209.5 361.1h0M212.4 360.0h0M203.5 358.6h0M208.2 362.4h0M210.1 361.9h0M196.1 368.3h0M210.3 354.9h0M202.3 363.5h0M213.2 355.2h0M185.9 431.9h0M189.2 398.7h0M193.1 392.8h0M201.3 371.5h0M188.0 401.5h0M190.8 386.5h0M195.9 364.5h0M184.9 423.6h0M184.7 426.1h0M204.4 367.2h0M201.7 379.6h0M196.2 377.8h0M184.1 428.3h0M194.9 365.0h0M186.0 409.3h0M203.9 366.6h0M268.5 382.5h0M267.1 386.2h0M269.8 384.5h0M263.9 392.8h0M269.4 385.5h0M269.7 386.0h0M267.7 379.4h0M267.0 388.2h0M267.4 380.0h0M270.8 381.1h0M269.8 384.8h0M266.5 384.8h0M395.6 413.5h0M377.4 424.1h0M382.5 421.8h0M381.1 427.5h0M383.1 420.7h0M375.2 424.6h0M384.3 418.4h0M377.8 423.6h0M380.3 424.4h0M386.0 425.3h0M382.4 421.0h0M381.6 421.6h0M390.8 419.1h0M379.4 426.1h0M380.1 422.2h0M378.3 422.1h0M380.5 423.9h0M392.9 419.2h0M378.7 422.7h0M379.4 422.5h0M379.7 421.1h0M375.5 423.6h0M380.5 423.4h0M375.3 418.8h0M386.1 420.9h0M388.8 419.3h0M390.2 421.0h0M392.1 420.0h0M378.3 423.1h0M398.5 418.0h0M394.5 417.2h0M393.8 422.9h0M389.8 422.2h0M381.1 422.5h0M393.8 415.1h0M386.1 419.1h0M405.1 418.6h0M382.4 421.6h0M377.4 425.9h0M381.2 424.3h0M393.6 420.7h0M393.6 420.3h0M382.9 421.3h0M387.8 421.6h0M385.0 421.3h0M384.6 425.8h0M375.4 425.1h0M382.2 421.6h0M398.5 414.2h0M388.9 419.1h0M398.8 415.2h0M374.9 424.9h0M384.6 419.9h0M384.6 421.1h0M392.0 415.5h0M386.8 418.6h0M392.7 422.2h0M392.4 418.0h0M385.4 417.3h0M395.5 417.3h0M376.8 428.0h0M385.7 425.3h0M396.9 417.3h0M390.9 420.9h0M386.3 419.4h0M387.3 419.2h0M381.9 419.8h0M387.4 422.9h0M391.0 416.1h0M390.2 415.8h0M384.5 420.8h0M383.3 422.3h0M387.7 420.4h0M383.2 418.6h0M380.3 424.6h0M380.3 423.7h0M392.6 416.6h0M390.9 421.2h0M384.0 417.0h0M382.3 425.3h0M376.3 425.8h0M383.5 428.8h0M387.6 424.1h0M380.6 421.6h0M392.2 419.8h0M382.8 423.8h0M392.7 421.3h0M611.9 438.4h0M307.6 547.5h0M302.6 545.5h0M304.2 542.0h0M303.7 546.6h0M304.7 547.0h0M372.3 565.3h0M355.5 552.5h0M360.0 556.8h0M372.2 566.5h0M367.7 561.0h0M361.6 557.4h0M356.5 554.2h0M366.0 559.8h0M364.6 560.5h0M362.5 559.8h0M366.9 560.3h0"/>
<path stroke="#c9ff2e" stroke-width="1.90" d="M60.7 390.2h0M73.3 385.9h0M56.4 390.5h0M64.2 388.0h0M63.9 389.8h0M80.5 384.6h0M63.4 390.8h0M60.6 388.7h0M79.7 384.4h0M73.0 387.1h0M59.7 389.6h0M56.0 392.5h0M63.2 388.8h0M58.3 392.4h0M61.3 389.7h0M66.9 387.4h0M75.5 385.8h0M74.3 385.7h0M55.4 390.1h0M80.2 380.9h0M205.8 361.4h0M194.4 362.1h0M202.9 362.4h0M203.7 362.0h0M185.0 422.6h0M185.1 421.2h0M185.3 406.9h0M185.6 420.0h0M198.6 384.4h0M190.1 390.0h0M204.4 376.3h0M202.9 373.3h0M194.7 391.6h0M199.9 378.5h0M198.2 379.7h0M184.4 421.6h0M200.0 367.3h0M204.9 366.7h0M192.9 394.2h0M185.1 407.3h0M185.0 416.5h0M193.5 393.7h0M194.2 386.4h0M193.1 392.4h0M190.7 388.0h0M195.8 381.5h0M198.8 380.8h0M199.0 384.7h0M185.8 423.7h0M185.9 413.3h0M185.0 416.2h0M197.4 377.6h0M268.7 395.7h0M267.7 386.9h0M270.7 388.0h0M269.1 390.4h0M266.2 397.2h0M271.6 385.3h0M267.3 386.9h0M269.7 386.2h0M267.3 383.2h0M266.9 380.8h0M266.0 392.1h0M448.3 432.2h0M377.5 425.0h0M392.2 421.5h0M394.5 418.7h0M401.3 420.9h0M391.5 424.2h0M389.7 420.3h0M391.3 421.1h0M393.3 415.1h0M400.6 415.9h0M401.9 425.1h0M394.0 420.9h0M392.7 419.1h0M390.8 419.6h0M394.1 421.3h0M394.4 419.4h0M375.4 422.3h0M395.9 416.9h0M393.7 414.9h0M377.0 424.0h0M392.4 418.3h0M379.3 423.9h0M377.9 423.0h0M398.2 418.0h0M386.4 417.7h0M376.2 422.8h0M386.8 425.0h0M377.5 424.2h0M379.9 423.9h0M395.3 416.6h0M377.7 424.6h0M385.6 419.1h0M379.0 422.6h0M395.5 415.2h0M388.7 419.8h0M408.3 417.5h0M401.2 422.1h0M386.1 416.6h0M384.2 420.1h0M397.8 420.4h0M392.9 419.2h0M404.5 418.2h0M387.9 421.9h0M385.4 424.5h0M384.8 419.8h0M392.0 422.0h0M376.7 425.0h0M401.4 421.1h0M382.9 421.9h0M377.1 422.2h0M390.3 419.2h0M391.3 418.5h0M390.1 418.5h0M393.9 420.4h0M382.9 420.3h0M386.7 422.8h0M385.0 420.3h0M383.6 422.3h0M384.4 425.2h0M389.9 421.7h0M386.3 414.7h0M391.9 424.9h0M380.8 425.0h0M394.3 419.7h0M393.3 420.8h0M391.7 413.2h0M376.2 424.0h0M387.4 426.2h0M394.5 413.5h0M389.0 419.6h0M385.4 421.6h0M400.0 415.6h0M409.0 420.9h0M403.7 416.2h0M399.0 422.9h0M384.6 419.9h0M377.2 425.8h0M403.8 414.1h0M396.1 419.8h0M396.7 416.9h0M607.6 434.1h0M610.7 436.7h0M305.1 545.1h0M301.8 544.8h0M363.6 562.9h0M359.6 553.3h0M359.7 555.2h0M357.0 555.5h0M372.3 564.4h0"/>
<path stroke="#d1ff26" stroke-width="1.90" d="M60.4 390.6h0M77.4 386.0h0M58.9 391.6h0M70.9 387.9h0M60.6 388.0h0M68.8 389.8h0M56.2 391.8h0M57.0 389.6h0M207.3 361.7h0M203.0 363.5h0M215.1 353.0h0M186.5 408.2h0M184.2 411.7h0M198.7 387.0h0M202.6 371.5h0M206.9 371.2h0M202.8 363.9h0M192.2 392.2h0M191.5 388.6h0M195.1 387.1h0M185.3 442.7h0M194.0 382.9h0M187.3 396.6h0M186.0 445.5h0M185.1 419.5h0M186.5 410.8h0M185.4 399.7h0M185.3 443.8h0M186.4 421.3h0M185.5 395.0h0M185.1 410.6h0M189.0 393.2h0M184.6 439.8h0M186.2 413.3h0M272.7 398.1h0M269.9 390.4h0M268.6 391.9h0M268.5 400.1h0M267.7 386.4h0M268.3 383.8h0M266.6 389.4h0M264.9 389.7h0M267.5 394.4h0M264.7 392.6h0M443.6 439.4h0M446.5 437.2h0M440.9 438.7h0M443.2 437.7h0M445.3 436.8h0M448.7 426.1h0M438.1 436.9h0M442.9 432.1h0M442.5 440.5h0M441.0 438.4h0M385.2 420.9h0M397.6 418.4h0M396.4 421.3h0M388.6 419.0h0M402.4 430.1h0M398.2 417.1h0M407.0 414.2h0M392.9 414.5h0M390.3 420.3h0M390.7 423.0h0M377.1 425.4h0M395.9 414.9h0M393.9 413.2h0M386.6 417.8h0M393.4 415.7h0M403.1 417.1h0M402.5 414.2h0M399.2 418.5h0M388.0 419.6h0M393.9 425.7h0M400.9 411.3h0M389.7 421.2h0M400.7 422.6h0M396.1 423.2h0M403.9 419.0h0M390.2 425.6h0M400.1 414.5h0M381.7 423.0h0M392.4 414.8h0M395.2 419.4h0M400.7 416.8h0M396.8 418.4h0M393.3 420.5h0M380.0 423.2h0M392.5 418.4h0M416.5 421.3h0M389.0 421.9h0M397.2 423.9h0M392.4 421.4h0M397.2 422.9h0M404.1 419.7h0M392.1 407.5h0M404.2 419.2h0M398.1 416.1h0M392.6 419.2h0M406.3 417.9h0M393.8 415.8h0M400.0 418.8h0M395.0 417.9h0M384.3 422.7h0M394.8 416.4h0M396.3 419.4h0M410.2 418.8h0M399.1 417.7h0M399.3 419.8h0M399.3 415.5h0M398.8 416.6h0M409.8 412.6h0M385.5 419.0h0M376.6 427.4h0M384.2 422.4h0M390.5 423.3h0M408.9 418.2h0M399.5 418.6h0M380.8 421.1h0M396.9 418.3h0M392.0 416.0h0M384.2 420.6h0M394.3 416.7h0M376.6 425.6h0M395.1 416.3h0M389.7 419.1h0M390.6 415.1h0M395.2 419.0h0M402.9 418.7h0M386.3 418.3h0M392.0 419.2h0M412.6 420.5h0M389.9 418.9h0M398.9 418.8h0M398.5 421.7h0M395.8 418.5h0M608.1 436.1h0M611.3 435.3h0M299.6 544.4h0"/>
<path stroke="#daff1d" stroke-width="1.90" d="M208.8 362.4h0M221.9 360.3h0M186.0 413.0h0M186.2 418.9h0M184.5 439.2h0M184.8 410.6h0M185.8 425.5h0M200.3 371.9h0M190.9 395.3h0M185.5 430.2h0M191.4 390.6h0M184.7 408.3h0M195.1 384.5h0M187.5 399.7h0M184.4 421.6h0M185.2 432.3h0M184.3 424.7h0M184.8 403.2h0M271.4 406.3h0M268.7 393.9h0M270.0 394.3h0M270.7 399.0h0M266.7 394.2h0M268.2 398.6h0M265.5 395.2h0M445.6 433.4h0M444.8 432.4h0M444.8 436.5h0M448.3 427.7h0M440.3 434.2h0M450.0 429.4h0M442.5 433.8h0M441.1 439.4h0M447.3 426.6h0M444.9 432.5h0M438.8 438.3h0M446.2 430.9h0M444.3 433.6h0M441.7 439.8h0M408.9 416.9h0M402.2 417.5h0M413.2 423.7h0M402.6 416.7h0M395.5 416.0h0M411.0 422.3h0M400.3 421.4h0M393.9 417.8h0M394.4 421.6h0M391.6 420.1h0M401.2 414.1h0M408.8 419.3h0M408.1 420.3h0M407.1 417.0h0M376.4 424.1h0M399.9 417.0h0M403.2 412.8h0M384.4 419.0h0M387.7 423.3h0M401.1 424.7h0M403.9 415.8h0M400.2 416.6h0M396.0 419.0h0M395.4 415.7h0M405.0 416.9h0M393.5 416.7h0M393.0 420.1h0M403.0 420.0h0M380.8 420.8h0M396.8 416.3h0M395.6 418.6h0M405.1 420.7h0M399.9 420.6h0M399.4 421.9h0M406.4 415.6h0M395.1 419.2h0M411.5 416.8h0M395.6 415.6h0M391.7 416.0h0M409.5 417.8h0M401.5 420.2h0M409.8 419.6h0M403.6 420.1h0M377.1 423.5h0M396.1 419.6h0M394.0 414.9h0M400.8 418.3h0M397.7 416.4h0M405.1 420.7h0M413.1 417.9h0M390.3 422.2h0M384.7 423.3h0M408.7 417.2h0M411.7 416.8h0M399.5 416.9h0M386.1 421.6h0M401.6 420.6h0M409.9 418.8h0M389.6 418.5h0M404.0 419.0h0M409.1 417.5h0M402.4 416.1h0M401.0 417.2h0M412.9 421.3h0M405.7 417.7h0M388.6 415.8h0M409.4 413.5h0M390.7 416.6h0M410.8 421.2h0M391.9 413.9h0M401.7 416.4h0M411.2 419.9h0M395.9 417.6h0M391.2 421.6h0M391.6 417.1h0M387.4 417.7h0M405.4 412.8h0M384.4 422.0h0M398.6 415.9h0M412.8 419.3h0M407.7 416.4h0M388.7 419.6h0M410.9 419.3h0M395.8 412.1h0M394.6 415.5h0M399.5 416.9h0M407.2 414.8h0M397.1 416.8h0M392.3 419.9h0M609.5 436.0h0M609.7 436.4h0M607.3 433.7h0M606.4 433.0h0M300.6 547.3h0M303.3 545.2h0M356.7 554.4h0"/>
<path stroke="#e2ff15" stroke-width="1.90" d="M204.4 375.8h0M190.1 397.9h0M188.1 397.9h0M188.3 391.0h0M269.2 394.9h0M264.9 402.8h0M273.9 401.6h0M270.0 393.2h0M274.4 395.8h0M269.8 398.0h0M270.1 392.2h0M267.3 393.6h0M271.3 394.4h0M267.3 393.5h0M270.5 400.7h0M270.3 391.0h0M449.1 430.5h0M448.3 432.7h0M459.5 416.8h0M467.7 411.9h0M456.7 428.5h0M450.6 425.1h0M459.6 420.0h0M450.2 426.0h0M446.6 436.3h0M449.3 433.2h0M441.3 437.9h0M443.8 434.5h0M461.9 417.8h0M455.1 423.1h0M441.6 435.8h0M443.8 432.9h0M462.4 414.9h0M458.5 419.4h0M456.9 427.1h0M443.0 434.6h0M396.1 413.8h0M402.8 420.2h0M400.2 415.9h0M403.6 422.1h0M391.6 417.2h0M413.4 419.4h0M398.6 415.6h0M410.0 419.7h0M384.2 422.3h0M412.0 419.5h0M411.9 416.8h0M412.1 416.6h0M401.9 422.3h0M399.1 419.3h0M415.6 416.1h0M411.9 415.8h0M403.4 418.8h0M414.4 416.7h0M395.6 419.0h0M407.0 412.5h0M408.5 416.1h0M405.2 414.0h0M402.7 414.8h0M409.4 416.1h0M410.8 413.6h0M396.0 418.2h0M402.4 417.5h0M409.5 419.5h0M418.4 424.7h0M397.7 414.7h0M397.1 425.3h0M409.3 423.8h0M407.1 412.4h0M405.7 424.1h0M401.6 418.9h0M405.3 414.0h0M402.6 416.4h0M413.5 419.3h0M407.6 415.1h0M416.4 423.1h0M396.4 416.4h0M407.3 419.1h0M403.7 417.7h0M396.4 414.7h0M401.3 416.2h0M401.5 416.5h0M407.4 422.1h0M408.4 415.6h0M406.7 418.8h0M408.7 419.2h0M410.4 414.9h0M396.8 413.5h0M393.1 415.2h0M401.5 412.9h0M409.4 420.6h0M398.7 419.1h0M405.4 417.1h0M404.1 417.6h0M399.0 419.3h0M409.7 420.0h0M408.6 418.9h0M402.8 417.9h0M410.2 414.4h0M397.8 419.0h0M416.1 423.0h0M384.8 420.2h0M403.4 419.3h0M406.9 416.1h0M419.8 416.5h0M402.6 420.0h0M393.1 422.7h0M410.4 421.5h0M406.6 417.2h0M407.6 415.6h0M377.5 423.5h0M412.4 422.5h0M551.4 439.1h0M536.6 456.2h0M550.7 440.6h0M558.2 432.0h0M607.9 435.2h0M608.1 434.0h0M301.0 544.2h0M300.4 546.9h0"/>
<path stroke="#ebff0c" stroke-width="1.90" d="M184.4 405.7h0M268.6 398.0h0M267.5 389.8h0M264.2 398.1h0M270.6 402.7h0M274.8 397.3h0M269.3 400.0h0M270.3 399.1h0M270.3 403.3h0M269.4 398.2h0M448.0 435.6h0M457.9 421.4h0M449.1 427.5h0M453.5 427.8h0M471.6 413.0h0M448.7 431.6h0M446.7 428.7h0M444.0 435.8h0M443.8 431.1h0M453.2 431.3h0M445.9 430.0h0M440.2 436.4h0M449.7 433.3h0M446.8 429.1h0M450.3 424.4h0M458.7 421.9h0M445.0 431.3h0M464.9 418.2h0M454.2 424.4h0M457.2 425.1h0M458.4 425.0h0M443.8 435.8h0M443.9 428.3h0M451.8 428.0h0M455.8 424.2h0M463.6 414.8h0M457.3 424.3h0M460.9 420.0h0M460.3 418.1h0M456.8 422.9h0M443.5 437.3h0M454.8 421.1h0M458.3 426.1h0M451.2 428.8h0M452.4 426.2h0M457.0 423.1h0M468.5 409.8h0M449.8 430.8h0M446.4 436.8h0M458.9 419.4h0M460.3 419.3h0M453.9 425.0h0M445.5 431.0h0M448.6 432.9h0M456.2 426.1h0M455.8 422.1h0M459.7 422.4h0M407.0 416.1h0M399.8 417.2h0M417.9 428.0h0M418.1 418.8h0M407.8 419.8h0M408.4 417.6h0M419.1 416.3h0M396.9 422.2h0M408.6 415.9h0M413.2 419.3h0M396.7 414.9h0M403.0 420.3h0M408.1 415.7h0M406.9 418.1h0M411.3 416.0h0M399.0 418.6h0M399.4 414.0h0M410.4 420.6h0M423.2 425.9h0M410.4 422.2h0M401.4 418.9h0M415.0 419.9h0M387.0 418.8h0M411.3 419.1h0M414.7 418.2h0M397.0 418.0h0M406.5 418.5h0M409.3 419.9h0M401.9 414.8h0M414.7 418.5h0M399.9 418.8h0M411.7 418.7h0M408.5 414.4h0M407.7 422.5h0M413.8 423.4h0M401.1 410.3h0M417.4 418.9h0M401.3 417.8h0M409.0 413.3h0M414.2 412.3h0M412.1 420.1h0M413.2 416.0h0M412.1 419.0h0M409.9 415.9h0M414.2 421.9h0M419.4 422.5h0M399.6 414.2h0M394.6 415.2h0M416.5 421.4h0M409.4 426.9h0M408.3 418.2h0M412.2 421.4h0M407.4 416.8h0M401.0 427.7h0M422.4 424.8h0M412.2 418.8h0M400.9 418.2h0M404.1 418.6h0M413.9 425.3h0M414.4 415.7h0M411.6 423.6h0M408.2 413.1h0M415.4 418.9h0M403.1 419.0h0M413.3 418.4h0M406.9 424.7h0M411.6 427.9h0M408.6 418.3h0M405.8 412.3h0M408.8 414.9h0M403.1 415.9h0M411.9 415.5h0M409.1 420.7h0M405.1 423.7h0M400.0 420.9h0M540.2 451.8h0M556.2 433.0h0M555.0 431.7h0M556.4 433.4h0M557.9 430.5h0M556.0 435.2h0M554.4 434.3h0M537.0 454.2h0M557.1 431.6h0M558.5 433.4h0M554.1 435.5h0M602.4 398.2h0M614.6 392.5h0M612.8 392.8h0M588.5 405.8h0M581.7 407.8h0M611.6 392.7h0M298.8 547.3h0M301.1 545.6h0M298.4 545.8h0M300.9 549.5h0M299.5 545.9h0"/>
<path stroke="#f3f903" stroke-width="1.90" d="M269.3 400.4h0M270.0 411.7h0M273.6 404.3h0M270.4 399.7h0M268.4 406.9h0M473.7 408.4h0M442.3 437.3h0M472.1 407.9h0M454.7 425.0h0M459.6 422.6h0M451.3 428.8h0M445.3 434.5h0M466.1 416.4h0M465.8 414.1h0M460.1 420.9h0M446.9 430.2h0M480.0 407.5h0M470.0 413.4h0M452.6 422.1h0M456.8 426.6h0M461.8 418.4h0M470.6 411.4h0M464.5 415.5h0M450.4 428.4h0M466.6 413.7h0M473.9 409.2h0M441.0 438.4h0M442.5 430.4h0M449.3 427.8h0M454.6 418.5h0M454.4 424.1h0M445.5 431.7h0M468.5 409.6h0M449.5 426.8h0M445.6 427.7h0M456.1 426.2h0M453.1 425.2h0M463.9 412.0h0M444.5 433.3h0M451.3 429.4h0M454.7 424.4h0M473.7 406.2h0M455.8 423.3h0M468.7 410.9h0M453.7 428.1h0M451.4 425.7h0M448.9 425.3h0M460.3 418.5h0M464.7 415.9h0M452.8 425.5h0M449.3 428.4h0M455.4 418.9h0M462.1 421.7h0M451.5 422.6h0M462.1 416.4h0M439.0 438.3h0M473.3 408.8h0M414.6 421.0h0M416.9 419.7h0M410.2 414.9h0M415.6 419.6h0M409.1 414.9h0M415.1 419.6h0M406.7 422.6h0M414.5 418.9h0M419.8 419.7h0M399.7 420.4h0M417.0 422.2h0M416.2 420.9h0M415.3 424.6h0M416.9 425.2h0M415.1 416.3h0M408.1 416.8h0M402.5 418.5h0M407.0 420.9h0M415.0 423.2h0M415.6 411.3h0M416.1 421.9h0M414.6 427.4h0M420.9 418.2h0M423.3 428.7h0M409.1 421.6h0M402.5 412.0h0M411.2 416.0h0M423.7 426.6h0M415.9 423.7h0M416.8 423.3h0M408.3 420.9h0M403.9 417.7h0M417.8 419.1h0M426.8 428.2h0M403.2 422.6h0M416.1 427.3h0M413.1 424.3h0M417.2 418.1h0M418.4 422.9h0M410.8 423.2h0M406.8 419.0h0M418.8 420.0h0M412.2 423.0h0M416.2 423.5h0M406.9 422.2h0M414.9 419.2h0M409.1 421.8h0M419.1 423.1h0M418.4 420.2h0M391.7 420.3h0M417.7 420.6h0M406.1 416.0h0M421.6 422.4h0M412.4 424.9h0M554.2 435.5h0M546.8 445.2h0M536.4 455.8h0M543.6 448.6h0M538.4 452.8h0M556.4 434.1h0M558.9 431.3h0M543.8 446.9h0M536.1 455.1h0M541.9 447.8h0M554.2 436.9h0M553.7 436.7h0M553.8 432.2h0M553.2 437.8h0M545.4 447.2h0M556.5 435.8h0M554.8 434.8h0M538.8 453.6h0M573.7 414.4h0M582.6 408.2h0M595.0 403.1h0M580.5 409.9h0M587.4 404.4h0M578.7 412.1h0M572.8 414.8h0M578.8 412.3h0M601.8 396.3h0M581.5 408.6h0M581.6 411.1h0M588.8 405.2h0M589.0 406.4h0M602.4 396.1h0M604.5 394.5h0M601.0 397.6h0M583.1 405.9h0M581.5 407.3h0M567.6 421.6h0M613.1 392.3h0M575.6 409.7h0M580.6 409.2h0M601.6 396.3h0M299.0 546.8h0M295.6 545.1h0M298.6 546.2h0"/>
<path stroke="#fcf000" stroke-width="1.90" d="M268.1 398.6h0M269.1 401.0h0M447.8 423.2h0M468.8 415.1h0M469.3 410.7h0M462.4 413.5h0M461.9 419.6h0M456.9 422.7h0M460.4 425.4h0M451.9 428.0h0M460.3 418.5h0M455.5 421.7h0M461.9 419.7h0M462.2 414.9h0M458.3 421.0h0M471.3 409.6h0M462.4 418.1h0M478.3 407.5h0M460.1 418.4h0M451.7 429.9h0M456.7 422.6h0M460.0 420.8h0M469.7 414.5h0M462.1 417.9h0M463.0 417.0h0M468.4 411.0h0M455.3 426.1h0M471.4 407.1h0M455.0 422.1h0M454.9 426.0h0M458.1 424.7h0M461.4 420.3h0M460.7 421.2h0M467.8 413.9h0M467.7 413.5h0M449.5 421.2h0M463.1 418.3h0M457.4 422.4h0M453.1 422.6h0M443.1 434.5h0M456.1 418.1h0M443.6 437.9h0M457.6 424.7h0M465.0 412.6h0M452.7 425.2h0M462.0 417.7h0M455.8 424.2h0M452.1 428.3h0M417.5 418.5h0M421.1 425.2h0M420.2 417.4h0M415.9 424.1h0M417.0 421.6h0M415.1 422.3h0M415.2 421.2h0M418.6 425.6h0M418.5 426.4h0M420.6 428.3h0M418.2 428.0h0M403.8 416.4h0M416.6 420.7h0M418.5 425.2h0M414.3 425.0h0M415.7 420.3h0M419.0 422.0h0M391.9 423.3h0M419.4 420.9h0M420.8 421.8h0M414.0 419.5h0M409.8 416.4h0M411.5 422.2h0M411.8 420.0h0M405.0 410.9h0M422.1 427.6h0M414.6 423.7h0M421.9 425.0h0M422.1 425.0h0M415.8 422.5h0M417.3 418.8h0M415.2 425.1h0M416.4 419.0h0M416.7 420.9h0M414.8 421.3h0M412.3 418.9h0M428.0 432.0h0M410.4 423.3h0M421.4 420.4h0M418.2 421.9h0M410.8 417.9h0M412.8 421.7h0M428.1 428.6h0M423.0 427.1h0M413.3 415.4h0M417.9 426.2h0M410.9 419.3h0M414.5 419.1h0M408.7 417.3h0M416.7 427.3h0M423.3 431.7h0M412.0 415.7h0M550.9 442.1h0M551.8 438.1h0M553.7 439.1h0M556.5 435.8h0M539.8 451.8h0M541.4 451.2h0M536.6 455.6h0M547.2 444.8h0M557.5 434.7h0M541.8 450.3h0M550.2 440.7h0M537.3 455.9h0M552.7 438.0h0M545.8 446.2h0M554.4 437.5h0M544.2 447.4h0M573.4 416.3h0M582.0 406.2h0M586.7 409.0h0M575.9 413.0h0M576.1 413.2h0M612.5 394.3h0M592.0 403.5h0M575.2 413.4h0M592.1 405.2h0M576.4 412.8h0M599.9 396.1h0M567.6 420.6h0M588.1 406.9h0M603.5 392.0h0M577.9 413.2h0M609.5 393.1h0M576.7 415.4h0M608.3 395.4h0M569.2 419.7h0M591.1 399.8h0M578.2 411.5h0M603.7 394.1h0M573.6 413.5h0M571.8 418.3h0M613.4 394.3h0M587.6 409.2h0M613.3 392.6h0M570.0 419.2h0M599.8 400.2h0M616.3 393.5h0M604.6 393.5h0M574.9 416.3h0M582.1 410.1h0M583.6 407.5h0M571.9 415.6h0M296.6 543.6h0M296.0 546.6h0"/>
<path stroke="#ffe600" stroke-width="1.90" d="M270.7 409.5h0M267.6 406.4h0M267.9 400.6h0M273.2 408.0h0M272.4 407.5h0M271.2 406.5h0M474.8 409.0h0M470.8 409.0h0M482.6 403.4h0M478.9 407.3h0M475.7 402.8h0M473.2 412.2h0M463.5 417.0h0M473.3 410.2h0M483.6 400.7h0M458.4 426.0h0M459.5 418.9h0M474.5 408.8h0M476.1 410.5h0M463.3 420.9h0M463.1 414.2h0M459.4 421.6h0M479.8 405.8h0M451.6 427.9h0M464.0 414.8h0M469.6 410.8h0M470.4 408.3h0M458.2 417.6h0M478.8 405.6h0M461.6 417.0h0M461.5 419.2h0M475.1 402.8h0M460.7 426.9h0M465.5 415.7h0M467.6 413.2h0M465.5 408.1h0M484.0 402.7h0M471.5 407.7h0M477.9 405.6h0M465.9 414.9h0M475.6 408.2h0M459.7 416.7h0M467.3 413.9h0M462.4 415.6h0M462.9 417.3h0M473.8 407.7h0M470.7 406.8h0M472.6 407.2h0M474.3 406.9h0M468.5 413.6h0M458.9 426.8h0M446.9 431.2h0M472.4 408.1h0M469.4 409.2h0M457.5 422.1h0M475.0 411.2h0M468.9 406.8h0M461.8 414.3h0M473.1 411.9h0M469.6 411.5h0M464.5 411.4h0M448.2 430.6h0M422.9 422.3h0M418.2 429.7h0M420.2 425.7h0M414.5 422.8h0M417.4 424.4h0M419.9 417.4h0M427.1 426.4h0M417.8 422.9h0M424.5 429.5h0M418.6 423.3h0M413.5 423.4h0M418.8 427.2h0M424.3 421.2h0M421.6 423.3h0M414.1 422.9h0M417.0 428.6h0M415.5 424.6h0M419.1 424.2h0M419.7 427.5h0M420.1 430.9h0M412.6 424.3h0M421.9 425.2h0M416.7 423.1h0M418.6 420.6h0M415.1 424.9h0M420.4 428.2h0M421.6 430.6h0M419.7 426.4h0M417.4 421.5h0M414.5 424.0h0M413.3 424.7h0M415.4 420.8h0M426.7 429.3h0M420.7 423.3h0M421.8 427.5h0M420.8 423.1h0M420.2 425.6h0M422.0 428.8h0M420.8 426.1h0M422.2 423.6h0M421.7 433.0h0M417.2 424.6h0M416.7 419.9h0M415.7 423.1h0M550.5 440.4h0M538.9 454.3h0M556.1 435.4h0M536.7 456.0h0M536.9 453.1h0M541.8 451.1h0M558.2 433.2h0M613.7 392.1h0M610.3 390.0h0M567.0 420.7h0M566.6 422.6h0M587.6 409.9h0M589.5 399.8h0M613.6 394.8h0M574.9 413.9h0M612.4 392.8h0M607.2 397.8h0M566.9 422.0h0M576.8 411.5h0M588.6 405.0h0M609.4 395.3h0M581.0 411.7h0M602.0 396.5h0M601.0 396.3h0M612.3 391.8h0M586.0 404.1h0M583.6 408.2h0M575.9 413.5h0M598.7 397.8h0M616.1 392.5h0M590.8 405.7h0M581.8 411.5h0M585.3 408.7h0M582.7 409.4h0M580.8 410.5h0M606.8 392.1h0M602.5 396.5h0M596.8 400.0h0M580.7 408.0h0M575.8 414.3h0M598.4 401.7h0M612.3 392.4h0M588.7 400.7h0M613.4 394.9h0M598.9 398.7h0M583.1 408.3h0M597.5 400.0h0M568.6 419.9h0M591.1 402.8h0M581.7 409.0h0M575.2 416.2h0M603.6 395.9h0M577.6 412.1h0M611.9 390.1h0M590.7 403.3h0M584.9 408.4h0M589.5 403.0h0M575.4 409.6h0M569.7 416.2h0M570.0 420.7h0M573.2 415.7h0M611.8 393.6h0M586.9 405.2h0M567.1 417.8h0M612.4 392.1h0M565.7 421.3h0M591.1 401.3h0M587.8 407.5h0M582.0 413.2h0M565.8 418.6h0M297.9 542.4h0M296.3 545.3h0M294.0 546.3h0"/>
<path stroke="#ffdc00" stroke-width="1.90" d="M266.1 409.3h0M363.9 359.9h0M477.3 406.2h0M464.3 417.8h0M474.3 403.8h0M477.3 403.7h0M465.8 414.8h0M478.8 403.9h0M478.7 406.9h0M471.0 417.1h0M468.6 410.6h0M479.1 406.6h0M472.2 410.9h0M466.8 409.6h0M474.1 408.2h0M465.8 417.7h0M480.8 406.6h0M475.5 405.5h0M478.4 404.5h0M474.2 404.6h0M478.4 406.8h0M474.9 407.5h0M469.2 409.8h0M475.8 405.8h0M481.6 403.5h0M478.2 408.3h0M469.0 407.5h0M470.6 412.1h0M465.5 412.1h0M473.5 407.1h0M482.0 404.5h0M464.9 414.0h0M478.7 405.8h0M470.1 406.0h0M449.8 424.1h0M483.4 403.6h0M471.9 408.5h0M470.5 410.3h0M471.8 410.0h0M502.9 394.2h0M503.0 394.6h0M424.6 430.9h0M424.2 435.2h0M418.4 424.5h0M423.4 422.0h0M427.1 435.1h0M425.2 426.0h0M419.8 427.9h0M417.0 423.9h0M423.4 425.4h0M427.6 435.4h0M419.5 423.6h0M428.6 433.9h0M420.7 422.1h0M420.7 427.3h0M427.1 436.4h0M416.1 427.8h0M419.5 423.2h0M426.4 428.2h0M423.8 427.4h0M425.2 422.6h0M414.9 428.3h0M428.9 436.9h0M420.6 426.0h0M418.2 423.4h0M415.3 426.5h0M427.0 430.3h0M414.8 425.0h0M427.8 429.3h0M416.6 422.7h0M416.0 420.3h0M424.9 427.2h0M422.3 428.1h0M425.4 435.2h0M426.5 431.2h0M425.5 434.5h0M418.1 427.1h0M415.5 421.3h0M410.3 424.4h0M414.5 425.6h0M422.1 427.3h0M427.2 429.5h0M546.1 444.4h0M556.1 432.9h0M557.6 429.5h0M586.6 408.7h0M592.0 401.8h0M575.9 411.8h0M589.1 403.6h0M606.0 393.2h0M583.9 406.0h0M613.0 392.5h0M592.1 401.4h0M600.8 395.0h0M584.5 408.8h0M614.5 393.5h0M614.3 393.6h0M579.7 410.4h0M599.4 399.2h0M581.5 408.3h0M615.6 389.7h0M606.7 395.9h0M608.7 394.0h0M608.2 393.5h0M586.3 403.4h0M571.2 416.5h0M605.8 398.3h0M601.3 397.6h0M607.3 393.2h0M579.5 407.8h0M577.0 411.1h0M603.1 394.5h0M589.6 404.4h0M579.8 412.2h0M615.0 390.0h0M573.4 417.2h0M568.5 419.6h0M592.3 403.2h0M596.1 401.7h0M573.2 418.1h0M607.3 394.4h0M588.4 405.4h0M569.7 421.7h0M588.2 403.6h0M582.5 411.6h0M576.0 411.4h0M577.4 413.5h0M565.2 424.5h0M603.9 397.2h0M582.4 409.1h0M572.7 414.7h0M609.0 392.6h0M598.7 399.9h0M614.3 392.5h0M600.9 400.5h0M588.0 406.0h0M291.6 546.3h0"/>
<path stroke="#ffd200" stroke-width="1.90" d="M272.7 419.5h0M274.9 416.1h0M268.4 418.0h0M267.3 411.9h0M439.1 412.7h0M472.4 409.7h0M481.2 406.4h0M474.9 408.1h0M483.7 402.5h0M481.7 405.0h0M475.7 404.5h0M469.0 412.1h0M481.7 402.2h0M474.1 405.7h0M471.1 408.6h0M484.6 402.1h0M479.6 407.9h0M471.9 409.1h0M473.1 406.4h0M480.6 401.6h0M480.6 402.5h0M481.9 402.6h0M482.5 404.5h0M482.0 403.4h0M472.2 408.8h0M483.8 405.1h0M471.5 408.8h0M477.2 404.3h0M473.6 412.7h0M485.2 404.5h0M475.0 408.3h0M486.9 400.8h0M491.7 398.8h0M494.6 396.2h0M427.9 433.6h0M413.0 423.1h0M427.6 435.5h0M416.7 425.3h0M427.5 440.1h0M425.0 427.2h0M423.5 429.8h0M423.8 429.9h0M419.5 432.0h0M427.5 431.7h0M422.2 425.9h0M427.4 431.1h0M429.5 437.9h0M430.7 436.5h0M428.4 436.4h0M423.7 434.4h0M420.2 427.7h0M420.2 429.5h0M428.5 428.3h0M417.5 423.5h0M420.3 420.9h0M424.5 433.1h0M425.5 434.3h0M430.4 430.5h0M430.0 434.5h0M420.5 422.1h0M427.1 431.3h0M428.2 433.6h0M423.7 425.4h0M419.9 427.1h0M430.2 434.4h0M422.6 432.5h0M426.8 433.6h0M429.6 433.1h0M422.5 423.6h0M426.3 431.6h0M424.0 423.2h0M419.7 425.3h0M429.2 433.2h0M427.0 429.8h0M420.3 426.2h0M428.5 432.1h0M423.3 432.8h0M425.2 431.5h0M427.1 430.0h0M415.5 420.0h0M422.7 428.5h0M538.0 453.4h0M569.4 418.2h0M604.5 394.7h0M591.5 401.4h0M611.9 394.8h0M591.3 404.5h0M610.1 394.3h0M573.1 413.7h0M585.5 405.5h0M611.7 392.2h0M580.0 411.9h0M593.1 401.1h0M584.4 408.2h0M575.8 411.1h0M591.1 404.4h0M606.4 395.9h0M589.6 402.2h0M604.9 394.7h0M583.4 409.0h0M602.7 396.7h0M611.7 396.4h0M566.8 420.5h0M588.9 402.8h0M591.3 406.6h0M581.1 410.3h0M600.4 396.7h0M570.5 418.3h0M614.2 390.8h0M591.0 405.1h0M571.8 413.9h0M616.4 392.3h0M581.2 409.9h0M600.3 401.1h0M575.6 413.4h0M610.9 391.8h0M292.5 542.2h0M294.7 545.6h0"/>
<path stroke="#ffc800" stroke-width="1.90" d="M273.8 415.2h0M273.2 409.5h0M270.5 415.0h0M269.5 412.9h0M270.2 418.3h0M398.1 352.5h0M369.3 357.5h0M374.5 354.8h0M363.8 359.1h0M365.4 358.9h0M363.3 359.0h0M410.2 399.5h0M410.2 399.5h0M414.3 400.8h0M413.0 399.4h0M423.2 404.3h0M430.2 407.0h0M437.8 411.8h0M483.6 405.0h0M474.7 407.7h0M478.1 403.6h0M478.6 407.3h0M478.7 404.4h0M478.4 401.8h0M473.7 410.2h0M475.2 404.5h0M474.5 410.1h0M483.6 402.0h0M473.6 407.6h0M482.8 402.9h0M484.7 402.9h0M473.5 410.8h0M490.7 398.3h0M504.0 393.2h0M496.9 396.1h0M491.5 398.2h0M487.4 401.0h0M502.7 393.7h0M425.4 431.3h0M428.1 432.3h0M428.5 438.2h0M427.7 431.4h0M427.0 435.5h0M429.4 435.4h0M429.9 433.8h0M427.6 432.3h0M425.7 427.8h0M425.9 430.9h0M425.9 423.5h0M417.8 428.7h0M426.2 433.0h0M430.0 431.4h0M423.5 423.8h0M428.0 436.2h0M422.4 431.2h0M420.2 431.6h0M428.5 429.2h0M426.2 432.9h0M432.9 434.5h0M429.9 436.9h0M433.1 435.1h0M430.9 437.4h0M429.0 437.5h0M430.2 434.4h0M567.6 420.2h0M566.6 419.1h0M588.2 406.0h0M586.8 399.6h0M596.7 399.7h0M597.0 399.1h0M611.9 389.7h0M565.0 421.8h0M565.2 421.2h0M602.2 397.3h0M291.8 543.5h0M294.7 547.2h0M290.6 544.5h0M290.7 541.1h0M292.6 544.3h0M292.8 545.2h0"/>
<path stroke="#ffbe00" stroke-width="1.90" d="M272.9 422.1h0M389.3 351.0h0M361.4 358.6h0M366.7 354.0h0M390.7 353.6h0M356.6 359.4h0M400.2 352.7h0M358.3 359.1h0M390.7 349.1h0M370.2 356.4h0M362.2 357.6h0M367.3 357.0h0M370.3 355.0h0M367.8 357.0h0M429.9 407.4h0M411.5 399.4h0M425.3 402.6h0M442.9 416.3h0M418.7 403.8h0M424.5 404.4h0M434.2 411.1h0M424.7 402.8h0M419.0 400.3h0M422.6 405.0h0M418.2 400.9h0M479.8 402.6h0M484.0 405.5h0M480.4 406.1h0M468.8 411.9h0M494.3 397.1h0M490.6 398.4h0M498.6 395.1h0M431.2 434.9h0M432.3 433.2h0M428.9 430.2h0M425.9 429.3h0M426.2 432.0h0M424.5 431.3h0M426.3 434.6h0M431.6 435.0h0M430.2 433.7h0M430.5 430.2h0M426.7 432.4h0M431.3 434.9h0M428.4 436.9h0M425.1 431.7h0M421.4 426.9h0M432.8 433.1h0M426.3 435.1h0M428.1 435.5h0M427.7 434.3h0M422.0 429.7h0M422.3 431.6h0M426.6 434.0h0M569.1 419.4h0M584.9 407.1h0M288.6 542.9h0M289.3 543.0h0M290.9 542.1h0M292.1 543.2h0M290.6 547.1h0M289.6 547.3h0M414.4 531.4h0M410.6 541.4h0M410.9 537.3h0M415.5 528.4h0M409.6 540.9h0"/>
<path stroke="#ffb500" stroke-width="1.90" d="M272.0 420.0h0M269.8 413.7h0M274.2 422.8h0M272.1 421.0h0M273.5 420.5h0M267.5 422.8h0M271.2 417.8h0M274.9 418.4h0M272.0 419.0h0M274.5 418.6h0M271.4 425.4h0M273.2 415.4h0M375.8 353.1h0M357.2 360.3h0M382.0 352.9h0M365.3 357.0h0M373.2 357.6h0M373.4 358.5h0M366.5 357.6h0M360.8 360.1h0M370.6 356.9h0M357.8 360.4h0M371.7 355.6h0M368.2 356.1h0M437.2 414.2h0M428.2 404.3h0M433.3 410.5h0M425.4 403.5h0M415.1 400.5h0M431.5 406.8h0M417.1 400.6h0M409.5 399.6h0M408.7 398.2h0M416.4 400.1h0M430.2 407.9h0M428.7 407.6h0M409.9 398.0h0M434.4 412.5h0M410.1 399.9h0M419.8 404.7h0M414.8 401.5h0M417.6 403.7h0M428.2 406.7h0M421.3 401.4h0M430.5 411.4h0M482.9 404.6h0M427.2 438.1h0M430.9 431.9h0M428.1 432.7h0M430.6 435.3h0M430.0 436.2h0M432.0 434.0h0M432.7 435.3h0M426.4 438.1h0M426.7 429.2h0M427.6 433.0h0M426.0 434.1h0M290.5 545.9h0M289.2 545.9h0M410.8 539.8h0M409.0 541.3h0M413.6 531.1h0M410.6 538.7h0M411.6 533.4h0M410.0 539.0h0M408.7 541.5h0"/>
<path stroke="#ffab00" stroke-width="1.90" d="M271.1 423.8h0M272.0 419.0h0M273.7 425.7h0M271.5 425.2h0M268.5 413.9h0M272.1 423.4h0M270.2 423.3h0M269.4 425.5h0M358.7 358.5h0M368.0 355.4h0M386.9 352.7h0M358.0 359.7h0M363.5 359.7h0M363.6 356.2h0M367.1 357.8h0M388.7 352.7h0M365.7 356.5h0M358.1 357.3h0M362.4 359.2h0M374.4 355.5h0M397.4 349.7h0M421.4 404.5h0M434.8 414.0h0M440.4 414.4h0M428.2 407.0h0M442.1 413.6h0M436.8 413.7h0M440.0 417.2h0M436.1 415.1h0M423.1 405.4h0M436.2 411.7h0M424.5 405.7h0M415.6 403.0h0M429.1 407.7h0M409.1 399.6h0M477.3 408.2h0M481.8 402.0h0M431.2 432.3h0M288.2 543.0h0M290.9 540.8h0M288.8 540.3h0M290.8 545.3h0M286.2 543.1h0M293.1 543.2h0M290.2 547.5h0M289.2 543.9h0M363.9 502.7h0M359.1 505.8h0M364.7 502.3h0M409.3 539.4h0"/>
<path stroke="#ffa100" stroke-width="1.90" d="M271.8 416.4h0M272.7 417.5h0M271.4 425.6h0M270.2 426.0h0M390.4 352.6h0M366.1 355.8h0M440.5 417.8h0M438.3 414.6h0M416.6 402.0h0M428.5 410.9h0M436.7 411.6h0M413.4 402.4h0M439.5 413.4h0M442.4 384.4h0M287.5 543.8h0M288.7 545.1h0M283.2 543.8h0M364.3 505.1h0M356.4 510.2h0M412.7 533.8h0"/>
<path stroke="#ff9700" stroke-width="1.90" d="M270.8 424.9h0M395.6 351.3h0M377.4 354.1h0M385.1 353.5h0M431.8 409.3h0M413.9 401.4h0M416.8 401.0h0M442.5 381.7h0M447.8 386.5h0M280.2 545.8h0M364.5 507.6h0M361.1 503.5h0M362.9 501.6h0M411.8 534.1h0"/>
<path stroke="#ff8d00" stroke-width="1.90" d="M430.6 406.2h0M445.3 378.6h0M447.3 381.4h0M443.6 380.8h0M450.0 381.0h0M448.5 383.6h0M446.4 381.3h0M443.1 377.2h0M443.5 380.3h0M446.8 377.9h0M443.8 378.6h0M450.2 377.6h0M444.5 383.2h0M448.3 379.5h0M284.7 547.0h0M281.6 543.4h0M285.6 544.3h0M284.5 544.4h0M280.5 541.6h0M280.6 543.9h0M284.7 545.5h0M358.4 510.6h0M359.4 507.7h0M361.6 504.2h0M365.6 504.0h0M365.8 505.6h0M359.3 506.7h0M364.1 503.7h0M358.5 511.1h0M364.8 504.7h0M359.0 510.1h0"/>
<path stroke="#ff8300" stroke-width="1.90" d="M380.5 371.7h0M444.1 380.8h0M446.1 380.9h0M448.7 385.9h0M443.0 377.5h0M451.1 385.1h0M450.4 384.6h0M445.2 387.7h0M445.0 381.7h0M278.8 544.8h0M280.1 544.6h0M284.0 544.3h0M281.7 546.4h0M281.8 541.6h0M282.2 540.6h0M360.6 499.3h0M365.5 502.3h0M363.3 500.9h0M361.5 503.6h0M362.0 509.4h0M361.9 508.2h0M362.7 501.0h0M363.6 504.3h0M363.2 504.9h0M359.5 509.1h0M361.7 504.2h0"/>
<path stroke="#ff7a00" stroke-width="1.90" d="M382.9 370.7h0M383.4 372.4h0M381.0 371.0h0M441.3 381.7h0M449.2 384.7h0M450.4 382.3h0M452.9 384.2h0M449.3 380.5h0M444.2 384.4h0M449.2 386.0h0M450.3 383.0h0M447.7 379.4h0M476.5 383.0h0M475.3 381.9h0M476.6 380.5h0M282.1 544.1h0M279.2 545.3h0M284.3 547.8h0M278.6 545.7h0M278.9 543.9h0M275.8 544.6h0M280.2 543.5h0M280.4 540.4h0M281.0 544.0h0M277.6 544.1h0M360.3 510.7h0M363.2 504.1h0"/>
<path stroke="#ff7000" stroke-width="1.90" d="M384.2 372.4h0M451.0 381.1h0M452.5 380.0h0M453.8 385.0h0M454.8 386.4h0M478.8 381.3h0M482.4 380.1h0M475.1 383.1h0M475.7 382.1h0M479.5 379.8h0M276.7 539.2h0M277.8 540.3h0M277.5 544.0h0M274.5 542.9h0M280.3 544.5h0M275.1 540.6h0M362.4 502.3h0M358.3 511.3h0"/>
<path stroke="#ff6600" stroke-width="1.90" d="M387.9 370.5h0M454.3 390.0h0M456.2 386.8h0M452.5 385.1h0M455.2 383.7h0M449.2 385.3h0M451.4 386.9h0M454.7 384.4h0M451.8 384.4h0M454.7 383.1h0M481.9 379.4h0M480.4 377.8h0M475.0 380.1h0M479.2 382.2h0M481.9 382.5h0M485.4 377.4h0M476.2 383.3h0M481.1 382.2h0M477.6 384.9h0M276.3 542.8h0M275.8 537.2h0M282.6 540.8h0M271.9 538.1h0M277.8 540.4h0M277.3 541.3h0M278.4 539.7h0M358.3 502.3h0M359.4 508.9h0"/>
<path stroke="#ff5c00" stroke-width="1.90" d="M388.3 372.4h0M384.0 372.2h0M391.4 373.0h0M454.3 388.0h0M455.2 378.2h0M457.9 382.4h0M454.5 381.4h0M457.5 384.2h0M449.5 380.8h0M458.1 380.6h0M479.5 381.5h0M478.5 379.3h0M482.5 381.5h0M474.7 378.4h0M474.9 381.4h0M490.2 380.2h0M480.1 384.8h0M482.4 382.8h0M481.5 380.8h0M271.9 543.8h0M273.4 543.0h0M276.7 544.4h0M274.8 542.8h0"/>
<path stroke="#ff5200" stroke-width="1.90" d="M387.3 374.0h0M395.4 374.0h0M460.0 379.0h0M458.0 385.3h0M457.2 383.4h0M452.1 383.7h0M455.3 382.6h0M458.7 386.0h0M454.1 384.4h0M451.8 381.7h0M459.2 383.9h0M461.7 386.2h0M480.2 379.7h0M481.8 378.6h0M475.5 381.4h0M478.3 381.1h0M480.4 377.7h0M483.9 382.6h0M482.1 383.9h0M478.3 375.4h0M483.9 381.2h0M484.4 386.3h0M482.7 380.1h0M475.2 382.7h0M475.6 379.2h0M484.3 381.6h0M269.0 540.8h0M267.8 540.5h0M272.0 538.5h0"/>
<path stroke="#ff4800" stroke-width="1.90" d="M394.3 373.9h0M460.5 382.9h0M457.9 385.3h0M460.3 381.7h0M458.3 382.3h0M459.7 385.4h0M460.7 385.2h0M458.8 383.3h0M488.2 383.6h0M487.5 383.8h0M487.6 379.0h0M483.6 382.1h0M485.2 378.6h0M484.7 379.1h0M479.7 375.6h0M487.6 382.3h0M483.1 382.4h0M273.6 538.1h0M269.4 538.1h0"/>
<path stroke="#ff3f00" stroke-width="1.90" d="M390.3 373.4h0M462.8 388.4h0M461.3 392.9h0M460.9 386.4h0M461.2 384.0h0M461.1 386.7h0M486.1 379.5h0M489.0 382.8h0M489.3 380.5h0M488.4 385.0h0M493.6 380.5h0M263.2 538.3h0M263.5 539.1h0M254.9 533.0h0M268.2 541.2h0M266.9 539.6h0M267.8 540.1h0M265.1 540.0h0M264.9 540.0h0M264.7 544.5h0M271.3 540.6h0M267.7 540.0h0"/>
<path stroke="#ff3500" stroke-width="1.90" d="M462.2 389.3h0M462.3 385.2h0M460.6 386.5h0M461.8 384.0h0M459.9 387.0h0M461.9 389.1h0M460.0 385.8h0M460.5 380.6h0M462.5 380.7h0M461.1 383.2h0M492.6 383.7h0M486.5 381.1h0M478.9 381.0h0M492.5 382.3h0M487.6 382.1h0M249.9 535.6h0M255.7 533.8h0M241.8 529.1h0M248.5 536.9h0M263.6 536.8h0M271.4 542.4h0M266.6 537.0h0M265.1 537.4h0M255.7 533.3h0M259.7 535.9h0M247.1 533.5h0"/>
<path stroke="#ff2b00" stroke-width="1.90" d="M392.6 374.6h0M391.4 374.3h0M463.9 389.2h0M461.0 388.7h0M462.0 387.3h0M464.6 383.8h0M466.7 384.6h0M467.2 386.4h0M464.8 384.4h0M497.0 380.7h0M488.8 377.4h0M494.8 381.9h0M488.9 380.0h0M497.1 383.7h0M264.0 540.3h0M254.2 537.1h0M246.7 532.2h0M241.1 534.5h0M255.3 540.6h0M233.2 521.4h0M253.1 535.8h0M254.3 533.2h0M263.9 536.5h0M259.3 538.2h0M263.0 536.1h0M260.3 534.4h0M261.6 535.0h0M256.2 533.3h0M264.9 538.2h0M257.2 535.5h0"/>
<path stroke="#ff2100" stroke-width="1.90" d="M389.5 372.1h0M462.4 386.1h0M463.0 388.6h0M462.8 384.8h0M462.3 389.3h0M467.0 387.2h0M467.7 388.8h0M461.5 390.6h0M492.4 380.5h0M496.5 383.2h0M493.8 380.7h0M498.2 380.3h0M493.5 384.1h0M497.1 382.1h0M498.1 382.2h0M499.1 379.9h0M494.8 382.3h0M497.9 383.3h0M264.7 536.3h0M256.0 536.4h0M264.4 541.4h0M233.4 527.6h0M260.3 538.8h0M257.2 538.2h0M240.0 526.1h0M246.8 532.8h0M245.0 535.7h0M263.6 539.7h0M243.3 534.1h0M246.6 537.0h0M251.8 533.1h0M257.4 533.4h0M261.5 536.1h0M261.6 544.5h0M240.3 527.1h0M259.2 540.0h0M247.7 533.6h0M261.4 535.4h0M259.7 535.5h0M255.9 538.7h0M246.8 537.1h0M230.2 520.3h0M251.6 532.8h0"/>
<path stroke="#ff1700" stroke-width="1.90" d="M401.0 376.0h0M401.4 375.6h0M466.3 385.2h0M464.5 387.6h0M464.5 386.5h0M498.4 383.0h0M493.0 376.4h0M493.6 385.9h0M494.5 377.3h0M497.2 380.5h0M499.9 380.3h0M494.7 382.7h0M495.6 380.5h0M240.7 528.9h0M232.6 523.7h0M262.8 537.9h0M231.7 520.7h0M263.9 538.2h0M246.3 532.9h0M230.3 521.6h0M247.8 532.9h0M236.1 526.7h0M238.6 530.2h0M245.3 531.6h0M240.3 523.8h0M241.1 527.7h0M251.7 538.1h0M247.0 532.3h0M258.7 536.2h0M230.4 519.6h0M260.8 538.7h0M243.0 530.1h0M241.4 530.8h0M242.2 525.9h0M230.5 521.2h0M237.8 525.2h0M229.4 521.4h0M239.9 528.3h0"/>
<path stroke="#f80d00" stroke-width="1.90" d="M464.5 391.9h0M464.9 392.6h0M466.9 386.3h0M464.6 388.3h0M466.9 392.7h0M469.0 394.3h0M470.8 394.0h0M467.3 389.7h0M468.0 385.8h0M466.0 387.7h0M501.3 383.7h0M501.1 384.4h0M499.9 384.0h0M502.5 380.6h0M500.6 384.0h0M250.1 536.4h0M242.7 530.0h0M234.6 522.3h0M256.6 537.3h0M240.0 530.1h0M238.5 525.8h0M248.1 530.4h0M229.8 521.3h0M237.2 523.9h0M250.0 536.6h0M237.5 528.5h0M252.0 534.7h0M231.0 520.1h0M231.6 519.7h0M251.4 534.8h0M237.2 525.9h0M228.4 520.6h0M234.4 522.9h0M254.6 535.3h0"/>
<path stroke="#ec0400" stroke-width="1.90" d="M403.3 377.8h0M406.0 378.1h0M401.7 375.2h0M465.9 388.0h0M464.7 389.8h0M467.0 388.9h0M470.5 389.1h0M469.5 386.0h0M467.6 386.9h0M503.8 381.4h0M500.7 383.4h0M494.6 389.2h0M498.1 376.7h0M239.3 527.6h0M245.1 532.5h0M240.1 531.5h0M228.4 520.2h0M233.3 528.0h0M244.9 532.6h0M254.4 531.1h0M233.2 522.6h0M242.5 529.9h0M243.6 528.0h0M229.8 524.3h0M231.5 518.9h0M227.6 521.9h0M230.4 520.2h0M239.6 531.2h0M256.0 532.3h0M247.7 528.4h0M254.6 532.4h0M233.6 528.2h0"/>
<path stroke="#e00000" stroke-width="1.90" d="M443.7 416.5h0M470.2 388.6h0M466.4 390.8h0M467.9 391.5h0M469.0 391.6h0M464.4 390.6h0M471.5 388.3h0M467.5 394.1h0M503.1 381.1h0M508.2 385.4h0M502.2 382.1h0M505.8 384.9h0M552.8 396.6h0M555.1 398.7h0M247.3 527.3h0M234.4 520.8h0M247.8 534.5h0M235.0 525.7h0M239.6 529.8h0"/>
<path stroke="#d40000" stroke-width="1.90" d="M442.2 410.2h0M445.7 415.7h0M438.5 402.8h0M446.1 414.1h0M469.4 389.4h0M468.4 387.6h0M471.0 391.8h0M469.4 393.1h0M471.7 392.5h0M469.5 388.4h0M510.8 385.2h0M502.5 384.3h0M517.4 388.2h0M501.7 384.7h0M504.1 382.1h0M509.9 381.6h0M511.1 385.7h0M507.3 381.8h0M511.4 382.6h0M510.5 388.9h0M504.7 385.6h0M554.1 394.9h0M549.6 395.6h0M554.2 397.3h0M560.3 395.4h0M544.1 396.2h0M549.8 395.0h0M551.0 396.5h0M234.3 519.3h0M237.4 525.4h0M249.0 533.1h0"/>
<path stroke="#c80000" stroke-width="1.90" d="M437.4 401.9h0M443.3 412.5h0M441.7 406.4h0M444.3 414.8h0M439.4 404.2h0M442.1 408.7h0M430.9 395.2h0M408.8 380.4h0M442.0 404.9h0M475.2 395.7h0M472.7 384.9h0M466.7 393.2h0M473.5 388.9h0M472.2 394.6h0M471.9 387.0h0M473.7 392.3h0M471.5 391.8h0M474.6 392.5h0M478.0 398.2h0M477.0 396.0h0M479.2 399.1h0M471.8 393.6h0M479.7 400.6h0M479.5 396.4h0M469.9 390.6h0M479.4 397.4h0M501.8 382.8h0M507.7 380.3h0M507.3 384.1h0M505.6 384.2h0M505.0 383.9h0M508.4 389.6h0M509.1 385.5h0M505.9 383.3h0M504.1 386.1h0M510.1 387.4h0M513.6 388.4h0M513.8 385.5h0M512.5 388.2h0M515.9 388.1h0M511.2 387.7h0M553.0 398.9h0"/>
<path stroke="#bc0000" stroke-width="1.90" d="M443.4 409.9h0M434.0 398.1h0M444.0 408.6h0M432.0 394.5h0M444.0 408.7h0M439.8 401.7h0M410.8 380.8h0M428.8 392.0h0M471.2 395.1h0M476.9 390.9h0M474.7 392.2h0M471.0 392.4h0M471.2 392.5h0M481.4 401.2h0M474.1 390.3h0M472.4 394.8h0M478.9 395.7h0M477.6 392.7h0M470.8 391.7h0M483.1 398.0h0M475.6 390.5h0M509.5 386.0h0M532.5 391.9h0M528.4 391.6h0M516.2 391.3h0M527.8 390.7h0M528.5 393.1h0M520.4 387.1h0M511.9 386.5h0M509.6 387.6h0M521.1 385.9h0M516.3 380.5h0M512.5 381.5h0M510.8 384.7h0M510.6 382.9h0M530.0 393.9h0M524.7 391.8h0M527.7 394.1h0M545.8 400.9h0M546.5 397.0h0"/>
<path stroke="#b00000" stroke-width="1.90" d="M438.7 401.1h0M410.5 380.5h0M406.1 378.7h0M437.3 402.9h0M441.5 405.3h0M408.6 380.4h0M408.7 378.7h0M429.3 394.9h0M432.3 397.8h0M434.0 397.0h0M442.2 409.5h0M416.1 384.9h0M413.7 380.8h0M443.1 406.4h0M434.0 398.1h0M477.9 396.7h0M479.1 398.1h0M474.6 400.2h0M474.3 399.1h0M470.4 399.6h0M480.4 399.2h0M474.0 397.6h0M481.6 399.0h0M473.5 395.1h0M475.4 390.2h0M472.7 392.7h0M481.5 402.3h0M483.6 402.0h0M481.4 399.9h0M472.5 396.5h0M476.2 396.8h0M479.6 400.0h0M472.1 392.4h0M513.8 387.2h0M525.8 394.1h0M511.3 385.7h0M530.0 391.9h0M522.4 389.1h0M526.2 387.6h0M525.2 390.7h0M516.8 389.7h0M518.0 391.3h0M516.8 385.4h0M521.3 391.6h0M513.4 382.3h0M518.5 388.3h0M528.6 396.9h0M543.2 394.9h0M549.6 397.6h0"/>
<path stroke="#a40000" stroke-width="1.90" d="M428.7 391.2h0M425.6 392.6h0M441.0 406.3h0M441.6 407.2h0M435.8 397.1h0M431.1 392.9h0M409.3 380.8h0M417.1 383.8h0M427.6 391.6h0M416.5 380.7h0M441.7 402.9h0M437.0 397.9h0M416.5 384.3h0M406.9 381.0h0M439.6 404.8h0M407.1 379.2h0M437.1 400.2h0M433.5 397.1h0M434.5 400.8h0M406.7 379.4h0M480.6 398.5h0M473.3 394.4h0M477.5 399.1h0M482.3 402.9h0M478.0 399.3h0M476.1 397.5h0M472.7 396.8h0M480.9 398.4h0M479.9 395.9h0M475.3 394.4h0M522.2 394.7h0M512.0 384.5h0M509.1 386.5h0M528.8 391.7h0M521.7 389.1h0M512.1 388.3h0M528.8 393.3h0M521.9 390.8h0M524.1 387.3h0M531.3 392.5h0M518.8 387.7h0M513.0 388.6h0M523.2 386.6h0M514.8 388.5h0"/>
<path stroke="#980000" stroke-width="1.90" d="M438.0 402.0h0M422.8 388.3h0M434.2 396.7h0M423.6 388.1h0M420.2 387.2h0M431.3 395.2h0M438.1 402.5h0M422.6 385.5h0M418.0 382.8h0M418.3 384.9h0M424.0 386.9h0M429.2 389.4h0M416.2 383.4h0M418.0 383.8h0M417.5 386.5h0M413.9 381.9h0M440.7 408.4h0M440.1 406.3h0M431.7 394.3h0M428.9 392.0h0M422.9 388.7h0M426.9 390.2h0M419.9 386.1h0M422.2 387.1h0M412.2 383.3h0M478.6 400.1h0M479.9 398.4h0M480.2 400.1h0M474.8 392.1h0M483.2 400.5h0M480.8 401.7h0M531.5 395.4h0M518.4 384.3h0M528.0 395.2h0M524.9 392.3h0M508.7 381.1h0M516.5 387.1h0M530.6 392.6h0M521.1 386.4h0M526.7 392.9h0M530.0 392.2h0M513.9 390.8h0M525.9 390.6h0M531.6 390.7h0M526.9 390.1h0M520.0 387.8h0M524.7 393.4h0"/>
<path stroke="#8c0000" stroke-width="1.90" d="M427.9 390.3h0M430.6 393.7h0M424.1 389.7h0M419.0 384.4h0M430.5 395.4h0M413.4 384.5h0M427.2 389.1h0M427.8 392.8h0M475.6 400.0h0M479.9 398.6h0M517.1 389.9h0M526.4 392.9h0M520.6 387.7h0M526.3 391.8h0M528.8 390.7h0M515.1 385.3h0"/>
<path stroke="#800000" stroke-width="1.90" d="M418.8 385.2h0M412.1 382.1h0M426.5 391.0h0M422.0 386.6h0M419.5 383.9h0M415.9 382.5h0M421.6 388.0h0M418.5 385.7h0M420.0 384.9h0M482.6 400.0h0M479.9 401.0h0M480.2 401.7h0M529.4 392.7h0M530.6 391.8h0"/>
</g>
<circle cx="229.2" cy="126.5" r="4.4" fill="#7bff7b" stroke="#555" stroke-width="0.65"/>
<circle cx="229.2" cy="422.2" r="4.4" fill="#3affbd" stroke="#555" stroke-width="0.65"/>
<circle cx="335.1" cy="109.2" r="4.4" fill="#ceff29" stroke="#555" stroke-width="0.65"/>
<circle cx="335.1" cy="404.9" r="4.4" fill="#6bff8c" stroke="#555" stroke-width="0.65"/>
<circle cx="430.3" cy="124.3" r="4.3" fill="#c5ff31" stroke="#555" stroke-width="0.65"/>
<circle cx="430.3" cy="420.0" r="4.3" fill="#63ff94" stroke="#555" stroke-width="0.65"/>
<circle cx="415.7" cy="156.8" r="4.4" fill="#ceff29" stroke="#555" stroke-width="0.65"/>
<circle cx="415.7" cy="452.5" r="4.4" fill="#f7f600" stroke="#555" stroke-width="0.65"/>
<circle cx="370.3" cy="199.1" r="4.4" fill="#ff4200" stroke="#555" stroke-width="0.65"/>
<circle cx="370.3" cy="494.8" r="4.4" fill="#ff8400" stroke="#555" stroke-width="0.65"/>
<circle cx="465.6" cy="166.6" r="4.2" fill="#0094ff" stroke="#555" stroke-width="0.65"/>
<circle cx="465.6" cy="462.3" r="4.2" fill="#3affbd" stroke="#555" stroke-width="0.65"/>
<rect x="54.6" y="40.4" width="562.8" height="281.3" fill="none" stroke="#262626" stroke-width="1.2"/>
<path d="M101.5 40.4v3.5M101.5 321.7v-3.5M148.4 40.4v3.5M148.4 321.7v-3.5M195.3 40.4v3.5M195.3 321.7v-3.5M242.2 40.4v3.5M242.2 321.7v-3.5M289.1 40.4v3.5M289.1 321.7v-3.5M336.0 40.4v3.5M336.0 321.7v-3.5M382.9 40.4v3.5M382.9 321.7v-3.5M429.8 40.4v3.5M429.8 321.7v-3.5M476.7 40.4v3.5M476.7 321.7v-3.5M523.6 40.4v3.5M523.6 321.7v-3.5M570.5 40.4v3.5M570.5 321.7v-3.5M54.6 87.3h3.5M617.4 87.3h-3.5M54.6 134.2h3.5M617.4 134.2h-3.5M54.6 181.1h3.5M617.4 181.1h-3.5M54.6 227.9h3.5M617.4 227.9h-3.5M54.6 274.8h3.5M617.4 274.8h-3.5" stroke="#262626" stroke-width="1.1" fill="none"/>
<rect x="54.6" y="336.1" width="562.8" height="281.3" fill="none" stroke="#262626" stroke-width="1.2"/>
<path d="M101.5 336.1v3.5M101.5 617.4v-3.5M148.4 336.1v3.5M148.4 617.4v-3.5M195.3 336.1v3.5M195.3 617.4v-3.5M242.2 336.1v3.5M242.2 617.4v-3.5M289.1 336.1v3.5M289.1 617.4v-3.5M336.0 336.1v3.5M336.0 617.4v-3.5M382.9 336.1v3.5M382.9 617.4v-3.5M429.8 336.1v3.5M429.8 617.4v-3.5M476.7 336.1v3.5M476.7 617.4v-3.5M523.6 336.1v3.5M523.6 617.4v-3.5M570.5 336.1v3.5M570.5 617.4v-3.5M54.6 383.0h3.5M617.4 383.0h-3.5M54.6 429.9h3.5M617.4 429.9h-3.5M54.6 476.8h3.5M617.4 476.8h-3.5M54.6 523.6h3.5M617.4 523.6h-3.5M54.6 570.5h3.5M617.4 570.5h-3.5" stroke="#262626" stroke-width="1.1" fill="none"/>
<g fill="#000" stroke="#000" stroke-width="0.22">
<text x="50.9" y="45.5" font-size="14.42" textLength="17.3" lengthAdjust="spacingAndGlyphs" text-anchor="end" style="font-family:'Liberation Sans',sans-serif" >90</text>
<text x="50.9" y="92.4" font-size="14.42" textLength="17.3" lengthAdjust="spacingAndGlyphs" text-anchor="end" style="font-family:'Liberation Sans',sans-serif" >60</text>
<text x="50.9" y="139.3" font-size="14.42" textLength="17.3" lengthAdjust="spacingAndGlyphs" text-anchor="end" style="font-family:'Liberation Sans',sans-serif" >30</text>
<text x="50.9" y="186.2" font-size="14.42" textLength="8.7" lengthAdjust="spacingAndGlyphs" text-anchor="end" style="font-family:'Liberation Sans',sans-serif" >0</text>
<text x="50.9" y="233.0" font-size="14.42" textLength="28.7" lengthAdjust="spacingAndGlyphs" text-anchor="end" style="font-family:'Liberation Sans',sans-serif" >−30</text>
<text x="50.9" y="279.9" font-size="14.42" textLength="28.7" lengthAdjust="spacingAndGlyphs" text-anchor="end" style="font-family:'Liberation Sans',sans-serif" >−60</text>
<text x="50.9" y="326.8" font-size="14.42" textLength="28.7" lengthAdjust="spacingAndGlyphs" text-anchor="end" style="font-family:'Liberation Sans',sans-serif" >−90</text>
<text x="50.9" y="341.2" font-size="14.42" textLength="17.3" lengthAdjust="spacingAndGlyphs" text-anchor="end" style="font-family:'Liberation Sans',sans-serif" >90</text>
<text x="50.9" y="388.1" font-size="14.42" textLength="17.3" lengthAdjust="spacingAndGlyphs" text-anchor="end" style="font-family:'Liberation Sans',sans-serif" >60</text>
<text x="50.9" y="435.0" font-size="14.42" textLength="17.3" lengthAdjust="spacingAndGlyphs" text-anchor="end" style="font-family:'Liberation Sans',sans-serif" >30</text>
<text x="50.9" y="481.9" font-size="14.42" textLength="8.7" lengthAdjust="spacingAndGlyphs" text-anchor="end" style="font-family:'Liberation Sans',sans-serif" >0</text>
<text x="50.9" y="528.7" font-size="14.42" textLength="28.7" lengthAdjust="spacingAndGlyphs" text-anchor="end" style="font-family:'Liberation Sans',sans-serif" >−30</text>
<text x="50.9" y="575.6" font-size="14.42" textLength="28.7" lengthAdjust="spacingAndGlyphs" text-anchor="end" style="font-family:'Liberation Sans',sans-serif" >−60</text>
<text x="50.9" y="622.5" font-size="14.42" textLength="28.7" lengthAdjust="spacingAndGlyphs" text-anchor="end" style="font-family:'Liberation Sans',sans-serif" >−90</text>
<text x="54.6" y="632.1" font-size="14.42" textLength="26.0" lengthAdjust="spacingAndGlyphs" text-anchor="middle" style="font-family:'Liberation Sans',sans-serif" >180</text>
<text x="101.5" y="632.1" font-size="14.42" textLength="26.0" lengthAdjust="spacingAndGlyphs" text-anchor="middle" style="font-family:'Liberation Sans',sans-serif" >150</text>
<text x="148.4" y="632.1" font-size="14.42" textLength="26.0" lengthAdjust="spacingAndGlyphs" text-anchor="middle" style="font-family:'Liberation Sans',sans-serif" >120</text>
<text x="195.3" y="632.1" font-size="14.42" textLength="17.3" lengthAdjust="spacingAndGlyphs" text-anchor="middle" style="font-family:'Liberation Sans',sans-serif" >90</text>
<text x="242.2" y="632.1" font-size="14.42" textLength="17.3" lengthAdjust="spacingAndGlyphs" text-anchor="middle" style="font-family:'Liberation Sans',sans-serif" >60</text>
<text x="289.1" y="632.1" font-size="14.42" textLength="17.3" lengthAdjust="spacingAndGlyphs" text-anchor="middle" style="font-family:'Liberation Sans',sans-serif" >30</text>
<text x="336.0" y="632.1" font-size="14.42" textLength="8.7" lengthAdjust="spacingAndGlyphs" text-anchor="middle" style="font-family:'Liberation Sans',sans-serif" >0</text>
<text x="382.9" y="632.1" font-size="14.42" textLength="28.7" lengthAdjust="spacingAndGlyphs" text-anchor="middle" style="font-family:'Liberation Sans',sans-serif" >−30</text>
<text x="429.8" y="632.1" font-size="14.42" textLength="28.7" lengthAdjust="spacingAndGlyphs" text-anchor="middle" style="font-family:'Liberation Sans',sans-serif" >−60</text>
<text x="476.7" y="632.1" font-size="14.42" textLength="28.7" lengthAdjust="spacingAndGlyphs" text-anchor="middle" style="font-family:'Liberation Sans',sans-serif" >−90</text>
<text x="523.6" y="632.1" font-size="14.42" textLength="37.4" lengthAdjust="spacingAndGlyphs" text-anchor="middle" style="font-family:'Liberation Sans',sans-serif" >−120</text>
<text x="570.5" y="632.1" font-size="14.42" textLength="37.4" lengthAdjust="spacingAndGlyphs" text-anchor="middle" style="font-family:'Liberation Sans',sans-serif" >−150</text>
<text x="617.4" y="632.1" font-size="14.42" textLength="37.4" lengthAdjust="spacingAndGlyphs" text-anchor="middle" style="font-family:'Liberation Sans',sans-serif" >−180</text>
<text x="57.0" y="58.6" font-size="14.45" textLength="28.0" lengthAdjust="spacingAndGlyphs" text-anchor="start" style="font-family:'Liberation Sans',sans-serif" >GD1</text>
<text x="57.0" y="354.3" font-size="14.45" textLength="28.0" lengthAdjust="spacingAndGlyphs" text-anchor="start" style="font-family:'Liberation Sans',sans-serif" >GD1</text>
<text x="109.8" y="68.3" font-size="14.45" textLength="37.2" lengthAdjust="spacingAndGlyphs" text-anchor="start" style="font-family:'Liberation Sans',sans-serif" >Fjörm</text>
<text x="109.8" y="364.0" font-size="14.45" textLength="37.2" lengthAdjust="spacingAndGlyphs" text-anchor="start" style="font-family:'Liberation Sans',sans-serif" >Fjörm</text>
<text x="92.3" y="105.3" font-size="14.45" textLength="32.6" lengthAdjust="spacingAndGlyphs" text-anchor="start" style="font-family:'Liberation Sans',sans-serif" >Kshir</text>
<text x="92.3" y="401.0" font-size="14.45" textLength="32.6" lengthAdjust="spacingAndGlyphs" text-anchor="start" style="font-family:'Liberation Sans',sans-serif" >Kshir</text>
<text x="95.1" y="136.6" font-size="14.45" textLength="21.2" lengthAdjust="spacingAndGlyphs" text-anchor="start" style="font-family:'Liberation Sans',sans-serif" >C-4</text>
<text x="95.1" y="432.3" font-size="14.45" textLength="21.2" lengthAdjust="spacingAndGlyphs" text-anchor="start" style="font-family:'Liberation Sans',sans-serif" >C-4</text>
<text x="204.9" y="93.0" font-size="14.45" textLength="21.6" lengthAdjust="spacingAndGlyphs" text-anchor="start" style="font-family:'Liberation Sans',sans-serif" >C-2</text>
<text x="204.9" y="388.7" font-size="14.45" textLength="21.6" lengthAdjust="spacingAndGlyphs" text-anchor="start" style="font-family:'Liberation Sans',sans-serif" >C-2</text>
<text x="236.3" y="105.1" font-size="14.45" textLength="27.5" lengthAdjust="spacingAndGlyphs" text-anchor="start" style="font-family:'Liberation Sans',sans-serif" >M92</text>
<text x="236.3" y="400.8" font-size="14.45" textLength="27.5" lengthAdjust="spacingAndGlyphs" text-anchor="start" style="font-family:'Liberation Sans',sans-serif" >M92</text>
<text x="291.8" y="75.3" font-size="14.45" textLength="27.3" lengthAdjust="spacingAndGlyphs" text-anchor="start" style="font-family:'Liberation Sans',sans-serif" >Svöl</text>
<text x="291.8" y="371.0" font-size="14.45" textLength="27.3" lengthAdjust="spacingAndGlyphs" text-anchor="start" style="font-family:'Liberation Sans',sans-serif" >Svöl</text>
<text x="422.6" y="58.7" font-size="14.45" textLength="20.5" lengthAdjust="spacingAndGlyphs" text-anchor="start" style="font-family:'Liberation Sans',sans-serif" >C-1</text>
<text x="422.6" y="354.4" font-size="14.45" textLength="20.5" lengthAdjust="spacingAndGlyphs" text-anchor="start" style="font-family:'Liberation Sans',sans-serif" >C-1</text>
<text x="324.0" y="85.0" font-size="14.45" textLength="41.9" lengthAdjust="spacingAndGlyphs" text-anchor="start" style="font-family:'Liberation Sans',sans-serif" >Gaia-1</text>
<text x="324.0" y="380.7" font-size="14.45" textLength="41.9" lengthAdjust="spacingAndGlyphs" text-anchor="start" style="font-family:'Liberation Sans',sans-serif" >Gaia-1</text>
<text x="356.1" y="103.9" font-size="14.45" textLength="21.6" lengthAdjust="spacingAndGlyphs" text-anchor="start" style="font-family:'Liberation Sans',sans-serif" >C-3</text>
<text x="356.1" y="399.6" font-size="14.45" textLength="21.6" lengthAdjust="spacingAndGlyphs" text-anchor="start" style="font-family:'Liberation Sans',sans-serif" >C-3</text>
<text x="452.3" y="58.7" font-size="14.45" textLength="33.9" lengthAdjust="spacingAndGlyphs" text-anchor="start" style="font-family:'Liberation Sans',sans-serif" >Sylgr</text>
<text x="452.3" y="354.4" font-size="14.45" textLength="33.9" lengthAdjust="spacingAndGlyphs" text-anchor="start" style="font-family:'Liberation Sans',sans-serif" >Sylgr</text>
<text x="532.0" y="58.5" font-size="14.45" textLength="29.6" lengthAdjust="spacingAndGlyphs" text-anchor="start" style="font-family:'Liberation Sans',sans-serif" >Slidr</text>
<text x="532.0" y="354.2" font-size="14.45" textLength="29.6" lengthAdjust="spacingAndGlyphs" text-anchor="start" style="font-family:'Liberation Sans',sans-serif" >Slidr</text>
<text x="441.0" y="104.6" font-size="14.45" textLength="25.4" lengthAdjust="spacingAndGlyphs" text-anchor="start" style="font-family:'Liberation Sans',sans-serif" >Ylgr</text>
<text x="441.0" y="400.3" font-size="14.45" textLength="25.4" lengthAdjust="spacingAndGlyphs" text-anchor="start" style="font-family:'Liberation Sans',sans-serif" >Ylgr</text>
<text x="320.5" y="142.4" font-size="14.45" textLength="31.4" lengthAdjust="spacingAndGlyphs" text-anchor="start" style="font-family:'Liberation Sans',sans-serif" >Pal 5</text>
<text x="320.5" y="438.1" font-size="14.45" textLength="31.4" lengthAdjust="spacingAndGlyphs" text-anchor="start" style="font-family:'Liberation Sans',sans-serif" >Pal 5</text>
<text x="263.6" y="149.1" font-size="14.45" textLength="21.1" lengthAdjust="spacingAndGlyphs" text-anchor="start" style="font-family:'Liberation Sans',sans-serif" >C-6</text>
<text x="263.6" y="444.8" font-size="14.45" textLength="21.1" lengthAdjust="spacingAndGlyphs" text-anchor="start" style="font-family:'Liberation Sans',sans-serif" >C-6</text>
<text x="476.3" y="152.3" font-size="14.45" textLength="49.0" lengthAdjust="spacingAndGlyphs" text-anchor="start" style="font-family:'Liberation Sans',sans-serif" >Orphan</text>
<text x="476.3" y="448.0" font-size="14.45" textLength="49.0" lengthAdjust="spacingAndGlyphs" text-anchor="start" style="font-family:'Liberation Sans',sans-serif" >Orphan</text>
<text x="563.8" y="145.6" font-size="14.45" textLength="21.1" lengthAdjust="spacingAndGlyphs" text-anchor="start" style="font-family:'Liberation Sans',sans-serif" >C-5</text>
<text x="563.8" y="441.3" font-size="14.45" textLength="21.1" lengthAdjust="spacingAndGlyphs" text-anchor="start" style="font-family:'Liberation Sans',sans-serif" >C-5</text>
<text x="269.7" y="163.2" font-size="14.45" textLength="120.4" lengthAdjust="spacingAndGlyphs" text-anchor="start" style="font-family:'Liberation Sans',sans-serif" >Fimbulthul+<tspan font-style="italic">ω</tspan>Cen</text>
<text x="269.7" y="458.9" font-size="14.45" textLength="120.4" lengthAdjust="spacingAndGlyphs" text-anchor="start" style="font-family:'Liberation Sans',sans-serif" >Fimbulthul+<tspan font-style="italic">ω</tspan>Cen</text>
<text x="568.5" y="172.9" font-size="14.45" textLength="28.5" lengthAdjust="spacingAndGlyphs" text-anchor="start" style="font-family:'Liberation Sans',sans-serif" >GD1</text>
<text x="568.5" y="468.6" font-size="14.45" textLength="28.5" lengthAdjust="spacingAndGlyphs" text-anchor="start" style="font-family:'Liberation Sans',sans-serif" >GD1</text>
<text x="251.3" y="192.6" font-size="14.45" textLength="26.2" lengthAdjust="spacingAndGlyphs" text-anchor="start" style="font-family:'Liberation Sans',sans-serif" >Hríd</text>
<text x="251.3" y="488.3" font-size="14.45" textLength="26.2" lengthAdjust="spacingAndGlyphs" text-anchor="start" style="font-family:'Liberation Sans',sans-serif" >Hríd</text>
<text x="321.7" y="185.9" font-size="14.45" textLength="66.7" lengthAdjust="spacingAndGlyphs" text-anchor="start" style="font-family:'Liberation Sans',sans-serif" >NGC 6397</text>
<text x="321.7" y="481.6" font-size="14.45" textLength="66.7" lengthAdjust="spacingAndGlyphs" text-anchor="start" style="font-family:'Liberation Sans',sans-serif" >NGC 6397</text>
<text x="420.2" y="201.4" font-size="14.45" textLength="66.2" lengthAdjust="spacingAndGlyphs" text-anchor="start" style="font-family:'Liberation Sans',sans-serif" >NGC 3201</text>
<text x="420.2" y="497.1" font-size="14.45" textLength="66.2" lengthAdjust="spacingAndGlyphs" text-anchor="start" style="font-family:'Liberation Sans',sans-serif" >NGC 3201</text>
<text x="580.0" y="192.8" font-size="14.45" textLength="28.2" lengthAdjust="spacingAndGlyphs" text-anchor="start" style="font-family:'Liberation Sans',sans-serif" >Gjöll</text>
<text x="580.0" y="488.5" font-size="14.45" textLength="28.2" lengthAdjust="spacingAndGlyphs" text-anchor="start" style="font-family:'Liberation Sans',sans-serif" >Gjöll</text>
<text x="310.7" y="223.1" font-size="14.45" textLength="21.3" lengthAdjust="spacingAndGlyphs" text-anchor="start" style="font-family:'Liberation Sans',sans-serif" >C-7</text>
<text x="310.7" y="518.8" font-size="14.45" textLength="21.3" lengthAdjust="spacingAndGlyphs" text-anchor="start" style="font-family:'Liberation Sans',sans-serif" >C-7</text>
<text x="423.0" y="221.5" font-size="14.45" textLength="62.2" lengthAdjust="spacingAndGlyphs" text-anchor="start" style="font-family:'Liberation Sans',sans-serif" >Gunnthrá</text>
<text x="423.0" y="517.2" font-size="14.45" textLength="62.2" lengthAdjust="spacingAndGlyphs" text-anchor="start" style="font-family:'Liberation Sans',sans-serif" >Gunnthrá</text>
<text x="435.2" y="238.8" font-size="14.45" textLength="21.8" lengthAdjust="spacingAndGlyphs" text-anchor="start" style="font-family:'Liberation Sans',sans-serif" >C-8</text>
<text x="435.2" y="534.5" font-size="14.45" textLength="21.8" lengthAdjust="spacingAndGlyphs" text-anchor="start" style="font-family:'Liberation Sans',sans-serif" >C-8</text>
<text x="516.9" y="263.1" font-size="14.45" textLength="37.7" lengthAdjust="spacingAndGlyphs" text-anchor="start" style="font-family:'Liberation Sans',sans-serif" >Leiptr</text>
<text x="516.9" y="558.8" font-size="14.45" textLength="37.7" lengthAdjust="spacingAndGlyphs" text-anchor="start" style="font-family:'Liberation Sans',sans-serif" >Leiptr</text>
<text x="143.4" y="264.1" font-size="14.45" textLength="74.7" lengthAdjust="spacingAndGlyphs" text-anchor="start" style="font-family:'Liberation Sans',sans-serif" >Phlegethon</text>
<text x="143.4" y="559.8" font-size="14.45" textLength="74.7" lengthAdjust="spacingAndGlyphs" text-anchor="start" style="font-family:'Liberation Sans',sans-serif" >Phlegethon</text>
<text x="321.1" y="310.3" font-size="14.45" textLength="45.4" lengthAdjust="spacingAndGlyphs" text-anchor="start" style="font-family:'Liberation Sans',sans-serif" >Jhelum</text>
<text x="321.1" y="606.0" font-size="14.45" textLength="45.4" lengthAdjust="spacingAndGlyphs" text-anchor="start" style="font-family:'Liberation Sans',sans-serif" >Jhelum</text>
<text x="60.0" y="280.6" font-size="14.45" textLength="52.2" lengthAdjust="spacingAndGlyphs" text-anchor="start" style="font-family:'Liberation Sans',sans-serif" >Kwando</text>
<text x="60.0" y="576.3" font-size="14.45" textLength="52.2" lengthAdjust="spacingAndGlyphs" text-anchor="start" style="font-family:'Liberation Sans',sans-serif" >Kwando</text>
<text x="560.4" y="280.8" font-size="14.45" textLength="51.8" lengthAdjust="spacingAndGlyphs" text-anchor="start" style="font-family:'Liberation Sans',sans-serif" >Kwando</text>
<text x="560.4" y="576.5" font-size="14.45" textLength="51.8" lengthAdjust="spacingAndGlyphs" text-anchor="start" style="font-family:'Liberation Sans',sans-serif" >Kwando</text>
<text x="449.9" y="308.8" font-size="14.45" textLength="42.1" lengthAdjust="spacingAndGlyphs" text-anchor="start" style="font-family:'Liberation Sans',sans-serif" >ATLAS</text>
<text x="449.9" y="604.5" font-size="14.45" textLength="42.1" lengthAdjust="spacingAndGlyphs" text-anchor="start" style="font-family:'Liberation Sans',sans-serif" >ATLAS</text>
<text x="214.3" y="309.2" font-size="14.45" textLength="42.7" lengthAdjust="spacingAndGlyphs" text-anchor="start" style="font-family:'Liberation Sans',sans-serif" >Gaia-2</text>
<text x="214.3" y="604.9" font-size="14.45" textLength="42.7" lengthAdjust="spacingAndGlyphs" text-anchor="start" style="font-family:'Liberation Sans',sans-serif" >Gaia-2</text>
</g>
<line x1="88.9" y1="64.4" x2="97.1" y2="74.0" stroke="#000" stroke-width="2.0" stroke-linecap="round"/>
<path d="M100.9 78.4L94.5 75.6L99.2 71.6Z" fill="#000" stroke="#000" stroke-width="0.4" stroke-linejoin="round"/>
<line x1="88.9" y1="360.1" x2="97.1" y2="369.7" stroke="#000" stroke-width="2.0" stroke-linecap="round"/>
<path d="M100.9 374.1L94.5 371.3L99.2 367.3Z" fill="#000" stroke="#000" stroke-width="0.4" stroke-linejoin="round"/>
<line x1="152.6" y1="63.7" x2="188.1" y2="63.7" stroke="#000" stroke-width="2.0" stroke-linecap="round"/>
<path d="M193.9 63.7L187.6 66.8L187.6 60.6Z" fill="#000" stroke="#000" stroke-width="0.4" stroke-linejoin="round"/>
<line x1="152.6" y1="359.4" x2="188.1" y2="359.4" stroke="#000" stroke-width="2.0" stroke-linecap="round"/>
<path d="M193.9 359.4L187.6 362.5L187.6 356.3Z" fill="#000" stroke="#000" stroke-width="0.4" stroke-linejoin="round"/>
<line x1="127.7" y1="102.0" x2="135.4" y2="102.0" stroke="#000" stroke-width="2.0" stroke-linecap="round"/>
<path d="M141.2 102.0L134.9 105.1L134.9 98.9Z" fill="#000" stroke="#000" stroke-width="0.4" stroke-linejoin="round"/>
<line x1="127.7" y1="397.7" x2="135.4" y2="397.7" stroke="#000" stroke-width="2.0" stroke-linecap="round"/>
<path d="M141.2 397.7L134.9 400.8L134.9 394.6Z" fill="#000" stroke="#000" stroke-width="0.4" stroke-linejoin="round"/>
<line x1="119.5" y1="132.2" x2="127.1" y2="132.2" stroke="#000" stroke-width="2.0" stroke-linecap="round"/>
<path d="M132.9 132.2L126.6 135.3L126.6 129.1Z" fill="#000" stroke="#000" stroke-width="0.4" stroke-linejoin="round"/>
<line x1="119.5" y1="427.9" x2="127.1" y2="427.9" stroke="#000" stroke-width="2.0" stroke-linecap="round"/>
<path d="M132.9 427.9L126.6 431.0L126.6 424.8Z" fill="#000" stroke="#000" stroke-width="0.4" stroke-linejoin="round"/>
<line x1="215.4" y1="98.0" x2="213.9" y2="101.5" stroke="#000" stroke-width="2.0" stroke-linecap="round"/>
<path d="M211.5 106.8L211.2 99.7L216.9 102.3Z" fill="#000" stroke="#000" stroke-width="0.4" stroke-linejoin="round"/>
<line x1="215.4" y1="393.7" x2="213.9" y2="397.2" stroke="#000" stroke-width="2.0" stroke-linecap="round"/>
<path d="M211.5 402.5L211.2 395.4L216.9 398.0Z" fill="#000" stroke="#000" stroke-width="0.4" stroke-linejoin="round"/>
<line x1="235.2" y1="109.8" x2="235.2" y2="112.7" stroke="#000" stroke-width="2.0" stroke-linecap="round"/>
<path d="M235.2 118.5L232.1 112.2L238.3 112.2Z" fill="#000" stroke="#000" stroke-width="0.4" stroke-linejoin="round"/>
<line x1="235.2" y1="405.5" x2="235.2" y2="408.4" stroke="#000" stroke-width="2.0" stroke-linecap="round"/>
<path d="M235.2 414.2L232.1 407.9L238.3 407.9Z" fill="#000" stroke="#000" stroke-width="0.4" stroke-linejoin="round"/>
<line x1="288.9" y1="79.9" x2="279.6" y2="84.1" stroke="#000" stroke-width="2.0" stroke-linecap="round"/>
<path d="M274.3 86.5L278.8 81.1L281.4 86.7Z" fill="#000" stroke="#000" stroke-width="0.4" stroke-linejoin="round"/>
<line x1="288.9" y1="375.6" x2="279.6" y2="379.8" stroke="#000" stroke-width="2.0" stroke-linecap="round"/>
<path d="M274.3 382.2L278.8 376.8L281.4 382.4Z" fill="#000" stroke="#000" stroke-width="0.4" stroke-linejoin="round"/>
<line x1="420.7" y1="55.0" x2="411.8" y2="55.0" stroke="#000" stroke-width="2.0" stroke-linecap="round"/>
<path d="M406.0 55.0L412.3 51.9L412.3 58.1Z" fill="#000" stroke="#000" stroke-width="0.4" stroke-linejoin="round"/>
<line x1="420.7" y1="350.7" x2="411.8" y2="350.7" stroke="#000" stroke-width="2.0" stroke-linecap="round"/>
<path d="M406.0 350.7L412.3 347.6L412.3 353.8Z" fill="#000" stroke="#000" stroke-width="0.4" stroke-linejoin="round"/>
<line x1="371.2" y1="81.2" x2="393.0" y2="82.6" stroke="#000" stroke-width="2.0" stroke-linecap="round"/>
<path d="M398.8 83.0L392.3 85.7L392.7 79.5Z" fill="#000" stroke="#000" stroke-width="0.4" stroke-linejoin="round"/>
<line x1="371.2" y1="376.9" x2="393.0" y2="378.3" stroke="#000" stroke-width="2.0" stroke-linecap="round"/>
<path d="M398.8 378.7L392.3 381.4L392.7 375.2Z" fill="#000" stroke="#000" stroke-width="0.4" stroke-linejoin="round"/>
<line x1="381.3" y1="100.6" x2="393.0" y2="102.1" stroke="#000" stroke-width="2.0" stroke-linecap="round"/>
<path d="M398.8 102.9L392.2 105.1L392.9 99.0Z" fill="#000" stroke="#000" stroke-width="0.4" stroke-linejoin="round"/>
<line x1="381.3" y1="396.3" x2="393.0" y2="397.8" stroke="#000" stroke-width="2.0" stroke-linecap="round"/>
<path d="M398.8 398.6L392.2 400.8L392.9 394.7Z" fill="#000" stroke="#000" stroke-width="0.4" stroke-linejoin="round"/>
<line x1="466.6" y1="63.9" x2="463.6" y2="73.0" stroke="#000" stroke-width="2.0" stroke-linecap="round"/>
<path d="M461.7 78.5L460.8 71.5L466.7 73.5Z" fill="#000" stroke="#000" stroke-width="0.4" stroke-linejoin="round"/>
<line x1="466.6" y1="359.6" x2="463.6" y2="368.7" stroke="#000" stroke-width="2.0" stroke-linecap="round"/>
<path d="M461.7 374.2L460.8 367.2L466.7 369.2Z" fill="#000" stroke="#000" stroke-width="0.4" stroke-linejoin="round"/>
<line x1="528.9" y1="65.0" x2="520.7" y2="74.1" stroke="#000" stroke-width="2.0" stroke-linecap="round"/>
<path d="M516.8 78.4L518.7 71.6L523.3 75.8Z" fill="#000" stroke="#000" stroke-width="0.4" stroke-linejoin="round"/>
<line x1="528.9" y1="360.7" x2="520.7" y2="369.8" stroke="#000" stroke-width="2.0" stroke-linecap="round"/>
<path d="M516.8 374.1L518.7 367.3L523.3 371.5Z" fill="#000" stroke="#000" stroke-width="0.4" stroke-linejoin="round"/>
<line x1="453.6" y1="109.8" x2="453.6" y2="119.7" stroke="#000" stroke-width="2.0" stroke-linecap="round"/>
<path d="M453.6 125.5L450.5 119.2L456.7 119.2Z" fill="#000" stroke="#000" stroke-width="0.4" stroke-linejoin="round"/>
<line x1="453.6" y1="405.5" x2="453.6" y2="415.4" stroke="#000" stroke-width="2.0" stroke-linecap="round"/>
<path d="M453.6 421.2L450.5 414.9L456.7 414.9Z" fill="#000" stroke="#000" stroke-width="0.4" stroke-linejoin="round"/>
<line x1="336.0" y1="129.8" x2="336.0" y2="121.0" stroke="#000" stroke-width="2.0" stroke-linecap="round"/>
<path d="M336.0 115.2L339.1 121.5L332.9 121.5Z" fill="#000" stroke="#000" stroke-width="0.4" stroke-linejoin="round"/>
<line x1="336.0" y1="425.5" x2="336.0" y2="416.7" stroke="#000" stroke-width="2.0" stroke-linecap="round"/>
<path d="M336.0 410.9L339.1 417.2L332.9 417.2Z" fill="#000" stroke="#000" stroke-width="0.4" stroke-linejoin="round"/>
<line x1="260.6" y1="146.0" x2="252.9" y2="147.2" stroke="#000" stroke-width="2.0" stroke-linecap="round"/>
<path d="M247.2 148.1L253.0 144.0L253.9 150.2Z" fill="#000" stroke="#000" stroke-width="0.4" stroke-linejoin="round"/>
<line x1="260.6" y1="441.7" x2="252.9" y2="442.9" stroke="#000" stroke-width="2.0" stroke-linecap="round"/>
<path d="M247.2 443.8L253.0 439.7L253.9 445.9Z" fill="#000" stroke="#000" stroke-width="0.4" stroke-linejoin="round"/>
<line x1="473.9" y1="139.0" x2="470.3" y2="131.8" stroke="#000" stroke-width="2.0" stroke-linecap="round"/>
<path d="M467.8 126.6L473.3 130.8L467.8 133.6Z" fill="#000" stroke="#000" stroke-width="0.4" stroke-linejoin="round"/>
<line x1="473.9" y1="434.7" x2="470.3" y2="427.5" stroke="#000" stroke-width="2.0" stroke-linecap="round"/>
<path d="M467.8 422.3L473.3 426.5L467.8 429.3Z" fill="#000" stroke="#000" stroke-width="0.4" stroke-linejoin="round"/>
<line x1="589.3" y1="141.8" x2="596.3" y2="141.8" stroke="#000" stroke-width="2.0" stroke-linecap="round"/>
<path d="M602.1 141.8L595.8 144.9L595.8 138.7Z" fill="#000" stroke="#000" stroke-width="0.4" stroke-linejoin="round"/>
<line x1="589.3" y1="437.5" x2="596.3" y2="437.5" stroke="#000" stroke-width="2.0" stroke-linecap="round"/>
<path d="M602.1 437.5L595.8 440.6L595.8 434.4Z" fill="#000" stroke="#000" stroke-width="0.4" stroke-linejoin="round"/>
<line x1="391.7" y1="157.9" x2="401.2" y2="157.9" stroke="#000" stroke-width="2.0" stroke-linecap="round"/>
<path d="M407.0 157.9L400.7 161.0L400.7 154.8Z" fill="#000" stroke="#000" stroke-width="0.4" stroke-linejoin="round"/>
<line x1="391.7" y1="453.6" x2="401.2" y2="453.6" stroke="#000" stroke-width="2.0" stroke-linecap="round"/>
<path d="M407.0 453.6L400.7 456.7L400.7 450.5Z" fill="#000" stroke="#000" stroke-width="0.4" stroke-linejoin="round"/>
<line x1="392.4" y1="150.4" x2="397.3" y2="139.8" stroke="#000" stroke-width="2.0" stroke-linecap="round"/>
<path d="M399.7 134.5L399.9 141.6L394.3 139.0Z" fill="#000" stroke="#000" stroke-width="0.4" stroke-linejoin="round"/>
<line x1="392.4" y1="446.1" x2="397.3" y2="435.5" stroke="#000" stroke-width="2.0" stroke-linecap="round"/>
<path d="M399.7 430.2L399.9 437.3L394.3 434.7Z" fill="#000" stroke="#000" stroke-width="0.4" stroke-linejoin="round"/>
<line x1="564.6" y1="159.2" x2="555.6" y2="153.0" stroke="#000" stroke-width="2.0" stroke-linecap="round"/>
<path d="M550.8 149.7L557.7 150.7L554.2 155.8Z" fill="#000" stroke="#000" stroke-width="0.4" stroke-linejoin="round"/>
<line x1="564.6" y1="454.9" x2="555.6" y2="448.7" stroke="#000" stroke-width="2.0" stroke-linecap="round"/>
<path d="M550.8 445.4L557.7 446.4L554.2 451.5Z" fill="#000" stroke="#000" stroke-width="0.4" stroke-linejoin="round"/>
<line x1="250.0" y1="178.6" x2="250.0" y2="172.1" stroke="#000" stroke-width="2.0" stroke-linecap="round"/>
<path d="M250.0 166.3L253.1 172.6L246.9 172.6Z" fill="#000" stroke="#000" stroke-width="0.4" stroke-linejoin="round"/>
<line x1="250.0" y1="474.3" x2="250.0" y2="467.8" stroke="#000" stroke-width="2.0" stroke-linecap="round"/>
<path d="M250.0 462.0L253.1 468.3L246.9 468.3Z" fill="#000" stroke="#000" stroke-width="0.4" stroke-linejoin="round"/>
<line x1="357.0" y1="191.6" x2="359.6" y2="194.6" stroke="#000" stroke-width="2.0" stroke-linecap="round"/>
<path d="M363.3 199.0L356.9 196.2L361.6 192.2Z" fill="#000" stroke="#000" stroke-width="0.4" stroke-linejoin="round"/>
<line x1="357.0" y1="487.3" x2="359.6" y2="490.3" stroke="#000" stroke-width="2.0" stroke-linecap="round"/>
<path d="M363.3 494.7L356.9 491.9L361.6 487.9Z" fill="#000" stroke="#000" stroke-width="0.4" stroke-linejoin="round"/>
<line x1="454.8" y1="188.0" x2="458.9" y2="176.6" stroke="#000" stroke-width="2.0" stroke-linecap="round"/>
<path d="M460.9 171.1L461.7 178.1L455.8 176.0Z" fill="#000" stroke="#000" stroke-width="0.4" stroke-linejoin="round"/>
<line x1="454.8" y1="483.7" x2="458.9" y2="472.3" stroke="#000" stroke-width="2.0" stroke-linecap="round"/>
<path d="M460.9 466.8L461.7 473.8L455.8 471.7Z" fill="#000" stroke="#000" stroke-width="0.4" stroke-linejoin="round"/>
<line x1="578.3" y1="199.8" x2="573.2" y2="212.6" stroke="#000" stroke-width="2.0" stroke-linecap="round"/>
<path d="M571.1 218.0L570.6 211.0L576.3 213.2Z" fill="#000" stroke="#000" stroke-width="0.4" stroke-linejoin="round"/>
<line x1="578.3" y1="495.5" x2="573.2" y2="508.3" stroke="#000" stroke-width="2.0" stroke-linecap="round"/>
<path d="M571.1 513.7L570.6 506.7L576.3 508.9Z" fill="#000" stroke="#000" stroke-width="0.4" stroke-linejoin="round"/>
<line x1="335.7" y1="219.2" x2="343.1" y2="219.2" stroke="#000" stroke-width="2.0" stroke-linecap="round"/>
<path d="M348.9 219.2L342.6 222.3L342.6 216.1Z" fill="#000" stroke="#000" stroke-width="0.4" stroke-linejoin="round"/>
<line x1="335.7" y1="514.9" x2="343.1" y2="514.9" stroke="#000" stroke-width="2.0" stroke-linecap="round"/>
<path d="M348.9 514.9L342.6 518.0L342.6 511.8Z" fill="#000" stroke="#000" stroke-width="0.4" stroke-linejoin="round"/>
<line x1="420.0" y1="219.0" x2="412.3" y2="219.0" stroke="#000" stroke-width="2.0" stroke-linecap="round"/>
<path d="M406.5 219.0L412.8 215.9L412.8 222.1Z" fill="#000" stroke="#000" stroke-width="0.4" stroke-linejoin="round"/>
<line x1="420.0" y1="514.7" x2="412.3" y2="514.7" stroke="#000" stroke-width="2.0" stroke-linecap="round"/>
<path d="M406.5 514.7L412.8 511.6L412.8 517.8Z" fill="#000" stroke="#000" stroke-width="0.4" stroke-linejoin="round"/>
<line x1="432.4" y1="235.0" x2="424.8" y2="235.0" stroke="#000" stroke-width="2.0" stroke-linecap="round"/>
<path d="M419.0 235.0L425.3 231.9L425.3 238.1Z" fill="#000" stroke="#000" stroke-width="0.4" stroke-linejoin="round"/>
<line x1="432.4" y1="530.7" x2="424.8" y2="530.7" stroke="#000" stroke-width="2.0" stroke-linecap="round"/>
<path d="M419.0 530.7L425.3 527.6L425.3 533.8Z" fill="#000" stroke="#000" stroke-width="0.4" stroke-linejoin="round"/>
<line x1="557.0" y1="249.8" x2="566.3" y2="240.5" stroke="#000" stroke-width="2.0" stroke-linecap="round"/>
<path d="M570.4 236.4L568.1 243.1L563.7 238.7Z" fill="#000" stroke="#000" stroke-width="0.4" stroke-linejoin="round"/>
<line x1="557.0" y1="545.5" x2="566.3" y2="536.2" stroke="#000" stroke-width="2.0" stroke-linecap="round"/>
<path d="M570.4 532.1L568.1 538.8L563.7 534.4Z" fill="#000" stroke="#000" stroke-width="0.4" stroke-linejoin="round"/>
<line x1="221.8" y1="253.3" x2="245.0" y2="245.2" stroke="#000" stroke-width="2.0" stroke-linecap="round"/>
<path d="M250.5 243.2L245.6 248.2L243.5 242.4Z" fill="#000" stroke="#000" stroke-width="0.4" stroke-linejoin="round"/>
<line x1="221.8" y1="549.0" x2="245.0" y2="540.9" stroke="#000" stroke-width="2.0" stroke-linecap="round"/>
<path d="M250.5 538.9L245.6 543.9L243.5 538.1Z" fill="#000" stroke="#000" stroke-width="0.4" stroke-linejoin="round"/>
<line x1="370.0" y1="296.9" x2="379.4" y2="286.7" stroke="#000" stroke-width="2.0" stroke-linecap="round"/>
<path d="M383.3 282.4L381.3 289.2L376.8 285.0Z" fill="#000" stroke="#000" stroke-width="0.4" stroke-linejoin="round"/>
<line x1="370.0" y1="592.6" x2="379.4" y2="582.4" stroke="#000" stroke-width="2.0" stroke-linecap="round"/>
<path d="M383.3 578.1L381.3 584.9L376.8 580.7Z" fill="#000" stroke="#000" stroke-width="0.4" stroke-linejoin="round"/>
<line x1="85.8" y1="286.3" x2="85.8" y2="292.7" stroke="#000" stroke-width="2.0" stroke-linecap="round"/>
<path d="M85.8 298.5L82.7 292.2L88.9 292.2Z" fill="#000" stroke="#000" stroke-width="0.4" stroke-linejoin="round"/>
<line x1="85.8" y1="582.0" x2="85.8" y2="588.4" stroke="#000" stroke-width="2.0" stroke-linecap="round"/>
<path d="M85.8 594.2L82.7 587.9L88.9 587.9Z" fill="#000" stroke="#000" stroke-width="0.4" stroke-linejoin="round"/>
<line x1="586.0" y1="286.3" x2="586.0" y2="292.3" stroke="#000" stroke-width="2.0" stroke-linecap="round"/>
<path d="M586.0 298.1L582.9 291.8L589.1 291.8Z" fill="#000" stroke="#000" stroke-width="0.4" stroke-linejoin="round"/>
<line x1="586.0" y1="582.0" x2="586.0" y2="588.0" stroke="#000" stroke-width="2.0" stroke-linecap="round"/>
<path d="M586.0 593.8L582.9 587.5L589.1 587.5Z" fill="#000" stroke="#000" stroke-width="0.4" stroke-linejoin="round"/>
<line x1="496.0" y1="305.6" x2="517.7" y2="305.6" stroke="#000" stroke-width="2.0" stroke-linecap="round"/>
<path d="M523.5 305.6L517.2 308.7L517.2 302.5Z" fill="#000" stroke="#000" stroke-width="0.4" stroke-linejoin="round"/>
<line x1="496.0" y1="601.3" x2="517.7" y2="601.3" stroke="#000" stroke-width="2.0" stroke-linecap="round"/>
<path d="M523.5 601.3L517.2 604.4L517.2 598.2Z" fill="#000" stroke="#000" stroke-width="0.4" stroke-linejoin="round"/>
<line x1="211.2" y1="305.8" x2="201.2" y2="305.8" stroke="#000" stroke-width="2.0" stroke-linecap="round"/>
<path d="M195.4 305.8L201.7 302.7L201.7 308.9Z" fill="#000" stroke="#000" stroke-width="0.4" stroke-linejoin="round"/>
<line x1="211.2" y1="601.5" x2="201.2" y2="601.5" stroke="#000" stroke-width="2.0" stroke-linecap="round"/>
<path d="M195.4 601.5L201.7 598.4L201.7 604.6Z" fill="#000" stroke="#000" stroke-width="0.4" stroke-linejoin="round"/>
<defs><linearGradient id="cgl" x1="0" x2="1" y1="0" y2="0">
<stop offset="0.000" stop-color="#800000"/>
<stop offset="0.025" stop-color="#9c0000"/>
<stop offset="0.050" stop-color="#b90000"/>
<stop offset="0.075" stop-color="#d60000"/>
<stop offset="0.100" stop-color="#f30900"/>
<stop offset="0.125" stop-color="#ff2100"/>
<stop offset="0.150" stop-color="#ff3900"/>
<stop offset="0.175" stop-color="#ff5000"/>
<stop offset="0.200" stop-color="#ff6800"/>
<stop offset="0.225" stop-color="#ff8000"/>
<stop offset="0.250" stop-color="#ff9700"/>
<stop offset="0.275" stop-color="#ffaf00"/>
<stop offset="0.300" stop-color="#ffc600"/>
<stop offset="0.325" stop-color="#ffde00"/>
<stop offset="0.350" stop-color="#f7f600"/>
<stop offset="0.375" stop-color="#e2ff15"/>
<stop offset="0.400" stop-color="#ceff29"/>
<stop offset="0.425" stop-color="#b9ff3e"/>
<stop offset="0.450" stop-color="#a5ff52"/>
<stop offset="0.475" stop-color="#90ff67"/>
<stop offset="0.500" stop-color="#7bff7b"/>
<stop offset="0.525" stop-color="#67ff90"/>
<stop offset="0.550" stop-color="#52ffa5"/>
<stop offset="0.575" stop-color="#3effb9"/>
<stop offset="0.600" stop-color="#29ffce"/>
<stop offset="0.625" stop-color="#15ffe2"/>
<stop offset="0.650" stop-color="#00e5f7"/>
<stop offset="0.675" stop-color="#00ccff"/>
<stop offset="0.700" stop-color="#00b3ff"/>
<stop offset="0.725" stop-color="#0099ff"/>
<stop offset="0.750" stop-color="#0080ff"/>
<stop offset="0.775" stop-color="#0066ff"/>
<stop offset="0.800" stop-color="#004cff"/>
<stop offset="0.825" stop-color="#0033ff"/>
<stop offset="0.850" stop-color="#001aff"/>
<stop offset="0.875" stop-color="#0000ff"/>
<stop offset="0.900" stop-color="#0000f3"/>
<stop offset="0.925" stop-color="#0000d6"/>
<stop offset="0.950" stop-color="#0000b9"/>
<stop offset="0.975" stop-color="#00009c"/>
<stop offset="1.000" stop-color="#000080"/>
</linearGradient></defs>
<rect x="71.9" y="167.6" width="150.0" height="7.9" fill="url(#cgl)" stroke="#262626" stroke-width="1"/>
<path d="M71.9 175.5v3.3M109.4 175.5v3.3M146.9 175.5v3.3M184.4 175.5v3.3M221.9 175.5v3.3" stroke="#262626" stroke-width="1"/>
<text x="71.9" y="194.0" font-size="14.42" textLength="28.7" lengthAdjust="spacingAndGlyphs" text-anchor="middle" style="font-family:'Liberation Sans',sans-serif" >−20</text>
<text x="109.4" y="194.0" font-size="14.42" textLength="28.7" lengthAdjust="spacingAndGlyphs" text-anchor="middle" style="font-family:'Liberation Sans',sans-serif" >−10</text>
<text x="146.9" y="194.0" font-size="14.42" textLength="8.7" lengthAdjust="spacingAndGlyphs" text-anchor="middle" style="font-family:'Liberation Sans',sans-serif" >0</text>
<text x="184.4" y="194.0" font-size="14.42" textLength="17.3" lengthAdjust="spacingAndGlyphs" text-anchor="middle" style="font-family:'Liberation Sans',sans-serif" >10</text>
<text x="221.9" y="194.0" font-size="14.42" textLength="17.3" lengthAdjust="spacingAndGlyphs" text-anchor="middle" style="font-family:'Liberation Sans',sans-serif" >20</text>
<g style="font-family:'Liberation Sans',sans-serif" fill="#000" stroke="#000" stroke-width="0.2">
<text x="98.4" y="213.1" font-size="15" font-style="italic">μ</text>
<text x="106.4" y="214.9" font-size="14.4" font-style="italic">ℓ</text>
<text x="120.8" y="213.1" font-size="15.2" textLength="32.6" lengthAdjust="spacingAndGlyphs">[mas</text>
<text x="154.3" y="213.1" font-size="15.2" textLength="14.0" lengthAdjust="spacingAndGlyphs">yr</text>
<text x="168.9" y="207.1" font-size="10.6" textLength="16.8" lengthAdjust="spacingAndGlyphs">−1</text>
<text x="190.1" y="213.1" font-size="15.2">]</text>
</g>
<defs><linearGradient id="cgb" x1="0" x2="1" y1="0" y2="0">
<stop offset="0.000" stop-color="#800000"/>
<stop offset="0.025" stop-color="#9c0000"/>
<stop offset="0.050" stop-color="#b90000"/>
<stop offset="0.075" stop-color="#d60000"/>
<stop offset="0.100" stop-color="#f30900"/>
<stop offset="0.125" stop-color="#ff2100"/>
<stop offset="0.150" stop-color="#ff3900"/>
<stop offset="0.175" stop-color="#ff5000"/>
<stop offset="0.200" stop-color="#ff6800"/>
<stop offset="0.225" stop-color="#ff8000"/>
<stop offset="0.250" stop-color="#ff9700"/>
<stop offset="0.275" stop-color="#ffaf00"/>
<stop offset="0.300" stop-color="#ffc600"/>
<stop offset="0.325" stop-color="#ffde00"/>
<stop offset="0.350" stop-color="#f7f600"/>
<stop offset="0.375" stop-color="#e2ff15"/>
<stop offset="0.400" stop-color="#ceff29"/>
<stop offset="0.425" stop-color="#b9ff3e"/>
<stop offset="0.450" stop-color="#a5ff52"/>
<stop offset="0.475" stop-color="#90ff67"/>
<stop offset="0.500" stop-color="#7bff7b"/>
<stop offset="0.525" stop-color="#67ff90"/>
<stop offset="0.550" stop-color="#52ffa5"/>
<stop offset="0.575" stop-color="#3effb9"/>
<stop offset="0.600" stop-color="#29ffce"/>
<stop offset="0.625" stop-color="#15ffe2"/>
<stop offset="0.650" stop-color="#00e5f7"/>
<stop offset="0.675" stop-color="#00ccff"/>
<stop offset="0.700" stop-color="#00b3ff"/>
<stop offset="0.725" stop-color="#0099ff"/>
<stop offset="0.750" stop-color="#0080ff"/>
<stop offset="0.775" stop-color="#0066ff"/>
<stop offset="0.800" stop-color="#004cff"/>
<stop offset="0.825" stop-color="#0033ff"/>
<stop offset="0.850" stop-color="#001aff"/>
<stop offset="0.875" stop-color="#0000ff"/>
<stop offset="0.900" stop-color="#0000f3"/>
<stop offset="0.925" stop-color="#0000d6"/>
<stop offset="0.950" stop-color="#0000b9"/>
<stop offset="0.975" stop-color="#00009c"/>
<stop offset="1.000" stop-color="#000080"/>
</linearGradient></defs>
<rect x="71.9" y="463.3" width="150.0" height="7.9" fill="url(#cgb)" stroke="#262626" stroke-width="1"/>
<path d="M71.9 471.2v3.3M109.4 471.2v3.3M146.9 471.2v3.3M184.4 471.2v3.3M221.9 471.2v3.3" stroke="#262626" stroke-width="1"/>
<text x="71.9" y="489.7" font-size="14.42" textLength="28.7" lengthAdjust="spacingAndGlyphs" text-anchor="middle" style="font-family:'Liberation Sans',sans-serif" >−20</text>
<text x="109.4" y="489.7" font-size="14.42" textLength="28.7" lengthAdjust="spacingAndGlyphs" text-anchor="middle" style="font-family:'Liberation Sans',sans-serif" >−10</text>
<text x="146.9" y="489.7" font-size="14.42" textLength="8.7" lengthAdjust="spacingAndGlyphs" text-anchor="middle" style="font-family:'Liberation Sans',sans-serif" >0</text>
<text x="184.4" y="489.7" font-size="14.42" textLength="17.3" lengthAdjust="spacingAndGlyphs" text-anchor="middle" style="font-family:'Liberation Sans',sans-serif" >10</text>
<text x="221.9" y="489.7" font-size="14.42" textLength="17.3" lengthAdjust="spacingAndGlyphs" text-anchor="middle" style="font-family:'Liberation Sans',sans-serif" >20</text>
<g style="font-family:'Liberation Sans',sans-serif" fill="#000" stroke="#000" stroke-width="0.2">
<text x="97.0" y="508.8" font-size="15" font-style="italic">μ</text>
<text x="105.6" y="510.6" font-size="12.2" font-style="italic">b</text>
<text x="120.8" y="508.8" font-size="15.2" textLength="32.6" lengthAdjust="spacingAndGlyphs">[mas</text>
<text x="154.3" y="508.8" font-size="15.2" textLength="14.0" lengthAdjust="spacingAndGlyphs">yr</text>
<text x="168.9" y="502.8" font-size="10.6" textLength="16.8" lengthAdjust="spacingAndGlyphs">−1</text>
<text x="190.1" y="508.8" font-size="15.2">]</text>
</g>
<text transform="translate(13.4 207.60) rotate(-90)" style="font-family:'Liberation Sans',sans-serif" font-size="16.2" stroke="#000" stroke-width="0.2"><tspan x="-0.2" font-style="italic">b</tspan><tspan x="12.0" textLength="40" lengthAdjust="spacingAndGlyphs">(deg)</tspan></text>
<text transform="translate(13.4 503.30) rotate(-90)" style="font-family:'Liberation Sans',sans-serif" font-size="16.2" stroke="#000" stroke-width="0.2"><tspan x="-0.2" font-style="italic">b</tspan><tspan x="12.0" textLength="40" lengthAdjust="spacingAndGlyphs">(deg)</tspan></text>
<text x="310.6" y="650.3" style="font-family:'Liberation Sans',sans-serif" font-size="16.2" textLength="49.4" lengthAdjust="spacingAndGlyphs" stroke="#000" stroke-width="0.2"><tspan font-style="italic">ℓ</tspan> (deg)</text>
<text x="180.3" y="17" font-size="21" textLength="274.5" lengthAdjust="spacingAndGlyphs" style="font-family:'Liberation Serif',serif">Gaia DR2 detections, [1, 30] kpc</text>
</svg></body></html>
